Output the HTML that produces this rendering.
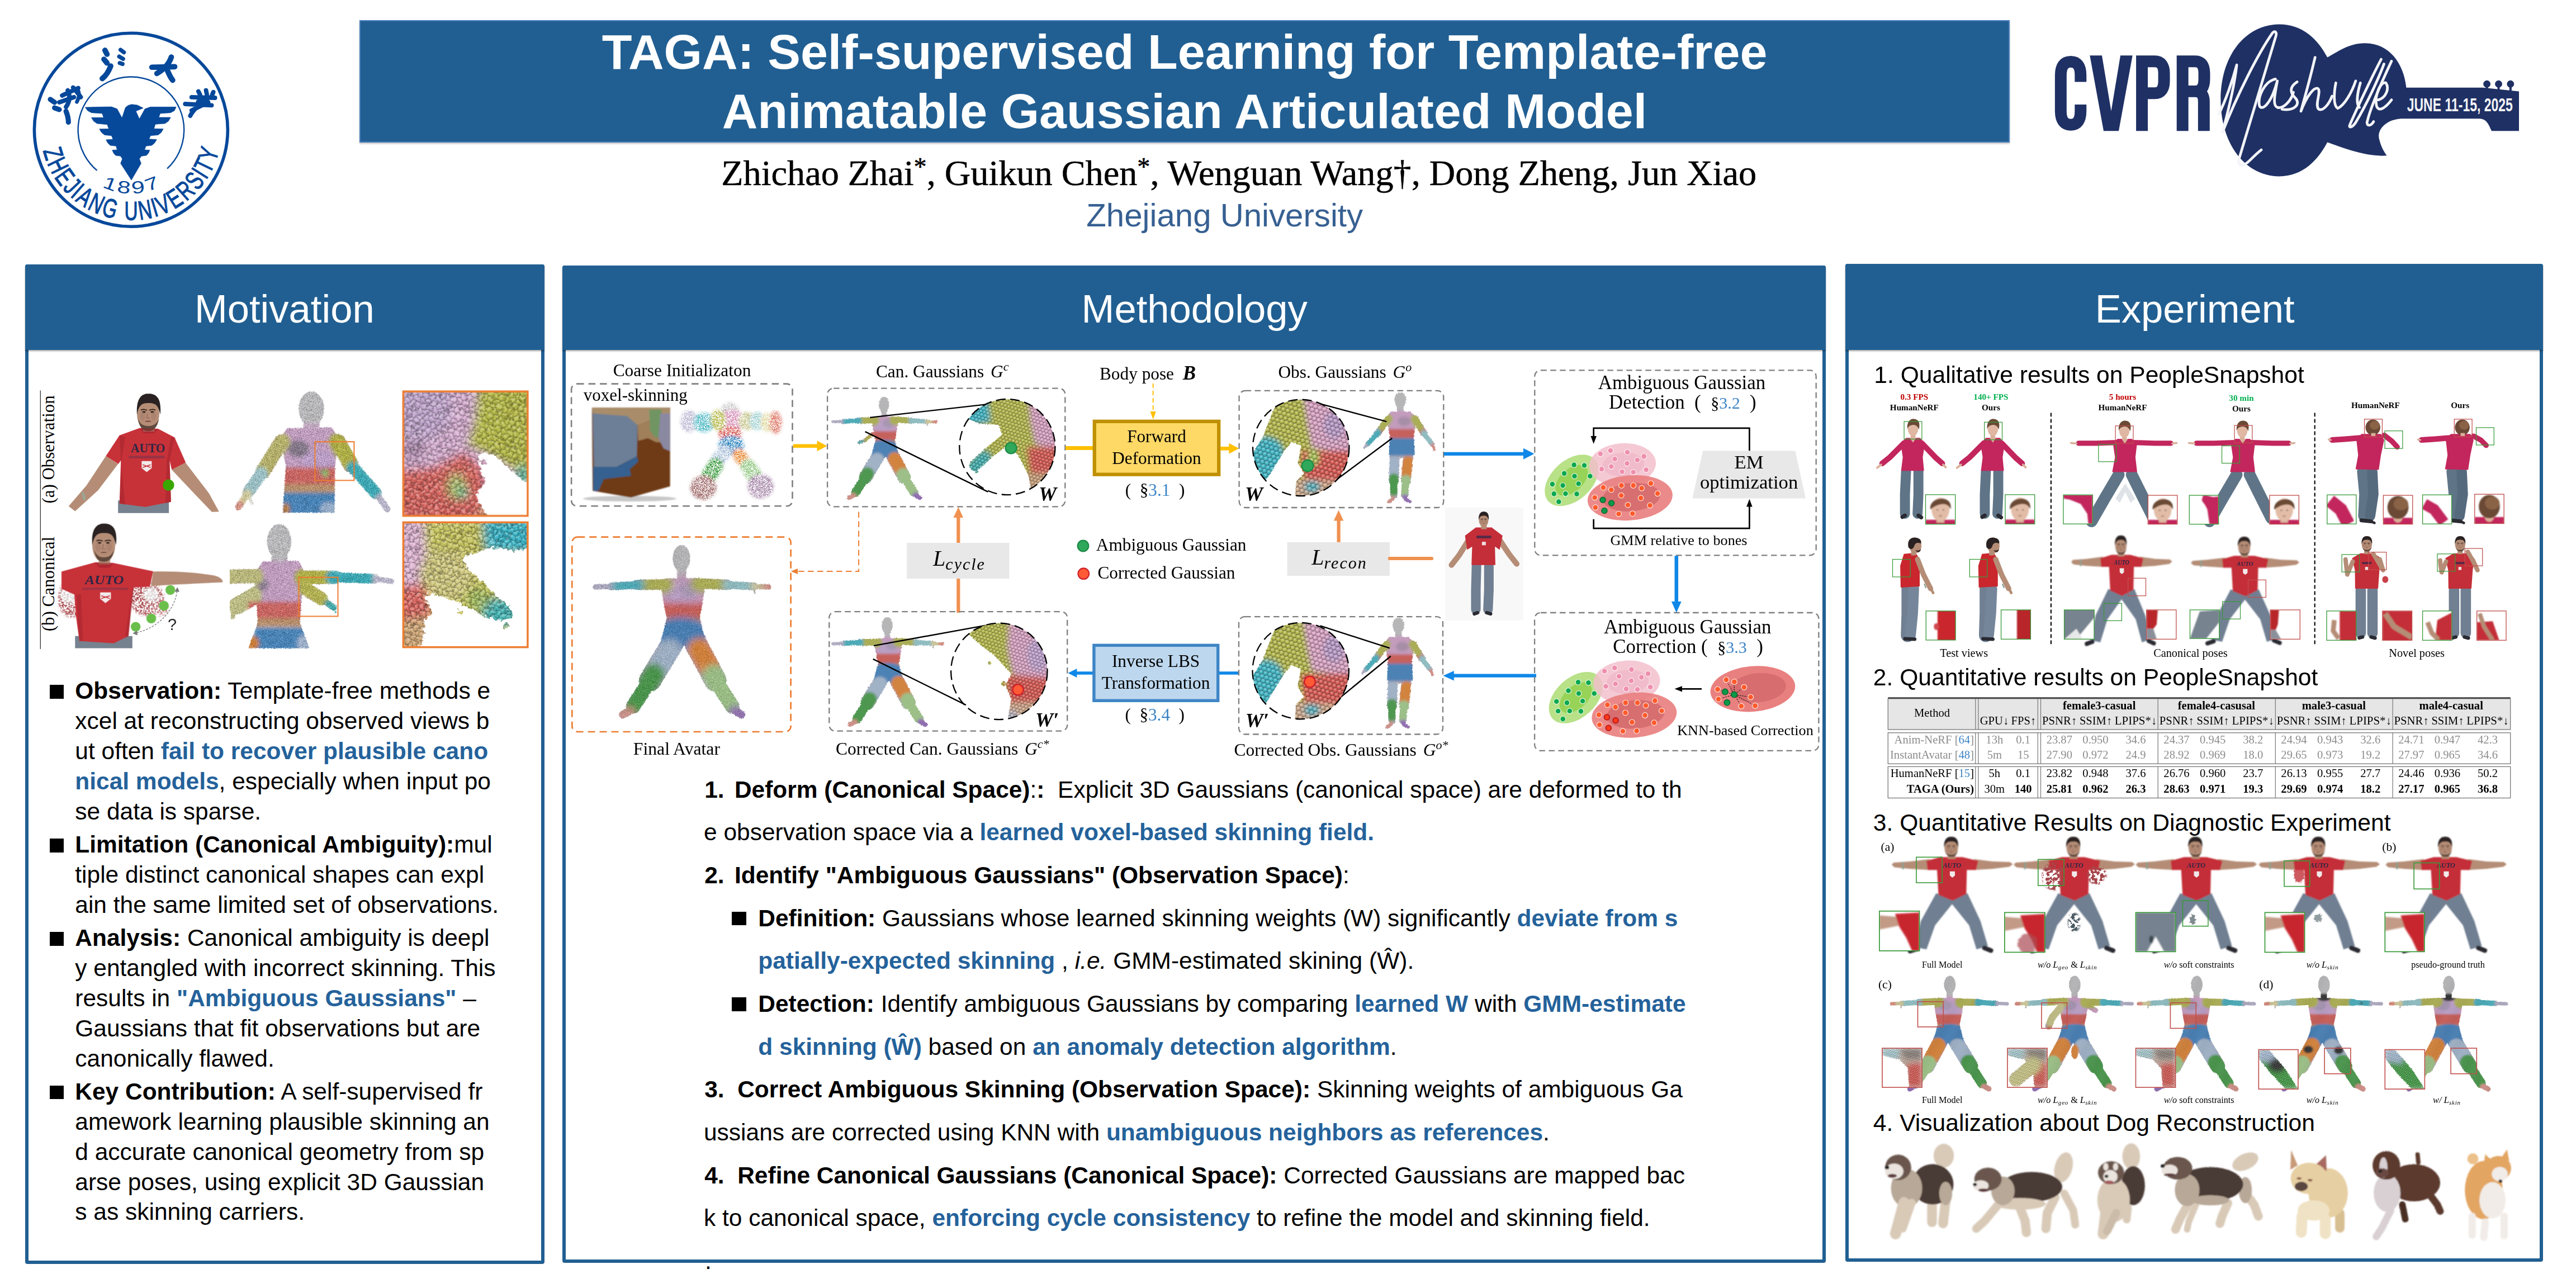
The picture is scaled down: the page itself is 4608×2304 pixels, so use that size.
<!DOCTYPE html>
<html lang="en"><head><meta charset="utf-8"><title>TAGA poster</title>
<style>
html,body{margin:0;padding:0;background:#fff;}
body{width:4608px;height:2304px;position:relative;overflow:hidden;font-family:"Liberation Sans",sans-serif;color:#000;}
.a{position:absolute;box-sizing:border-box;}
.t{position:absolute;white-space:pre;line-height:1;}
.s{font-family:"Liberation Sans",sans-serif;}
.r{font-family:"Liberation Serif",serif;}
svg{position:absolute;left:0;top:0;overflow:visible;}
b{font-weight:bold;}
.h{color:#24629b;font-weight:bold;}
svg text{white-space:pre;}
.sr{font-family:"Liberation Serif",serif;}
.ss{font-family:"Liberation Sans",sans-serif;}
</style></head>
<body>
<svg width="0" height="0" style="position:absolute"><defs>
<filter id="b1" x="-30%" y="-30%" width="160%" height="160%"><feGaussianBlur stdDeviation="1"/></filter>
<filter id="b2" x="-30%" y="-30%" width="160%" height="160%"><feGaussianBlur stdDeviation="2"/></filter>
<filter id="b3" x="-30%" y="-30%" width="160%" height="160%"><feGaussianBlur stdDeviation="3"/></filter>
<filter id="b5" x="-30%" y="-30%" width="160%" height="160%"><feGaussianBlur stdDeviation="5"/></filter>
<filter id="b8" x="-30%" y="-30%" width="160%" height="160%"><feGaussianBlur stdDeviation="8"/></filter>
<filter id="b12" x="-30%" y="-30%" width="160%" height="160%"><feGaussianBlur stdDeviation="12"/></filter>
<filter id="b20" x="-30%" y="-30%" width="160%" height="160%"><feGaussianBlur stdDeviation="20"/></filter>
<filter id="rg1" x="-20%" y="-20%" width="140%" height="140%"><feTurbulence type="fractalNoise" baseFrequency="0.9" numOctaves="2" seed="7" result="n"/><feDisplacementMap in="SourceGraphic" in2="n" scale="2.2" xChannelSelector="R" yChannelSelector="G"/></filter>
<filter id="rg2" x="-20%" y="-20%" width="140%" height="140%"><feTurbulence type="fractalNoise" baseFrequency="0.5" numOctaves="2" seed="7" result="n"/><feDisplacementMap in="SourceGraphic" in2="n" scale="4" xChannelSelector="R" yChannelSelector="G"/></filter>
<filter id="rg3" x="-20%" y="-20%" width="140%" height="140%"><feTurbulence type="fractalNoise" baseFrequency="0.25" numOctaves="2" seed="7" result="n"/><feDisplacementMap in="SourceGraphic" in2="n" scale="8" xChannelSelector="R" yChannelSelector="G"/></filter>
<filter id="rg4" x="-20%" y="-20%" width="140%" height="140%"><feTurbulence type="fractalNoise" baseFrequency="0.12" numOctaves="2" seed="7" result="n"/><feDisplacementMap in="SourceGraphic" in2="n" scale="16" xChannelSelector="R" yChannelSelector="G"/></filter>
<filter id="rg5" x="-20%" y="-20%" width="140%" height="140%"><feTurbulence type="fractalNoise" baseFrequency="0.07" numOctaves="2" seed="7" result="n"/><feDisplacementMap in="SourceGraphic" in2="n" scale="30" xChannelSelector="R" yChannelSelector="G"/></filter>
<filter id="pj1" x="-20%" y="-20%" width="140%" height="140%"><feTurbulence type="fractalNoise" baseFrequency="0.5" numOctaves="2" seed="7" result="n"/><feDisplacementMap in="SourceGraphic" in2="n" scale="3" xChannelSelector="R" yChannelSelector="G"/></filter>
<filter id="pj2" x="-20%" y="-20%" width="140%" height="140%"><feTurbulence type="fractalNoise" baseFrequency="0.2" numOctaves="2" seed="7" result="n"/><feDisplacementMap in="SourceGraphic" in2="n" scale="9" xChannelSelector="R" yChannelSelector="G"/></filter>
<filter id="pj3" x="-20%" y="-20%" width="140%" height="140%"><feTurbulence type="fractalNoise" baseFrequency="0.08" numOctaves="2" seed="7" result="n"/><feDisplacementMap in="SourceGraphic" in2="n" scale="22" xChannelSelector="R" yChannelSelector="G"/></filter>
<filter id="pj4" x="-20%" y="-20%" width="140%" height="140%"><feTurbulence type="fractalNoise" baseFrequency="0.05" numOctaves="2" seed="7" result="n"/><feDisplacementMap in="SourceGraphic" in2="n" scale="34" xChannelSelector="R" yChannelSelector="G"/></filter>
<filter id="frag" x="-10%" y="-10%" width="120%" height="120%"><feTurbulence type="fractalNoise" baseFrequency="0.09" numOctaves="2" seed="11" result="n"/><feColorMatrix in="n" type="matrix" values="0 0 0 0 0  0 0 0 0 0  0 0 0 0 0  0 0 0 16 -7.6" result="m"/><feComposite in="SourceGraphic" in2="m" operator="in"/></filter>
<radialGradient id="ballg" cx="38%" cy="34%" r="62%"><stop offset="0" stop-color="#fff" stop-opacity=".42"/><stop offset=".45" stop-color="#fff" stop-opacity=".08"/><stop offset=".8" stop-color="#000" stop-opacity=".14"/><stop offset="1" stop-color="#000" stop-opacity=".42"/></radialGradient>
</defs></svg>
<!-- header -->
<div class="a" style="left:643.4px;top:36px;width:2951.6px;height:218.6px;background:#215f92;border:2px solid #4a7ebb;box-shadow:0 2px 3px rgba(0,0,0,.25);"></div>
<div class="t s" style="top:49.01px;font-size:88px;left:2119.00px;transform:translateX(-50%);color:#fff;font-weight:bold;">TAGA: Self-supervised Learning for Template-free</div>
<div class="t s" style="top:154.91px;font-size:88px;left:2119.00px;transform:translateX(-50%);color:#fff;font-weight:bold;">Animatable Gaussian Articulated Model</div>
<style>.sp{font-size:.72em;position:relative;top:-.36em;}</style>
<div id="authors" class="t r" style="top:277.99px;font-size:64.25px;left:1290.30px;-webkit-text-stroke:0.5px #000;">Zhichao Zhai<span class="sp">*</span>, Guikun Chen<span class="sp">*</span>, Wenguan Wang†, Dong Zheng, Jun Xiao</div>
<div id="affil" class="t s" style="top:356.33px;font-size:58.2px;left:1943.30px;color:#376092;">Zhejiang University</div>
<svg width="4608" height="480" viewBox="0 0 4608 480">
<circle cx="234.4" cy="232.3" r="173" fill="#fff" stroke="#06489a" stroke-width="5.6"/>
<path d="M173.5,304.9 A94.8,94.8 0 1 1 299.1,301.6" fill="none" stroke="#06489a" stroke-width="2.4"/>
<path transform="translate(140,170) scale(0.124183)" d="M100,178 L300,172 L480,170 L560,200 L630,330 L680,180 L720,148 L770,135 L850,145 L935,188 L830,232 L880,345 L960,200 L1040,172 L1410,172 L1385,225 L1330,255 L1180,265 L1160,322 L1330,322 L1300,375 L1250,410 L1110,420 L1090,485 L1225,488 L1195,540 L1150,575 L1040,585 L1020,635 L1130,640 L1100,690 L1060,725 L975,735 L955,790 L1030,793 L1010,840 L980,870 L910,880 L880,920 L905,985 L765,1225 L610,985 L635,920 L610,880 L540,870 L510,840 L490,793 L560,790 L545,735 L460,725 L425,690 L400,645 L500,638 L480,585 L380,575 L335,540 L305,490 L440,487 L418,425 L270,410 L220,375 L190,325 L365,325 L345,265 L190,255 L135,225Z" fill="#06489a" stroke="#06489a" stroke-width="6" stroke-linejoin="round"/>
<text class="ss" font-size="47.5" fill="#06489a" text-anchor="middle" stroke="#06489a" stroke-width="1.2" transform="translate(79.8,279.2) rotate(73.1) scale(0.7,1)">Z</text><text class="ss" font-size="47.5" fill="#06489a" text-anchor="middle" stroke="#06489a" stroke-width="1.2" transform="translate(89.2,302.9) rotate(64.1) scale(0.7,1)">H</text><text class="ss" font-size="47.5" fill="#06489a" text-anchor="middle" stroke="#06489a" stroke-width="1.2" transform="translate(102.7,325.8) rotate(54.6) scale(0.7,1)">E</text><text class="ss" font-size="47.5" fill="#06489a" text-anchor="middle" stroke="#06489a" stroke-width="1.2" transform="translate(117.0,343.2) rotate(46.6) scale(0.7,1)">J</text><text class="ss" font-size="47.5" fill="#06489a" text-anchor="middle" stroke="#06489a" stroke-width="1.2" transform="translate(128.2,353.9) rotate(41.1) scale(0.7,1)">I</text><text class="ss" font-size="47.5" fill="#06489a" text-anchor="middle" stroke="#06489a" stroke-width="1.2" transform="translate(142.8,365.3) rotate(34.6) scale(0.7,1)">A</text><text class="ss" font-size="47.5" fill="#06489a" text-anchor="middle" stroke="#06489a" stroke-width="1.2" transform="translate(165.8,378.5) rotate(25.1) scale(0.7,1)">N</text><text class="ss" font-size="47.5" fill="#06489a" text-anchor="middle" stroke="#06489a" stroke-width="1.2" transform="translate(192.7,388.3) rotate(15.0) scale(0.7,1)">G</text><text class="ss" font-size="47.5" fill="#06489a" text-anchor="middle" stroke="#06489a" stroke-width="1.2" transform="translate(234.5,393.8) rotate(-0.0) scale(0.7,1)">U</text><text class="ss" font-size="47.5" fill="#06489a" text-anchor="middle" stroke="#06489a" stroke-width="1.2" transform="translate(262.0,391.4) rotate(-9.8) scale(0.7,1)">N</text><text class="ss" font-size="47.5" fill="#06489a" text-anchor="middle" stroke="#06489a" stroke-width="1.2" transform="translate(281.0,386.9) rotate(-16.8) scale(0.7,1)">I</text><text class="ss" font-size="47.5" fill="#06489a" text-anchor="middle" stroke="#06489a" stroke-width="1.2" transform="translate(298.3,380.6) rotate(-23.3) scale(0.7,1)">V</text><text class="ss" font-size="47.5" fill="#06489a" text-anchor="middle" stroke="#06489a" stroke-width="1.2" transform="translate(320.9,368.7) rotate(-32.4) scale(0.7,1)">E</text><text class="ss" font-size="47.5" fill="#06489a" text-anchor="middle" stroke="#06489a" stroke-width="1.2" transform="translate(342.1,352.6) rotate(-41.8) scale(0.7,1)">R</text><text class="ss" font-size="47.5" fill="#06489a" text-anchor="middle" stroke="#06489a" stroke-width="1.2" transform="translate(360.4,333.3) rotate(-51.3) scale(0.7,1)">S</text><text class="ss" font-size="47.5" fill="#06489a" text-anchor="middle" stroke="#06489a" stroke-width="1.2" transform="translate(371.1,318.3) rotate(-57.8) scale(0.7,1)">I</text><text class="ss" font-size="47.5" fill="#06489a" text-anchor="middle" stroke="#06489a" stroke-width="1.2" transform="translate(379.6,303.0) rotate(-64.1) scale(0.7,1)">T</text><text class="ss" font-size="47.5" fill="#06489a" text-anchor="middle" stroke="#06489a" stroke-width="1.2" transform="translate(388.7,280.1) rotate(-72.8) scale(0.7,1)">Y</text>
<text class="ss" font-size="36" fill="#06489a" text-anchor="middle" transform="translate(193.5,338.7) rotate(21.0) scale(1.2,0.86)">1</text><text class="ss" font-size="36" fill="#06489a" text-anchor="middle" transform="translate(220.5,345.5) rotate(7.0) scale(1.2,0.86)">8</text><text class="ss" font-size="36" fill="#06489a" text-anchor="middle" transform="translate(248.3,345.5) rotate(-7.0) scale(1.2,0.86)">9</text><text class="ss" font-size="36" fill="#06489a" text-anchor="middle" transform="translate(275.3,338.7) rotate(-21.0) scale(1.2,0.86)">7</text>
<g transform="translate(40,40) scale(0.3028)" fill="none" stroke="#06489a" stroke-linecap="round" stroke-linejoin="round"><path stroke-width="30" d="M165,455 L190,472 M190,505 L218,515 M258,525 Q272,560 272,590"/><path stroke-width="26" d="M235,432 L330,388 M268,402 Q292,452 258,500 M300,385 Q330,420 345,442 M218,472 L305,442"/><path stroke-width="22" d="M330,402 Q342,432 322,470"/><path stroke-width="32" d="M488,165 L500,188 M482,218 L500,240 M522,258 Q502,310 472,332"/><path stroke-width="24" d="M580,162 L600,177 M572,202 L595,216 M575,240 L592,246"/><path stroke-width="32" d="M765,265 L900,262 M880,205 Q862,262 795,302 M852,272 Q872,322 888,342"/><path stroke-width="26" d="M1000,442 L1138,446 M1040,408 L1050,428 M1085,402 L1090,426 M1128,412 L1120,432 M962,482 L1118,490 M1000,520 L1098,472 M1030,502 Q1002,530 992,552"/><path stroke-width="30" d="M1040,470 L1090,468"/></g>
</svg>
<svg width="4608" height="480" viewBox="0 0 4608 480">
<g transform="translate(3660,30) scale(0.33773)">
<path d="M925,440 C925,200 1060,40 1235,40 C1360,40 1440,120 1490,215 C1540,190 1600,140 1690,140 C1820,140 1895,250 1908,375 L2315,375 L2505,395 L2505,605 L2360,605 C2340,560 2330,540 2290,540 L1880,540 C1800,545 1750,600 1765,650 C1775,690 1790,715 1805,735 C1700,745 1560,690 1490,665 C1440,760 1360,845 1235,845 C1060,845 925,680 925,440 Z" fill="#1f3064"/>
<circle cx="2335" cy="356" r="19" fill="#1f3064"/><rect x="2329" y="356" width="12" height="40" fill="#1f3064"/><circle cx="2397" cy="356" r="19" fill="#1f3064"/><rect x="2391" y="356" width="12" height="40" fill="#1f3064"/><circle cx="2460" cy="356" r="19" fill="#1f3064"/><rect x="2454" y="356" width="12" height="40" fill="#1f3064"/>
<g fill="none" stroke="#1f3064" stroke-width="62" stroke-linejoin="miter"><path d="M183,465 L183,500 Q183,572 131,572 Q78,572 78,500 L78,310 Q78,238 131,238 Q183,238 183,310 L183,345"/><path d="M232,205 L296,205 L345,500 L394,205 L458,205 L385,605 L305,605Z" fill="#1f3064" stroke="none"/><path d="M508,605 L508,236 L575,236 Q625,236 625,300 L625,340 Q625,405 575,405 L508,405"/><path d="M723,605 L723,236 L790,236 Q838,236 838,300 L838,330 Q838,395 790,395 L723,395 M790,395 Q836,395 836,450 L836,605"/></g>
<g fill="none" stroke="#f4f5f8" stroke-linecap="round" stroke-linejoin="round" stroke-width="14"><path d="M915,515 C950,450 990,330 1010,255 C1000,350 965,500 935,610"/><path d="M935,610 C1010,420 1120,200 1200,85 C1215,70 1225,85 1215,110 C1170,260 1080,560 1020,760 C1015,790 1040,800 1080,760 C1100,740 1120,720 1140,705"/><path d="M1215,330 C1160,340 1120,420 1130,470 C1140,500 1190,470 1225,340 C1210,420 1200,470 1225,480 C1260,490 1300,440 1310,400"/><path d="M1330,345 C1290,370 1290,400 1320,430 C1350,460 1320,500 1250,490"/><path d="M1425,215 C1400,320 1370,430 1350,500 C1380,420 1420,370 1440,380 C1460,395 1420,470 1445,490 C1470,500 1500,460 1515,420"/><path d="M1535,350 C1525,400 1520,470 1545,485 C1580,470 1620,400 1640,340"/><path d="M1665,350 C1650,400 1640,460 1660,480"/><path d="M1775,225 C1720,330 1640,500 1610,570 C1600,590 1620,590 1640,560 C1700,460 1760,330 1790,250"/><path d="M1830,235 C1790,320 1720,470 1700,560 C1700,580 1720,580 1735,555"/><path d="M1760,440 C1800,430 1820,380 1800,350 C1770,340 1740,420 1750,470 C1760,510 1800,480 1830,440"/></g>
<text class="ss" x="1912" y="500" font-size="100" font-weight="bold" fill="#f4f5f8" textLength="560" lengthAdjust="spacingAndGlyphs">JUNE 11-15, 2025</text>
</g></svg>

<!-- panels -->
<div class="a" style="left:44.5px;top:472.5px;width:929.5px;height:1788.0px;border:6px solid #215f92;border-radius:4px;background:#fff;"></div>
<div class="a" style="left:44.5px;top:472.5px;width:929.5px;height:153.10000000000002px;background:#215f92;border-radius:4px 4px 0 0;box-shadow:0 2px 3px rgba(0,0,0,.35);"></div>
<div class="t s" style="top:517.54px;font-size:70.6px;left:508.80px;transform:translateX(-50%);color:#fff;">Motivation</div>
<div class="a" style="left:1006px;top:475px;width:2259.6px;height:1784.3000000000002px;border:6px solid #215f92;border-radius:4px;background:#fff;"></div>
<div class="a" style="left:1006px;top:475px;width:2259.6px;height:150.60000000000002px;background:#215f92;border-radius:4px 4px 0 0;box-shadow:0 2px 3px rgba(0,0,0,.35);"></div>
<div class="t s" style="top:517.54px;font-size:70.6px;left:2136.70px;transform:translateX(-50%);color:#fff;">Methodology</div>
<div class="a" style="left:3301px;top:471.5px;width:1248.3000000000002px;height:1785.0px;border:6px solid #215f92;border-radius:4px;background:#fff;"></div>
<div class="a" style="left:3301px;top:471.5px;width:1248.3000000000002px;height:154.10000000000002px;background:#215f92;border-radius:4px 4px 0 0;box-shadow:0 2px 3px rgba(0,0,0,.35);"></div>
<div class="t s" style="top:517.54px;font-size:70.6px;left:3926.20px;transform:translateX(-50%);color:#fff;">Experiment</div>

<!-- motivation -->
<div class="a" style="left:88.5px;top:1225.2px;width:25px;height:24.5px;background:#000;"></div>
<div class="t s" style="top:1215.25px;font-size:42.47px;left:134.30px;"><b>Observation:</b> Template-free methods e</div>
<div class="t s" style="top:1269.13px;font-size:42.47px;left:134.30px;">xcel at reconstructing observed views b</div>
<div class="t s" style="top:1323.01px;font-size:42.47px;left:134.30px;">ut often <span class="h">fail to recover plausible cano</span></div>
<div class="t s" style="top:1376.89px;font-size:42.47px;left:134.30px;"><span class="h">nical models</span>, especially when input po</div>
<div class="t s" style="top:1430.77px;font-size:42.47px;left:134.30px;">se data is sparse.</div>
<div class="a" style="left:88.5px;top:1500.0000000000007px;width:25px;height:24.5px;background:#000;"></div>
<div class="t s" style="top:1490.05px;font-size:42.47px;left:134.30px;"><b>Limitation (Canonical Ambiguity):</b>mul</div>
<div class="t s" style="top:1543.93px;font-size:42.47px;left:134.30px;">tiple distinct canonical shapes can expl</div>
<div class="t s" style="top:1597.81px;font-size:42.47px;left:134.30px;">ain the same limited set of observations.</div>
<div class="a" style="left:88.5px;top:1667.040000000001px;width:25px;height:24.5px;background:#000;"></div>
<div class="t s" style="top:1657.09px;font-size:42.47px;left:134.30px;"><b>Analysis:</b> Canonical ambiguity is deepl</div>
<div class="t s" style="top:1710.97px;font-size:42.47px;left:134.30px;">y entangled with incorrect skinning. This</div>
<div class="t s" style="top:1764.85px;font-size:42.47px;left:134.30px;">results in <span class="h">"Ambiguous Gaussians"</span> –</div>
<div class="t s" style="top:1818.73px;font-size:42.47px;left:134.30px;">Gaussians that fit observations but are</div>
<div class="t s" style="top:1872.61px;font-size:42.47px;left:134.30px;">canonically flawed.</div>
<div class="a" style="left:88.5px;top:1941.8400000000017px;width:25px;height:24.5px;background:#000;"></div>
<div class="t s" style="top:1931.89px;font-size:42.47px;left:134.30px;"><b>Key Contribution:</b> A self-supervised fr</div>
<div class="t s" style="top:1985.77px;font-size:42.47px;left:134.30px;">amework learning plausible skinning an</div>
<div class="t s" style="top:2039.65px;font-size:42.47px;left:134.30px;">d accurate canonical geometry from sp</div>
<div class="t s" style="top:2093.53px;font-size:42.47px;left:134.30px;">arse poses, using explicit 3D Gaussian</div>
<div class="t s" style="top:2147.41px;font-size:42.47px;left:134.30px;">s as skinning carriers.</div>
<svg width="1000" height="1200" viewBox="0 0 1000 1200">
<defs><pattern id="mb1" width="17.48" height="30.40" patternUnits="userSpaceOnUse" patternTransform="rotate(17)"><circle cx="0.00" cy="0.00" r="10.64" fill="url(#ballg)"/><circle cx="17.48" cy="0.00" r="10.64" fill="url(#ballg)"/><circle cx="8.74" cy="15.20" r="10.64" fill="url(#ballg)"/><circle cx="0.00" cy="30.40" r="10.64" fill="url(#ballg)"/><circle cx="17.48" cy="30.40" r="10.64" fill="url(#ballg)"/></pattern>
<pattern id="mb2" width="27.60" height="48.00" patternUnits="userSpaceOnUse" patternTransform="rotate(17)"><circle cx="0.00" cy="0.00" r="16.80" fill="url(#ballg)"/><circle cx="27.60" cy="0.00" r="16.80" fill="url(#ballg)"/><circle cx="13.80" cy="24.00" r="16.80" fill="url(#ballg)"/><circle cx="0.00" cy="48.00" r="16.80" fill="url(#ballg)"/><circle cx="27.60" cy="48.00" r="16.80" fill="url(#ballg)"/></pattern>
</defs>
<line x1="72.3" y1="698.5" x2="72.3" y2="1161" stroke="#222" stroke-width="1.2"/>
<text class="sr" font-size="30.95" transform="translate(97,900.6) rotate(-90)">(a) Observation</text>
<text class="sr" font-size="30.95" transform="translate(97,1129.2) rotate(-90)">(b) Canonical</text>
<g transform="translate(60,680) scale(0.25621)">
<g filter="url(#b3)" stroke-linecap="round"><polygon points="1060,575 965,625 1130,800 1245,920 1295,918 1225,790" fill="#b58d76" /><polygon points="505,530 590,585 450,770 290,915 245,880 370,735" fill="#b58d76" /><line x1="345" y1="790" x2="355" y2="830" stroke-width="18" stroke="#9aa596"/><rect x="590" y="840" width="355" height="88" fill="#76828f" /><polygon points="740,335 870,340 985,400 1062,575 965,625 950,560 960,850 780,885 600,862 610,560 592,585 505,530 600,385" fill="#c73038" /><rect x="765" y="270" width="80" height="90" fill="#b58d76" /><ellipse cx="800" cy="235" rx="78" ry="118" fill="#b58d76" /><path d="M722,240 C715,120 760,92 805,95 C860,95 895,130 885,240 C870,170 850,160 800,160 C760,160 735,170 722,240Z" fill="#2a2421"/><path d="M730,270 C740,340 770,355 800,355 C835,355 865,335 875,270 C860,310 830,320 800,320 C770,320 745,310 730,270Z" fill="#4a382f" opacity=".8"/><ellipse cx="770.6" cy="222.4" rx="11.9" ry="5.775" fill="#2a1d18" /><ellipse cx="829.4" cy="222.4" rx="11.9" ry="5.775" fill="#2a1d18" /><path d="M751.0,208.75 Q770.6,199.3 790.2,209.8 M809.8,209.8 Q829.4,199.3 849.0,208.75" stroke="#2a1d18" stroke-width="6.3" fill="none"/><path d="M796.5,232.9 L790.2,264.4 L809.8,264.4" stroke="#8a6350" stroke-width="5.2" fill="none" opacity=".8"/><ellipse cx="800" cy="287.5" rx="21.0" ry="4.2" fill="#7a4a42" /><ellipse cx="761.5" cy="250.75" rx="17.5" ry="31.5" fill="#9a7460" opacity=".35"/><ellipse cx="838.5" cy="250.75" rx="17.5" ry="31.5" fill="#9a7460" opacity=".35"/><polygon points="600,385 640,400 615,560 600,860 640,870 610,560" fill="#8e1f28" opacity=".35"/><polygon points="960,400 985,400 950,560 960,850 920,860 930,560" fill="#8e1f28" opacity=".35"/><polygon points="740,335 870,340 840,372 770,372" fill="#9a2028" opacity=".5"/></g><text class="sr" x="800" y="503" font-size="92" font-weight="bold" text-anchor="middle" fill="#2d2545" textLength="240" lengthAdjust="spacingAndGlyphs" filter="url(#b1)">AUTO</text><rect x="665" y="528" width="250" height="18" fill="#7a3050" opacity=".6" filter="url(#b2)"/><path d="M755,565 L825,565 L825,615 L790,642 L755,615Z" fill="#f2e9ea" filter="url(#b1)"/><path d="M762,590 L818,610 M818,590 L762,610" stroke="#c73038" stroke-width="6"/><ellipse cx="942" cy="733" rx="40" ry="40" fill="#3aa600" />
<mask id="mka" maskUnits="userSpaceOnUse" x="1310" y="0" width="1330" height="1000"><g filter="url(#rg4)" fill="#fff" stroke="#fff" stroke-linecap="round" stroke-linejoin="round"><ellipse cx="1940" cy="200" rx="88" ry="122" /><rect x="1885" y="280" width="110" height="80" /><polygon points="1775,335 2080,330 2130,400 2105,600 2100,925 1740,925 1762,600 1722,400" /><polyline points="1730,430 1600,640" stroke-width="105" fill="none"/><polyline points="1600,640 1500,780" stroke-width="85" fill="none"/><polyline points="1500,780 1432,885" stroke-width="50" fill="none"/><line x1="1510" y1="830" x2="1525" y2="860" stroke-width="22"/><polyline points="2125,430 2215,590" stroke-width="110" fill="none"/><polyline points="2215,590 2390,790" stroke-width="85" fill="none"/><polyline points="2390,790 2470,900" stroke-width="45" fill="none"/></g></mask>
<g mask="url(#mka)"><g filter="url(#b12)" stroke-linecap="round"><rect x="1650" y="280" width="560" height="360" fill="#d2a6d0" /><ellipse cx="1940" cy="190" rx="130" ry="150" fill="#c9c9cc" /><rect x="1840" y="300" width="200" height="40" fill="#d9b8d6" /><ellipse cx="1850" cy="480" rx="75" ry="60" fill="#6f6a7a" opacity=".75"/><ellipse cx="1990" cy="560" rx="120" ry="70" fill="#c9a9dc" opacity=".8"/><rect x="1650" y="610" width="560" height="120" fill="#dc615b" /><rect x="1650" y="725" width="560" height="60" fill="#c9976a" /><rect x="1650" y="785" width="560" height="160" fill="#3d86c6" /><ellipse cx="2060" cy="900" rx="60" ry="50" fill="#9db9dc" /><ellipse cx="1760" cy="900" rx="30" ry="40" fill="#d0873a" /><polyline points="1730,430 1600,640" stroke-width="125" fill="none" stroke="#c6c16a"/><polyline points="1585,660 1505,775" stroke-width="105" fill="none" stroke="#a5d4da"/><polyline points="1490,800 1465,840" stroke-width="70" fill="none" stroke="#e8dfa6"/><polyline points="1440,870 1425,895" stroke-width="60" fill="none" stroke="#ee9a88"/><polyline points="2125,430 2205,570" stroke-width="130" fill="none" stroke="#bcbc3a"/><polyline points="2235,620 2380,780" stroke-width="105" fill="none" stroke="#2fb5c4"/><polyline points="2420,830 2475,905" stroke-width="70" fill="none" stroke="#c8c4de"/><ellipse cx="2040" cy="650" rx="18" ry="30" fill="#8bd06a" /><ellipse cx="2010" cy="640" rx="10" ry="16" fill="#55c9a0" /></g><rect x="1350" y="40" width="1250" height="920" fill="url(#mb1)" filter="url(#pj3)"/></g>
<rect x="1965" y="430" width="273" height="270" fill="none" stroke="#ed7d31" stroke-width="8"/></g>
<g transform="translate(60,920) scale(0.25621)">
<g filter="url(#b3)" stroke-linecap="round"><rect x="290" y="850" width="400" height="85" fill="#76828f" /><g filter="url(#frag)"><g filter="url(#b8)"><ellipse cx="265" cy="590" rx="95" ry="130" fill="#a8484e" /><ellipse cx="790" cy="590" rx="120" ry="120" fill="#a8484e" /><ellipse cx="880" cy="660" rx="60" ry="50" fill="#c07a7e" /><ellipse cx="250" cy="560" rx="60" ry="60" fill="#d9d0d0" /><ellipse cx="820" cy="560" rx="50" ry="50" fill="#d9d0d0" /></g></g><path d="M835,400 C1000,395 1150,410 1250,425 C1300,435 1325,455 1320,475 C1200,480 1000,490 820,500Z" fill="#b58d76"/><polygon points="195,400 430,335 560,340 835,398 812,505 700,510 690,560 662,850 560,900 320,885 295,700 285,560 195,520" fill="#c73038" /><rect x="455" y="250" width="80" height="100" fill="#b58d76" /><ellipse cx="490" cy="215" rx="80" ry="122" fill="#b58d76" /><path d="M410,215 C400,90 450,62 495,65 C550,65 590,100 575,215 C560,140 540,130 490,130 C450,130 425,140 410,215Z" fill="#2a2421"/><path d="M425,250 C435,315 460,330 490,330 C525,330 550,312 560,250 C545,290 520,300 490,300 C460,300 440,290 425,250Z" fill="#4a382f" opacity=".8"/><ellipse cx="460.6" cy="199.04" rx="11.9" ry="5.94" fill="#2a1d18" /><ellipse cx="519.4" cy="199.04" rx="11.9" ry="5.94" fill="#2a1d18" /><path d="M441.0,185.0 Q460.6,175.28 480.20000000000005,186.07999999999998 M499.79999999999995,186.07999999999998 Q519.4,175.28 539.0,185.0" stroke="#2a1d18" stroke-width="6.5" fill="none"/><path d="M486.5,209.84 L480.2,242.24 L499.8,242.24" stroke="#8a6350" stroke-width="5.4" fill="none" opacity=".8"/><ellipse cx="490" cy="266.0" rx="21.0" ry="4.32" fill="#7a4a42" /><ellipse cx="451.5" cy="228.2" rx="17.5" ry="32.4" fill="#9a7460" opacity=".35"/><ellipse cx="528.5" cy="228.2" rx="17.5" ry="32.4" fill="#9a7460" opacity=".35"/><polygon points="300,560 330,560 345,880 320,885" fill="#8e1f28" opacity=".35"/><polygon points="690,520 700,510 665,850 640,860" fill="#8e1f28" opacity=".35"/><polygon points="430,335 560,340 530,372 460,372" fill="#9a2028" opacity=".5"/></g><text class="sr" x="495" y="488" font-size="92" font-weight="bold" font-style="italic" text-anchor="middle" fill="#2d2545" textLength="270" lengthAdjust="spacingAndGlyphs" filter="url(#b1)">AUTO</text><rect x="340" y="512" width="320" height="16" fill="#7a3050" opacity=".5" filter="url(#b2)"/><path d="M465,545 L540,545 L540,590 L502,620 L465,590Z" fill="#f2e9ea" filter="url(#b1)"/><path d="M472,568 L533,588 M533,568 L472,588" stroke="#c73038" stroke-width="6"/><ellipse cx="955" cy="528" rx="34" ry="34" fill="#6abf4b" filter="url(#b2)"/><ellipse cx="910" cy="638" rx="34" ry="34" fill="#6abf4b" filter="url(#b2)"/><ellipse cx="822" cy="727" rx="34" ry="34" fill="#6abf4b" filter="url(#b2)"/><ellipse cx="713" cy="785" rx="34" ry="34" fill="#6abf4b" filter="url(#b2)"/><path d="M1003,515 C1000,650 880,800 700,830" fill="none" stroke="#777" stroke-width="5" stroke-dasharray="14 9"/><path d="M985,540 L1005,508 L1018,542Z M722,812 L692,831 L726,845Z" fill="#777"/><text class="ss" x="968" y="806" font-size="112" text-anchor="middle" fill="#222">?</text>
<clipPath id="mkbclip"><rect x="1370" y="0" width="1300" height="940"/></clipPath><g clip-path="url(#mkbclip)"><mask id="mkb" maskUnits="userSpaceOnUse" x="1210" y="0" width="1430" height="990"><g filter="url(#rg4)" fill="#fff" stroke="#fff" stroke-linecap="round" stroke-linejoin="round"><ellipse cx="1715" cy="190" rx="84" ry="122" /><rect x="1662" y="270" width="110" height="80" /><polygon points="1600,330 1850,325 1900,420 1870,600 1860,760 1925,935 1500,935 1565,760 1560,640 1540,420" /><polyline points="1370,435 1600,430" stroke-width="100" fill="none"/><polyline points="1420,640 1560,560" stroke-width="120" fill="none"/><line x1="1395" y1="690" x2="1390" y2="720" stroke-width="30"/><polyline points="1850,440 2100,440" stroke-width="95" fill="none"/><polyline points="2100,440 2380,450" stroke-width="70" fill="none"/><polyline points="2380,450 2500,468" stroke-width="38" fill="none"/><polyline points="1900,520 2010,590" stroke-width="95" fill="none"/><polyline points="2010,590 2095,650" stroke-width="45" fill="none"/><ellipse cx="2108" cy="685" rx="7" ry="7" /></g></mask>
<g mask="url(#mkb)"><g filter="url(#b12)" stroke-linecap="round"><rect x="1300" y="280" width="700" height="340" fill="#d3a7d2" /><ellipse cx="1715" cy="180" rx="130" ry="150" fill="#c9c9cc" /><ellipse cx="1570" cy="490" rx="70" ry="55" fill="#6f6a7a" opacity=".7"/><polyline points="1340,435 1540,430" stroke-width="130" fill="none" stroke="#c9c77c"/><polyline points="1380,660 1520,570" stroke-width="150" fill="none" stroke="#cfcf8a"/><rect x="1500" y="610" width="420" height="120" fill="#dc615b" /><rect x="1500" y="725" width="420" height="60" fill="#c9976a" /><rect x="1540" y="790" width="420" height="170" fill="#3d86c6" /><ellipse cx="1890" cy="900" rx="50" ry="60" fill="#a7c0e0" /><ellipse cx="1530" cy="900" rx="45" ry="50" fill="#e0802a" /><polyline points="1880,440 2030,440" stroke-width="120" fill="none" stroke="#bcbc3a"/><polyline points="2090,440 2330,450" stroke-width="100" fill="none" stroke="#2fb5c4"/><polyline points="2400,455 2510,470" stroke-width="70" fill="none" stroke="#c8c4de"/><polyline points="1900,520 2010,590" stroke-width="110" fill="none" stroke="#c2c04a"/><polyline points="2060,625 2110,670" stroke-width="60" fill="none" stroke="#2fb0b0"/></g><rect x="1250" y="40" width="1350" height="910" fill="url(#mb1)" filter="url(#pj3)"/></g>
</g><rect x="1852" y="440" width="273" height="272" fill="none" stroke="#ed7d31" stroke-width="8"/></g>
<g transform="translate(700,680) scale(0.38835)">
<clipPath id="zba"><rect x="55" y="52" width="573" height="573"/></clipPath><clipPath id="zbb"><rect x="55" y="655" width="573" height="575"/></clipPath>
<g clip-path="url(#zba)"><mask id="mkza" maskUnits="userSpaceOnUse" x="-20" y="-20" width="740" height="740"><g filter="url(#rg5)" fill="#fff" stroke="#fff" stroke-linecap="round" stroke-linejoin="round"><polygon points="40,40 640,40 640,470 600,460 540,400 480,350 430,330 400,345 405,400 435,470 385,530 420,590 460,640 40,640" /><ellipse cx="425" cy="378" rx="13" ry="13" /></g></mask>
<g mask="url(#mkza)"><g filter="url(#b20)" stroke-linecap="round"><rect x="20" y="20" width="640" height="640" fill="#d6acd0" /><ellipse cx="120" cy="130" rx="160" ry="150" fill="#bfa3cc" /><ellipse cx="110" cy="320" rx="50" ry="40" fill="#7d5f80" opacity=".6"/><polygon points="400,20 660,20 660,480 540,400 420,330 350,300 380,200" fill="#b7ba42" /><ellipse cx="610" cy="440" rx="40" ry="50" fill="#55b59a" /><polygon points="20,420 200,400 330,330 420,400 470,660 20,660" fill="#d9605a" /><ellipse cx="300" cy="490" rx="45" ry="60" fill="#9bcf6a" opacity=".8"/><ellipse cx="330" cy="520" rx="25" ry="25" fill="#55cfa0" /><ellipse cx="440" cy="610" rx="40" ry="30" fill="#d9a27a" /></g><rect x="20" y="20" width="660" height="660" fill="url(#mb2)" filter="url(#pj4)"/></g>
</g><rect x="55" y="52" width="573" height="573" fill="none" stroke="#ed7d31" stroke-width="9"/><g clip-path="url(#zbb)"><mask id="mkzb" maskUnits="userSpaceOnUse" x="-20" y="580" width="740" height="740"><g filter="url(#rg5)" fill="#fff" stroke="#fff" stroke-linecap="round" stroke-linejoin="round"><polygon points="40,640 640,640 640,775 560,785 460,770 330,815 350,870 420,930 470,980 540,1040 560,1075 520,1110 430,1090 380,1060 300,1020 250,1000 180,980 150,1000 190,1070 150,1110 150,1180 130,1240 40,1240" /><ellipse cx="528" cy="1130" rx="12" ry="12" /><ellipse cx="318" cy="1072" rx="12" ry="12" /><ellipse cx="545" cy="1085" rx="12" ry="12" /></g></mask>
<g mask="url(#mkzb)"><g filter="url(#b20)" stroke-linecap="round"><rect x="20" y="640" width="640" height="620" fill="#c5c258" /><polygon points="20,640 150,640 160,800 140,960 20,960" fill="#dcb0d0" /><ellipse cx="250" cy="900" rx="120" ry="120" fill="#d0c87a" /><polygon points="420,640 660,640 660,800 430,790" fill="#35b5c8" /><ellipse cx="500" cy="1070" rx="90" ry="70" fill="#3fb5b5" /><ellipse cx="400" cy="1010" rx="50" ry="50" fill="#9dbb5a" /><polygon points="20,950 150,940 200,1080 20,1120" fill="#d9605a" /><polygon points="20,1110 200,1080 200,1260 20,1260" fill="#d2a774" /></g><rect x="20" y="620" width="660" height="660" fill="url(#mb2)" filter="url(#pj4)"/></g>
</g><rect x="55" y="655" width="573" height="575" fill="none" stroke="#ed7d31" stroke-width="9"/></g>
</svg>

<!-- method -->
<div class="t s" style="top:1391.65px;font-size:42.47px;left:1260.20px;"><b>1.</b></div>
<div class="t s" style="top:1391.65px;font-size:42.47px;left:1313.90px;"><b>Deform (Canonical Space)</b>:<b>:</b>  Explicit 3D Gaussians (canonical space) are deformed to th</div>
<div class="t s" style="top:1468.30px;font-size:42.47px;left:1259.00px;">e observation space via a <span class="h">learned voxel-based skinning field.</span></div>
<div class="t s" style="top:1544.95px;font-size:42.47px;left:1260.20px;"><b>2.</b></div>
<div class="t s" style="top:1544.95px;font-size:42.47px;left:1313.90px;"><b>Identify "Ambiguous Gaussians" (Observation Space)</b>:</div>
<div class="a" style="left:1309.4px;top:1630.95px;width:26px;height:24.5px;background:#000;"></div>
<div class="t s" style="top:1621.60px;font-size:42.47px;left:1356.30px;"><b>Definition:</b> Gaussians whose learned skinning weights (W) significantly <span class="h">deviate from s</span></div>
<div class="t s" style="top:1698.25px;font-size:42.47px;left:1356.30px;"><span class="h">patially-expected skinning</span> , <i>i.e.</i> GMM-estimated skining (Ŵ).</div>
<div class="a" style="left:1309.4px;top:1784.25px;width:26px;height:24.5px;background:#000;"></div>
<div class="t s" style="top:1774.90px;font-size:42.47px;left:1356.30px;"><b>Detection:</b> Identify ambiguous Gaussians by comparing <span class="h">learned W</span> with <span class="h">GMM-estimate</span></div>
<div class="t s" style="top:1851.55px;font-size:42.47px;left:1356.30px;"><span class="h">d skinning (Ŵ)</span> based on <span class="h">an anomaly detection algorithm</span>.</div>
<div class="t s" style="top:1928.20px;font-size:42.47px;left:1260.20px;"><b>3.  Correct Ambiguous Skinning (Observation Space):</b> Skinning weights of ambiguous Ga</div>
<div class="t s" style="top:2004.85px;font-size:42.47px;left:1259.00px;">ussians are corrected using KNN with <span class="h">unambiguous neighbors as references</span>.</div>
<div class="t s" style="top:2081.50px;font-size:42.47px;left:1260.20px;"><b>4.  Refine Canonical Gaussians (Canonical Space):</b> Corrected Gaussians are mapped bac</div>
<div class="t s" style="top:2158.15px;font-size:42.47px;left:1259.00px;">k to canonical space, <span class="h">enforcing cycle consistency</span> to refine the model and skinning field.</div>
<div class="t s" style="top:2234.80px;font-size:42.47px;left:1261.00px;">.</div>
<svg width="4608" height="1400" viewBox="0 0 4608 1400">
<defs><pattern id="db1" width="6.44" height="11.20" patternUnits="userSpaceOnUse" patternTransform="rotate(17)"><circle cx="0.00" cy="0.00" r="3.92" fill="url(#ballg)"/><circle cx="6.44" cy="0.00" r="3.92" fill="url(#ballg)"/><circle cx="3.22" cy="5.60" r="3.92" fill="url(#ballg)"/><circle cx="0.00" cy="11.20" r="3.92" fill="url(#ballg)"/><circle cx="6.44" cy="11.20" r="3.92" fill="url(#ballg)"/></pattern>
<pattern id="db2" width="8.28" height="14.40" patternUnits="userSpaceOnUse" patternTransform="rotate(17)"><circle cx="0.00" cy="0.00" r="5.04" fill="url(#ballg)"/><circle cx="8.28" cy="0.00" r="5.04" fill="url(#ballg)"/><circle cx="4.14" cy="7.20" r="5.04" fill="url(#ballg)"/><circle cx="0.00" cy="14.40" r="5.04" fill="url(#ballg)"/><circle cx="8.28" cy="14.40" r="5.04" fill="url(#ballg)"/></pattern>
<pattern id="db3" width="5.98" height="10.40" patternUnits="userSpaceOnUse" patternTransform="rotate(17)"><circle cx="0.00" cy="0.00" r="3.64" fill="url(#ballg)"/><circle cx="5.98" cy="0.00" r="3.64" fill="url(#ballg)"/><circle cx="2.99" cy="5.20" r="3.64" fill="url(#ballg)"/><circle cx="0.00" cy="10.40" r="3.64" fill="url(#ballg)"/><circle cx="5.98" cy="10.40" r="3.64" fill="url(#ballg)"/></pattern>
<filter id="dots" x="-10%" y="-10%" width="120%" height="120%"><feTurbulence type="fractalNoise" baseFrequency="0.9" numOctaves="1" seed="3" result="n"/><feColorMatrix in="n" type="matrix" values="0 0 0 0 0  0 0 0 0 0  0 0 0 0 0  0 0 0 12 -5.3" result="m"/><feComposite in="SourceGraphic" in2="m" operator="in"/></filter></defs>
<text class="sr" x="1220" y="673.1" font-size="31.4" text-anchor="middle" >Coarse Initializaton</text>
<rect x="1022.1" y="686.6" width="395.4" height="218.7" rx="10" fill="none" stroke="#7f7f7f" stroke-width="2.6" stroke-dasharray="12.5 8"/>
<text class="sr" x="1043.8" y="717.3" font-size="31" text-anchor="start" >voxel-skinning</text>
<g transform="translate(1010,630) scale(0.23288)"><g filter="url(#b5)"><ellipse cx="500" cy="1125" rx="360" ry="22" fill="#999" opacity=".55"/><polygon points="210,425 810,425 810,1030 510,1115 215,1065" fill="#6e3a14" /><polygon points="210,425 810,425 810,470 560,560 215,470" fill="#a98d6b" /><polygon points="215,470 480,490 560,560 555,800 400,880 225,880" fill="#6d7f97" /><polygon points="560,560 810,470 810,700 700,690 640,660 565,680" fill="#a0805a" /><polygon points="650,440 745,440 740,640 700,660 655,600" fill="#6f9562" /><polygon points="735,470 810,470 810,760 760,740 720,660" fill="#8b88a2" /><polygon points="220,880 400,880 555,800 565,840 500,900 510,950 300,975 260,1065 220,1065" fill="#34618f" /></g></g>
<g transform="translate(1010,630) scale(0.23288)"><g filter="url(#dots)"><g filter="url(#b12)" stroke-linecap="round"><ellipse cx="1270" cy="455" rx="70" ry="70" fill="#c4c4c6" /><ellipse cx="1285" cy="525" rx="95" ry="85" fill="#d68fb8" /><ellipse cx="1270" cy="625" rx="90" ry="60" fill="#d9564f" /><ellipse cx="1280" cy="715" rx="100" ry="75" fill="#2f86c0" /><ellipse cx="955" cy="530" rx="65" ry="85" fill="#bab6d2" /><ellipse cx="1070" cy="540" rx="85" ry="75" fill="#4cb8c4" /><ellipse cx="1180" cy="520" rx="60" ry="80" fill="#b6b948" /><ellipse cx="1400" cy="530" rx="65" ry="70" fill="#c5c58a" /><ellipse cx="1480" cy="530" rx="60" ry="70" fill="#9fd0d0" /><ellipse cx="1555" cy="540" rx="50" ry="75" fill="#e2d9a0" /><ellipse cx="1620" cy="540" rx="48" ry="90" fill="#e07a6a" /><polyline points="1225,770 1180,825" stroke-width="110" fill="none" stroke="#a9bfd9"/><polyline points="1160,870 1105,955" stroke-width="120" fill="none" stroke="#3d9c3f"/><ellipse cx="1065" cy="1040" rx="100" ry="95" fill="#a06a6a" /><polyline points="1340,790 1375,835" stroke-width="100" fill="none" stroke="#e8832b"/><polyline points="1410,880 1455,945" stroke-width="120" fill="none" stroke="#8fc77f"/><ellipse cx="1505" cy="1030" rx="100" ry="95" fill="#a585a8" /></g></g></g>
<line x1="1418.7" y1="797.7" x2="1465.1" y2="797.7" stroke="#ffc000" stroke-width="6.6"/><polygon points="1479.5,797.7 1461.5,788.2 1461.5,807.2" fill="#ffc000"/>
<text class="sr" x="1566.9" y="675.4" font-size="31.35" text-anchor="start" >Can. Gaussians <tspan font-style="italic" dx="4">G</tspan><tspan font-style="italic" font-size="22" dy="-12">c</tspan></text>
<rect x="1480.1" y="694.6" width="425.2" height="211.8" rx="11" fill="none" stroke="#7f7f7f" stroke-width="2.3" stroke-dasharray="10.5 6.5"/>
<g transform="translate(1451.3,665.5) scale(0.2767)"><mask id="cg1" maskUnits="userSpaceOnUse" x="40" y="80" width="880" height="820"><g filter="url(#rg4)" fill="#fff" stroke="#fff" stroke-linecap="round" stroke-linejoin="round"><ellipse cx="470" cy="212" rx="33" ry="51" /><rect x="454" y="250" width="34" height="50" /><polygon points="405,290 540,288 560,325 548,400 540,440 552,490 565,525 540,560 478,548 420,560 392,525 402,490 414,440 405,400 392,325" /><polyline points="405,312 300,314" stroke-width="40" fill="none"/><polyline points="300,314 200,320" stroke-width="30" fill="none"/><polyline points="200,320 140,322" stroke-width="20" fill="none"/><polyline points="540,308 650,314" stroke-width="40" fill="none"/><polyline points="650,314 750,320" stroke-width="30" fill="none"/><polyline points="750,320 805,322" stroke-width="20" fill="none"/><line x1="748" y1="330" x2="752" y2="345" stroke-width="7"/><polyline points="435,540 350,680" stroke-width="86" fill="none"/><polyline points="350,680 285,780" stroke-width="56" fill="none"/><polyline points="285,790 245,812" stroke-width="30" fill="none"/><polyline points="525,540 600,680" stroke-width="86" fill="none"/><polyline points="600,680 665,780" stroke-width="56" fill="none"/><polyline points="665,790 700,812" stroke-width="30" fill="none"/><polyline points="395,400 350,440 310,455" stroke-width="22" fill="none"/></g></mask>
<g mask="url(#cg1)"><g filter="url(#b8)" stroke-linecap="round"><rect x="80" y="120" width="800" height="740" fill="#b9b4c4" /><rect x="330" y="260" width="300" height="130" fill="#d6a3cd" /><ellipse cx="470" cy="350" rx="60" ry="40" fill="#c9a7d8" /><ellipse cx="470" cy="200" rx="70" ry="80" fill="#c4c4c6" /><ellipse cx="500" cy="330" rx="40" ry="30" fill="#9a8fa5" opacity=".5"/><rect x="330" y="382" width="300" height="62" fill="#d9564f" /><rect x="330" y="440" width="300" height="40" fill="#c98a5a" /><ellipse cx="470" cy="500" rx="110" ry="62" fill="#3a80c2" /><polyline points="405,312 345,313" stroke-width="70" fill="none" stroke="#b6b948"/><polyline points="300,315 225,319" stroke-width="55" fill="none" stroke="#3db6c6"/><polyline points="185,321 130,322" stroke-width="45" fill="none" stroke="#bab6d2"/><polyline points="540,308 605,312" stroke-width="70" fill="none" stroke="#b6b948"/><polyline points="655,315 720,318" stroke-width="55" fill="none" stroke="#93cdd2"/><polyline points="755,320 772,321" stroke-width="40" fill="none" stroke="#e2d9a0"/><polyline points="798,322 815,323" stroke-width="36" fill="none" stroke="#e98c7a"/><polyline points="425,570 390,620" stroke-width="95" fill="none" stroke="#a9bfd9"/><polyline points="362,660 292,775" stroke-width="90" fill="none" stroke="#3d9c3f"/><polyline points="270,805 235,815" stroke-width="45" fill="none" stroke="#e2958a"/><polyline points="540,565 575,620" stroke-width="95" fill="none" stroke="#e8832b"/><polyline points="595,665 658,768" stroke-width="90" fill="none" stroke="#a3d088"/><polyline points="675,800 710,815" stroke-width="45" fill="none" stroke="#9568bd"/><polyline points="380,415 350,440" stroke-width="30" fill="none" stroke="#b6b948"/><polyline points="330,450 305,458" stroke-width="28" fill="none" stroke="#3fb0b0"/></g><rect x="80" y="120" width="800" height="740" fill="url(#db1)"/></g>
</g>
<path d="M1556.2,746.9 L1764.5,723.4 M1547.6,772.2 L1767.4,879.9" stroke="#000" stroke-width="2.4" fill="none"/>
<clipPath id="cgcc"><circle cx="1801.9" cy="799.5" r="85.6"/></clipPath><g clip-path="url(#cgcc)"><mask id="cgc" maskUnits="userSpaceOnUse" x="1666.3000000000002" y="663.9" width="271.2" height="271.2"><g filter="url(#rg2)" fill="#fff" stroke="#fff" stroke-linecap="round" stroke-linejoin="round"><path d="M1711.3000000000002,739.5 L1761.9,708.9 L1892.5,708.9 L1892.5,890.1 L1846.9,890.1 L1839.9,849.5 L1821.9,814.5 L1796.9,791.5 L1786.9,759.5 L1751.9,757.5Z"/><polyline points="1803.9,781.5 1766.9,811.5 1743.9,832.5" stroke-width="20" fill="none"/><ellipse cx="1746.9" cy="843.5" rx="2.6" ry="2.6" /></g></mask>
<g mask="url(#cgc)"><g filter="url(#b5)" stroke-linecap="round"><rect x="1711.3000000000002" y="708.9" width="181.2" height="181.2" fill="#b6b948" /><polygon points="1711.3000000000002,724.5 1766.9,713.9 1771.9,754.5 1716.3000000000002,764.5" fill="#3db6c6" /><polygon points="1839.9,713.9 1892.5,713.9 1892.5,804.5 1851.9,794.5 1843.9,754.5" fill="#dba3c4" /><polygon points="1836.9,799.5 1892.5,799.5 1892.5,854.5 1841.9,844.5" fill="#d9564f" /><polygon points="1831.9,847.5 1887.5,844.5 1861.9,885.1 1831.9,885.1" fill="#c9a07a" /><polyline points="1759.9,819.5 1741.9,837.5" stroke-width="28" fill="none" stroke="#3fb0b0"/></g><rect x="1706.3000000000002" y="703.9" width="191.2" height="191.2" fill="url(#db1)"/></g>
</g><circle cx="1801.9" cy="799.5" r="85.6" fill="none" stroke="#000" stroke-width="2.3" stroke-dasharray="17 8.5"/>
<circle cx="1808.5" cy="801.5" r="10" fill="#2fa85b" stroke="#1c8a45" stroke-width="2.2"/>
<text class="sr" x="1858" y="895.7" font-size="36" text-anchor="start" font-weight="bold" font-style="italic">W</text>
<text class="sr" x="1967" y="679.4" font-size="31.3" text-anchor="start" >Body pose  <tspan font-weight="bold" font-style="italic" font-size="35">B</tspan></text>
<line x1="2062.7" y1="686" x2="2062.7" y2="737" stroke="#ffc000" stroke-width="2" stroke-dasharray="8 5"/><polygon points="2062.7,750 2057.5,736 2067.9,736" fill="#ffc000"/>
<line x1="1906" y1="801.5" x2="1956" y2="801.5" stroke="#ffc000" stroke-width="7"/>
<rect x="1957.8" y="753.8" width="222.4" height="94.9" fill="#ffd966" stroke="#bf9000" stroke-width="6.3"/>
<text class="sr" x="2069" y="790.9" font-size="31.2" text-anchor="middle" >Forward</text>
<text class="sr" x="2069" y="829.7" font-size="31.2" text-anchor="middle" >Deformation</text>
<text class="sr" x="2066" y="886.5" font-size="31.2" text-anchor="middle" >(  §<tspan fill="#3d85c6">3.1</tspan>  )</text>
<line x1="2183" y1="802.3" x2="2202.0" y2="802.3" stroke="#ffc000" stroke-width="6.6"/><polygon points="2216.4,802.3 2198.4,792.8 2198.4,811.8" fill="#ffc000"/>
<text class="sr" x="2286.4" y="676" font-size="31.35" text-anchor="start" >Obs. Gaussians <tspan font-style="italic" dx="4">G</tspan><tspan font-style="italic" font-size="22" dy="-12">o</tspan></text>
<rect x="2216.6" y="698.9" width="365.7" height="209.1" rx="11" fill="none" stroke="#7f7f7f" stroke-width="2.3" stroke-dasharray="10.5 6.5"/>
<g transform="translate(2150,630) scale(0.28723)"><mask id="og1" maskUnits="userSpaceOnUse" x="910" y="180" width="640" height="840"><g filter="url(#rg4)" fill="#fff" stroke="#fff" stroke-linecap="round" stroke-linejoin="round"><ellipse cx="1235" cy="298" rx="36" ry="48" /><rect x="1215" y="335" width="40" height="40" /><polygon points="1175,372 1300,370 1335,410 1320,520 1325,640 1240,660 1165,640 1170,520 1150,410" /><polyline points="1160,415 1090,510" stroke-width="42" fill="none"/><polyline points="1090,510 1030,575" stroke-width="30" fill="none"/><polyline points="1030,575 1010,595" stroke-width="14" fill="none"/><polyline points="1328,415 1385,510" stroke-width="42" fill="none"/><polyline points="1385,510 1435,575" stroke-width="30" fill="none"/><polyline points="1435,575 1448,605" stroke-width="16" fill="none"/><polyline points="1200,650 1195,800" stroke-width="62" fill="none"/><polyline points="1195,800 1195,890" stroke-width="46" fill="none"/><polyline points="1190,915 1165,930" stroke-width="22" fill="none"/><polyline points="1285,650 1270,800" stroke-width="62" fill="none"/><polyline points="1270,800 1262,890" stroke-width="46" fill="none"/><polyline points="1265,915 1295,930" stroke-width="22" fill="none"/></g></mask>
<g mask="url(#og1)"><g filter="url(#b8)" stroke-linecap="round"><rect x="950" y="220" width="560" height="760" fill="#b9b4c4" /><rect x="1100" y="350" width="300" height="130" fill="#d6a3cd" /><ellipse cx="1235" cy="290" rx="65" ry="75" fill="#c4c4c6" /><ellipse cx="1260" cy="430" rx="40" ry="30" fill="#8a7f95" opacity=".5"/><rect x="1100" y="478" width="300" height="60" fill="#d9564f" /><rect x="1100" y="535" width="300" height="110" fill="#3a80c2" /><polyline points="1158,415 1125,460" stroke-width="60" fill="none" stroke="#b6b948"/><polyline points="1095,505 1045,560" stroke-width="50" fill="none" stroke="#3db6c6"/><polyline points="1020,585 1005,600" stroke-width="30" fill="none" stroke="#bab6d2"/><polyline points="1330,415 1355,460" stroke-width="60" fill="none" stroke="#b6b948"/><polyline points="1385,510 1415,550" stroke-width="50" fill="none" stroke="#93cdd2"/><polyline points="1440,585 1450,605" stroke-width="30" fill="none" stroke="#e98c7a"/><polyline points="1195,690 1195,750" stroke-width="80" fill="none" stroke="#a9bfd9"/><polyline points="1195,790 1195,860" stroke-width="70" fill="none" stroke="#3d9c3f"/><polyline points="1185,915 1165,930" stroke-width="40" fill="none" stroke="#e2958a"/><polyline points="1285,685 1275,750" stroke-width="80" fill="none" stroke="#e8832b"/><polyline points="1270,800 1262,860" stroke-width="70" fill="none" stroke="#a3d088"/><polyline points="1265,905 1290,928" stroke-width="40" fill="none" stroke="#9568bd"/></g><rect x="950" y="220" width="560" height="760" fill="url(#db1)"/></g>
</g>
<path d="M2359.7,721.9 L2480.3,754.1 M2388.4,859.8 L2490.4,783.7" stroke="#000" stroke-width="2.4" fill="none"/>
<clipPath id="ogcc"><circle cx="2327.2" cy="800.9" r="86.2"/></clipPath><g clip-path="url(#ogcc)"><mask id="ogc" maskUnits="userSpaceOnUse" x="2191.0" y="664.6999999999999" width="272.4" height="272.4"><g filter="url(#rg2)" fill="#fff" stroke="#fff" stroke-linecap="round" stroke-linejoin="round"><polygon points="2313.2,712.9 2339.2,712.9 2337.2,770.9 2328.2,796.9 2297.2,784.9" /><polyline points="2313.2,712.9 2285.2,782.9" stroke-width="50" fill="none"/><polyline points="2285.2,782.9 2249.2,840.9" stroke-width="46" fill="none"/><path d="M2315.2,709.6999999999999 L2418.3999999999996,709.6999999999999 L2418.3999999999996,892.1 L2317.2,892.1 L2319.2,860.9 L2333.2,846.9 L2322.2,828.9 L2328.2,796.9 L2337.2,770.9Z"/></g></mask>
<g mask="url(#ogc)"><g filter="url(#b5)" stroke-linecap="round"><rect x="2236.0" y="709.6999999999999" width="182.4" height="182.4" fill="#b6b948" /><polyline points="2265.2,812.9 2239.2,852.9" stroke-width="64" fill="none" stroke="#3db6c6"/><polygon points="2332.2,709.6999999999999 2418.3999999999996,709.6999999999999 2418.3999999999996,810.9 2347.2,800.9 2339.2,760.9" fill="#dba3c4" /><ellipse cx="2387.2" cy="760.9" rx="20" ry="25" fill="#b99ac8" /><polygon points="2327.2,805.9 2418.3999999999996,805.9 2418.3999999999996,865.9 2332.2,855.9" fill="#d9564f" /><polygon points="2312.2,855.9 2413.3999999999996,860.9 2367.2,892.1 2312.2,892.1" fill="#cfa88a" /><ellipse cx="2347.2" cy="870.9" rx="14" ry="10" fill="#4ab0c0" /><ellipse cx="2349.2" cy="818.9" rx="10" ry="14" fill="#a8cc5a" /></g><rect x="2231.0" y="704.6999999999999" width="192.4" height="192.4" fill="url(#db2)"/></g>
</g><circle cx="2327.2" cy="800.9" r="86.2" fill="none" stroke="#000" stroke-width="2.3" stroke-dasharray="17 8.5"/>
<circle cx="2339" cy="833.1" r="10.4" fill="#2fa85b" stroke="#1c8a45" stroke-width="2.2"/>
<text class="sr" x="2227" y="895.7" font-size="36" text-anchor="start" font-weight="bold" font-style="italic">W</text>
<line x1="2582.9" y1="811.8" x2="2728.9" y2="811.8" stroke="#0f88e8" stroke-width="6.3"/><polygon points="2744.5,811.8 2725.0,801.8 2725.0,821.8" fill="#0f88e8"/>
<line x1="1714.3" y1="1096" x2="1714.3" y2="922.2" stroke="#f09150" stroke-width="6.2"/><polygon points="1714.3,907 1705.55,926 1723.05,926" fill="#f09150"/>
<rect x="1622.3" y="971" width="183.2" height="64.1" fill="#e8e8e8"/>
<text class="sr" x="1716" y="1012" font-size="40" text-anchor="middle" font-style="italic">L<tspan font-size="30" dy="7" letter-spacing="2">cycle</tspan></text>
<path d="M1536.1,915.5 L1536.1,1022 L1427,1022" fill="none" stroke="#ed7d31" stroke-width="2" stroke-dasharray="10.5 6.5"/><polygon points="1414.8,1022 1427,1017 1427,1027" fill="#ed7d31"/>
<circle cx="1937.5" cy="976.5" r="9.8" fill="#2fa85b" stroke="#1c8a45" stroke-width="2.2"/><text class="sr" x="1960.8" y="984.6" font-size="31.3" text-anchor="start" >Ambiguous Gaussian</text>
<circle cx="1938.3" cy="1026.2" r="9.8" fill="#ff5a36" stroke="#d0202a" stroke-width="2.2"/><text class="sr" x="1963.5" y="1034.7" font-size="31.3" text-anchor="start" >Corrected Gaussian</text>
<line x1="2394.6" y1="969.9" x2="2394.6" y2="927.6" stroke="#f09150" stroke-width="6.2"/><polygon points="2394.6,912.4 2385.85,931.4 2403.35,931.4" fill="#f09150"/>
<rect x="2302.6" y="969.9" width="183.3" height="60.2" fill="#e8e8e8"/>
<text class="sr" x="2396" y="1009.5" font-size="40" text-anchor="middle" font-style="italic">L<tspan font-size="30" dy="7" letter-spacing="2">recon</tspan></text>
<line x1="2485.9" y1="999" x2="2561" y2="999" stroke="#f09150" stroke-width="6.2" stroke-linecap="round"/>
<rect x="2585" y="908" width="139.7" height="201.7" fill="#f8f8f8"/><g transform="translate(2150,900) scale(0.38829)"><g filter="url(#b2)" stroke-linecap="round" stroke-linejoin="round"><polyline points="1235,160 1185,240 1150,285" stroke-width="26" fill="none" stroke="#b58d76"/><polyline points="1365,160 1415,235 1450,280" stroke-width="26" fill="none" stroke="#b58d76"/><polyline points="1265,290 1262,400 1262,490" stroke-width="44" fill="none" stroke="#6f7f92"/><polyline points="1322,290 1322,400 1318,490" stroke-width="44" fill="none" stroke="#6f7f92"/><polyline points="1255,510 1270,505" stroke-width="16" fill="none" stroke="#2b2b30"/><polyline points="1312,505 1330,510" stroke-width="16" fill="none" stroke="#2b2b30"/><polygon points="1262,112 1335,112 1385,150 1372,215 1350,200 1352,285 1242,285 1245,200 1222,215 1212,150" fill="#c42f37" /><rect x="1286" y="95" width="26" height="25" fill="#b58d76" /><ellipse cx="1298" cy="78" rx="22" ry="32" fill="#b58d76" /><path d="M1275,78 C1273,45 1290,38 1300,39 C1315,39 1324,50 1321,78 C1315,60 1310,58 1298,58 C1288,58 1280,60 1275,78Z" fill="#2a2421"/><rect x="1265" y="150" width="68" height="12" fill="#3a2a4a" opacity=".8"/><rect x="1290" y="178" width="18" height="16" fill="#f0e0e0" /><ellipse cx="1290.02" cy="76.64" rx="3.2300000000000004" ry="1.54" fill="#2a1d18" /><ellipse cx="1305.98" cy="76.64" rx="3.2300000000000004" ry="1.54" fill="#2a1d18" /><path d="M1284.7,73.0 Q1290.02,70.48 1295.34,73.28 M1300.66,73.28 Q1305.98,70.48 1311.3,73.0" stroke="#2a1d18" stroke-width="1.7" fill="none"/><path d="M1297.05,79.44 L1295.34,87.84 L1300.66,87.84" stroke="#8a6350" stroke-width="1.4" fill="none" opacity=".8"/><ellipse cx="1298" cy="94.0" rx="5.7" ry="1.12" fill="#7a4a42" /><ellipse cx="1287.55" cy="84.2" rx="4.75" ry="8.4" fill="#9a7460" opacity=".35"/><ellipse cx="1308.45" cy="84.2" rx="4.75" ry="8.4" fill="#9a7460" opacity=".35"/></g></g>
<rect x="1023.3" y="960.6" width="391.3" height="348.4" rx="10" fill="none" stroke="#ed7d31" stroke-width="2.7" stroke-dasharray="13 8"/>
<g transform="translate(1000,900) scale(0.46583)"><mask id="fa1" maskUnits="userSpaceOnUse" x="40" y="80" width="880" height="820"><g filter="url(#rg3)" fill="#fff" stroke="#fff" stroke-linecap="round" stroke-linejoin="round"><ellipse cx="470" cy="212" rx="33" ry="51" /><rect x="454" y="250" width="34" height="50" /><polygon points="405,290 540,288 560,325 548,400 540,440 552,490 565,525 540,560 478,548 420,560 392,525 402,490 414,440 405,400 392,325" /><polyline points="405,312 300,314" stroke-width="40" fill="none"/><polyline points="300,314 200,320" stroke-width="30" fill="none"/><polyline points="200,320 140,322" stroke-width="20" fill="none"/><polyline points="540,308 650,314" stroke-width="40" fill="none"/><polyline points="650,314 750,320" stroke-width="30" fill="none"/><polyline points="750,320 805,322" stroke-width="20" fill="none"/><line x1="748" y1="330" x2="752" y2="345" stroke-width="7"/><polyline points="435,540 350,680" stroke-width="86" fill="none"/><polyline points="350,680 285,780" stroke-width="56" fill="none"/><polyline points="285,790 245,812" stroke-width="30" fill="none"/><polyline points="525,540 600,680" stroke-width="86" fill="none"/><polyline points="600,680 665,780" stroke-width="56" fill="none"/><polyline points="665,790 700,812" stroke-width="30" fill="none"/></g></mask>
<g mask="url(#fa1)"><g filter="url(#b12)" stroke-linecap="round"><rect x="80" y="120" width="800" height="740" fill="#b9b4c4" /><rect x="330" y="260" width="300" height="130" fill="#d6a3cd" /><ellipse cx="470" cy="350" rx="60" ry="40" fill="#c9a7d8" /><ellipse cx="470" cy="200" rx="70" ry="80" fill="#c4c4c6" /><ellipse cx="500" cy="330" rx="40" ry="30" fill="#9a8fa5" opacity=".5"/><rect x="330" y="382" width="300" height="62" fill="#d9564f" /><rect x="330" y="440" width="300" height="40" fill="#c98a5a" /><ellipse cx="470" cy="500" rx="110" ry="62" fill="#3a80c2" /><polyline points="405,312 345,313" stroke-width="70" fill="none" stroke="#b6b948"/><polyline points="300,315 225,319" stroke-width="55" fill="none" stroke="#3db6c6"/><polyline points="185,321 130,322" stroke-width="45" fill="none" stroke="#bab6d2"/><polyline points="540,308 605,312" stroke-width="70" fill="none" stroke="#b6b948"/><polyline points="655,315 720,318" stroke-width="55" fill="none" stroke="#93cdd2"/><polyline points="755,320 772,321" stroke-width="40" fill="none" stroke="#e2d9a0"/><polyline points="798,322 815,323" stroke-width="36" fill="none" stroke="#e98c7a"/><polyline points="425,570 390,620" stroke-width="95" fill="none" stroke="#a9bfd9"/><polyline points="362,660 292,775" stroke-width="90" fill="none" stroke="#3d9c3f"/><polyline points="270,805 235,815" stroke-width="45" fill="none" stroke="#e2958a"/><polyline points="540,565 575,620" stroke-width="95" fill="none" stroke="#e8832b"/><polyline points="595,665 658,768" stroke-width="90" fill="none" stroke="#a3d088"/><polyline points="675,800 710,815" stroke-width="45" fill="none" stroke="#9568bd"/></g><rect x="80" y="120" width="800" height="740" fill="url(#db3)" filter="url(#pj2)"/></g>
</g>
<text class="sr" x="1132.8" y="1349.5" font-size="31.7" text-anchor="start" >Final Avatar</text>
<rect x="1483.3" y="1094.1" width="425.9" height="213.6" rx="11" fill="none" stroke="#7f7f7f" stroke-width="2.3" stroke-dasharray="10.5 6.5"/>
<g transform="translate(1448.9,1056.9) scale(0.2941)"><mask id="cc1" maskUnits="userSpaceOnUse" x="40" y="80" width="880" height="820"><g filter="url(#rg4)" fill="#fff" stroke="#fff" stroke-linecap="round" stroke-linejoin="round"><ellipse cx="470" cy="212" rx="33" ry="51" /><rect x="454" y="250" width="34" height="50" /><polygon points="405,290 540,288 560,325 548,400 540,440 552,490 565,525 540,560 478,548 420,560 392,525 402,490 414,440 405,400 392,325" /><polyline points="405,312 300,314" stroke-width="40" fill="none"/><polyline points="300,314 200,320" stroke-width="30" fill="none"/><polyline points="200,320 140,322" stroke-width="20" fill="none"/><polyline points="540,308 650,314" stroke-width="40" fill="none"/><polyline points="650,314 750,320" stroke-width="30" fill="none"/><polyline points="750,320 805,322" stroke-width="20" fill="none"/><line x1="748" y1="330" x2="752" y2="345" stroke-width="7"/><polyline points="435,540 350,680" stroke-width="86" fill="none"/><polyline points="350,680 285,780" stroke-width="56" fill="none"/><polyline points="285,790 245,812" stroke-width="30" fill="none"/><polyline points="525,540 600,680" stroke-width="86" fill="none"/><polyline points="600,680 665,780" stroke-width="56" fill="none"/><polyline points="665,790 700,812" stroke-width="30" fill="none"/></g></mask>
<g mask="url(#cc1)"><g filter="url(#b8)" stroke-linecap="round"><rect x="80" y="120" width="800" height="740" fill="#b9b4c4" /><rect x="330" y="260" width="300" height="130" fill="#d6a3cd" /><ellipse cx="470" cy="350" rx="60" ry="40" fill="#c9a7d8" /><ellipse cx="470" cy="200" rx="70" ry="80" fill="#c4c4c6" /><ellipse cx="500" cy="330" rx="40" ry="30" fill="#9a8fa5" opacity=".5"/><rect x="330" y="382" width="300" height="62" fill="#d9564f" /><rect x="330" y="440" width="300" height="40" fill="#c98a5a" /><ellipse cx="470" cy="500" rx="110" ry="62" fill="#3a80c2" /><polyline points="405,312 345,313" stroke-width="70" fill="none" stroke="#b6b948"/><polyline points="300,315 225,319" stroke-width="55" fill="none" stroke="#3db6c6"/><polyline points="185,321 130,322" stroke-width="45" fill="none" stroke="#bab6d2"/><polyline points="540,308 605,312" stroke-width="70" fill="none" stroke="#b6b948"/><polyline points="655,315 720,318" stroke-width="55" fill="none" stroke="#93cdd2"/><polyline points="755,320 772,321" stroke-width="40" fill="none" stroke="#e2d9a0"/><polyline points="798,322 815,323" stroke-width="36" fill="none" stroke="#e98c7a"/><polyline points="425,570 390,620" stroke-width="95" fill="none" stroke="#a9bfd9"/><polyline points="362,660 292,775" stroke-width="90" fill="none" stroke="#3d9c3f"/><polyline points="270,805 235,815" stroke-width="45" fill="none" stroke="#e2958a"/><polyline points="540,565 575,620" stroke-width="95" fill="none" stroke="#e8832b"/><polyline points="595,665 658,768" stroke-width="90" fill="none" stroke="#a3d088"/><polyline points="675,800 710,815" stroke-width="45" fill="none" stroke="#9568bd"/></g><rect x="80" y="120" width="800" height="740" fill="url(#db1)"/></g>
</g>
<path d="M1562.9,1155.1 L1770.6,1117.4 M1561.7,1178.8 L1727.9,1261.1" stroke="#000" stroke-width="2.4" fill="none"/>
<clipPath id="cccc"><circle cx="1787.3" cy="1200.9" r="86.2"/></clipPath><g clip-path="url(#cccc)"><mask id="ccc" maskUnits="userSpaceOnUse" x="1651.1" y="1064.7" width="272.4" height="272.4"><g filter="url(#rg2)" fill="#fff" stroke="#fff" stroke-linecap="round" stroke-linejoin="round"><path d="M1729.3,1130.9 L1767.3,1109.7 L1878.5,1109.7 L1878.5,1292.1000000000001 L1802.3,1292.1000000000001 L1809.3,1250.9 L1799.3,1225.9 L1809.3,1205.9 L1792.3,1185.9 L1777.3,1170.9 L1757.3,1155.9Z"/><ellipse cx="1770.3" cy="1185.9" rx="2.5" ry="2.5" /><ellipse cx="1795.3" cy="1222.9" rx="4" ry="4" /></g></mask>
<g mask="url(#ccc)"><g filter="url(#b5)" stroke-linecap="round"><rect x="1696.1" y="1109.7" width="182.4" height="182.4" fill="#b6b948" /><polygon points="1805.3,1109.7 1878.5,1109.7 1878.5,1215.9 1812.3,1205.9 1802.3,1160.9" fill="#dba3c4" /><ellipse cx="1857.3" cy="1170.9" rx="20" ry="30" fill="#c0a2d0" /><polygon points="1797.3,1205.9 1878.5,1212.9 1878.5,1260.9 1802.3,1255.9" fill="#d9564f" /><polygon points="1797.3,1255.9 1873.5,1255.9 1837.3,1292.1000000000001 1797.3,1292.1000000000001" fill="#cfa88a" /><ellipse cx="1809.3" cy="1280.9" rx="12" ry="10" fill="#b8b8c8" /></g><rect x="1691.1" y="1104.7" width="192.4" height="192.4" fill="url(#db1)"/></g>
</g><circle cx="1787.3" cy="1200.9" r="86.2" fill="none" stroke="#000" stroke-width="2.3" stroke-dasharray="17 8.5"/>
<circle cx="1821" cy="1233.9" r="9.6" fill="#ff5a36" stroke="#d0202a" stroke-width="2.4"/>
<text class="sr" x="1852" y="1299.9" font-size="36" text-anchor="start" font-weight="bold" font-style="italic">W′</text>
<text class="sr" x="1494.9" y="1350.4" font-size="31.5" text-anchor="start" >Corrected Can. Gaussians <tspan font-style="italic" dx="4">G</tspan><tspan font-style="italic" font-size="22" dy="-12">c*</tspan></text>
<line x1="1957" y1="1204" x2="1923.2" y2="1204" stroke="#0f88e8" stroke-width="5.6"/><polygon points="1910.4,1204 1926.4,1196.0 1926.4,1212.0" fill="#0f88e8"/>
<rect x="1956.9" y="1154.3" width="221.8" height="99" fill="#bdd7ee" stroke="#3d85c6" stroke-width="5.4"/>
<text class="sr" x="2067.6" y="1193.1" font-size="31.3" text-anchor="middle" >Inverse LBS</text>
<text class="sr" x="2067.6" y="1232" font-size="31.3" text-anchor="middle" >Transformation</text>
<text class="sr" x="2065.7" y="1289.4" font-size="31.2" text-anchor="middle" >(  §<tspan fill="#3d85c6">3.4</tspan>  )</text>
<line x1="2181" y1="1204" x2="2216" y2="1204" stroke="#0f88e8" stroke-width="5.6"/>
<rect x="2216" y="1103.1" width="365.0" height="210.4" rx="11" fill="none" stroke="#7f7f7f" stroke-width="2.3" stroke-dasharray="10.5 6.5"/>
<g transform="translate(2146.7,1033.2) scale(0.28723)"><mask id="co1" maskUnits="userSpaceOnUse" x="910" y="180" width="640" height="840"><g filter="url(#rg4)" fill="#fff" stroke="#fff" stroke-linecap="round" stroke-linejoin="round"><ellipse cx="1235" cy="298" rx="36" ry="48" /><rect x="1215" y="335" width="40" height="40" /><polygon points="1175,372 1300,370 1335,410 1320,520 1325,640 1240,660 1165,640 1170,520 1150,410" /><polyline points="1160,415 1090,510" stroke-width="42" fill="none"/><polyline points="1090,510 1030,575" stroke-width="30" fill="none"/><polyline points="1030,575 1010,595" stroke-width="14" fill="none"/><polyline points="1328,415 1385,510" stroke-width="42" fill="none"/><polyline points="1385,510 1435,575" stroke-width="30" fill="none"/><polyline points="1435,575 1448,605" stroke-width="16" fill="none"/><polyline points="1200,650 1195,800" stroke-width="62" fill="none"/><polyline points="1195,800 1195,890" stroke-width="46" fill="none"/><polyline points="1190,915 1165,930" stroke-width="22" fill="none"/><polyline points="1285,650 1270,800" stroke-width="62" fill="none"/><polyline points="1270,800 1262,890" stroke-width="46" fill="none"/><polyline points="1265,915 1295,930" stroke-width="22" fill="none"/></g></mask>
<g mask="url(#co1)"><g filter="url(#b8)" stroke-linecap="round"><rect x="950" y="220" width="560" height="760" fill="#b9b4c4" /><rect x="1100" y="350" width="300" height="130" fill="#d6a3cd" /><ellipse cx="1235" cy="290" rx="65" ry="75" fill="#c4c4c6" /><ellipse cx="1260" cy="430" rx="40" ry="30" fill="#8a7f95" opacity=".5"/><rect x="1100" y="478" width="300" height="60" fill="#d9564f" /><rect x="1100" y="535" width="300" height="110" fill="#3a80c2" /><polyline points="1158,415 1125,460" stroke-width="60" fill="none" stroke="#b6b948"/><polyline points="1095,505 1045,560" stroke-width="50" fill="none" stroke="#3db6c6"/><polyline points="1020,585 1005,600" stroke-width="30" fill="none" stroke="#bab6d2"/><polyline points="1330,415 1355,460" stroke-width="60" fill="none" stroke="#b6b948"/><polyline points="1385,510 1415,550" stroke-width="50" fill="none" stroke="#93cdd2"/><polyline points="1440,585 1450,605" stroke-width="30" fill="none" stroke="#e98c7a"/><polyline points="1195,690 1195,750" stroke-width="80" fill="none" stroke="#a9bfd9"/><polyline points="1195,790 1195,860" stroke-width="70" fill="none" stroke="#3d9c3f"/><polyline points="1185,915 1165,930" stroke-width="40" fill="none" stroke="#e2958a"/><polyline points="1285,685 1275,750" stroke-width="80" fill="none" stroke="#e8832b"/><polyline points="1270,800 1262,860" stroke-width="70" fill="none" stroke="#a3d088"/><polyline points="1265,905 1290,928" stroke-width="40" fill="none" stroke="#9568bd"/></g><rect x="950" y="220" width="560" height="760" fill="url(#db1)"/></g>
</g>
<path d="M2361.6,1119.4 L2485.9,1159.4 M2390.7,1253.3 L2487.8,1173.7" stroke="#000" stroke-width="2.4" fill="none"/>
<clipPath id="cocc"><circle cx="2326.7" cy="1200.1" r="86.2"/></clipPath><g clip-path="url(#cocc)"><mask id="coc" maskUnits="userSpaceOnUse" x="2190.5" y="1063.8999999999999" width="272.4" height="272.4"><g filter="url(#rg2)" fill="#fff" stroke="#fff" stroke-linecap="round" stroke-linejoin="round"><polygon points="2312.7,1112.1 2338.7,1112.1 2336.7,1170.1 2327.7,1196.1 2296.7,1184.1" /><polyline points="2312.7,1112.1 2284.7,1182.1" stroke-width="50" fill="none"/><polyline points="2284.7,1182.1 2248.7,1240.1" stroke-width="46" fill="none"/><path d="M2314.7,1108.8999999999999 L2417.8999999999996,1108.8999999999999 L2417.8999999999996,1291.3 L2316.7,1291.3 L2318.7,1260.1 L2332.7,1246.1 L2321.7,1228.1 L2327.7,1196.1 L2336.7,1170.1Z"/></g></mask>
<g mask="url(#coc)"><g filter="url(#b5)" stroke-linecap="round"><rect x="2235.5" y="1108.8999999999999" width="182.4" height="182.4" fill="#b6b948" /><polyline points="2264.7,1212.1 2238.7,1252.1" stroke-width="64" fill="none" stroke="#3db6c6"/><polygon points="2331.7,1108.8999999999999 2417.8999999999996,1108.8999999999999 2417.8999999999996,1210.1 2346.7,1200.1 2338.7,1160.1" fill="#dba3c4" /><ellipse cx="2386.7" cy="1160.1" rx="20" ry="25" fill="#b99ac8" /><polygon points="2326.7,1205.1 2417.8999999999996,1205.1 2417.8999999999996,1265.1 2331.7,1255.1" fill="#d9564f" /><polygon points="2311.7,1255.1 2412.8999999999996,1260.1 2366.7,1291.3 2311.7,1291.3" fill="#cfa88a" /><ellipse cx="2346.7" cy="1270.1" rx="14" ry="10" fill="#4ab0c0" /></g><rect x="2230.5" y="1103.8999999999999" width="192.4" height="192.4" fill="url(#db2)"/></g>
</g><circle cx="2326.7" cy="1200.1" r="86.2" fill="none" stroke="#000" stroke-width="2.3" stroke-dasharray="17 8.5"/>
<circle cx="2343" cy="1219.6" r="9.8" fill="#ff5a36" stroke="#d0202a" stroke-width="2.4"/>
<text class="sr" x="2227.7" y="1301.1" font-size="36" text-anchor="start" font-weight="bold" font-style="italic">W′</text>
<text class="sr" x="2207.5" y="1351.6" font-size="31.5" text-anchor="start" >Corrected Obs. Gaussians <tspan font-style="italic" dx="4">G</tspan><tspan font-style="italic" font-size="22" dy="-12">o*</tspan></text>
<line x1="2748" y1="1208.7" x2="2597.02" y2="1208.7" stroke="#0f88e8" stroke-width="6.2"/><polygon points="2581.5,1208.7 2600.9,1199.95 2600.9,1217.45" fill="#0f88e8"/>
<rect x="2745.3" y="662.4" width="503.4" height="331.0" rx="11" fill="none" stroke="#7f7f7f" stroke-width="2.3" stroke-dasharray="10.5 6.5"/>
<text class="sr" x="3008.5" y="696" font-size="34.9" text-anchor="middle" >Ambiguous Gaussian</text>
<text class="sr" x="2878" y="730.5" font-size="34.9" text-anchor="start" >Detection  (  <tspan font-size="30">§<tspan fill="#3d85c6">3.2</tspan></tspan>  )</text>
<path d="M3129.4,806.6 L3129.4,765.8 L2850.7,765.8 L2850.7,782" fill="none" stroke="#000" stroke-width="2.7"/><polygon points="2850.7,794 2845.5,780 2855.9,780" fill="#000"/>
<path d="M2850.7,928.8 L2850.7,945.1 L3129.4,945.1 L3129.4,905" fill="none" stroke="#000" stroke-width="2.7"/><polygon points="3129.4,892.5 3124.2,906.5 3134.6,906.5" fill="#000"/>
<polygon points="3046.1,806.6 3211.3,806.6 3230,891.4 3027.4,891.4" fill="#e8e8e8"/>
<text class="sr" x="3128.6" y="838.3" font-size="34.7" text-anchor="middle" >EM</text>
<text class="sr" x="3128.6" y="874.2" font-size="34.7" text-anchor="middle" >optimization</text>
<text class="sr" x="3003" y="974.7" font-size="26.2" text-anchor="middle" >GMM relative to bones</text>
<g transform="translate(2720,640) scale(0.28732)"><g transform="rotate(-42 318 763)"><ellipse cx="318" cy="763" rx="195" ry="125" fill="#a6d96a" opacity=".8"/><ellipse cx="318" cy="763" rx="120" ry="70" fill="#8fd04a" opacity=".8"/></g><g transform="rotate(-4 635 665)"><ellipse cx="635" cy="665" rx="208" ry="133" fill="#f2bfcd" opacity=".85"/><ellipse cx="640" cy="665" rx="130" ry="75" fill="#eeb2c3" opacity=".6"/></g><g transform="rotate(-5 682 872)"><ellipse cx="682" cy="872" rx="265" ry="140" fill="#e98080" opacity=".92"/><ellipse cx="690" cy="868" rx="180" ry="88" fill="#d46a6c" opacity=".85"/></g><circle cx="333" cy="667" r="17" fill="#0aa84f" stroke="#eaf7e0" stroke-width="4"/><circle cx="397" cy="670" r="17" fill="#0aa84f" stroke="#eaf7e0" stroke-width="4"/><circle cx="272" cy="720" r="17" fill="#0aa84f" stroke="#eaf7e0" stroke-width="4"/><circle cx="336" cy="737" r="17" fill="#0aa84f" stroke="#eaf7e0" stroke-width="4"/><circle cx="433" cy="737" r="17" fill="#0aa84f" stroke="#eaf7e0" stroke-width="4"/><circle cx="198" cy="787" r="17" fill="#0aa84f" stroke="#eaf7e0" stroke-width="4"/><circle cx="263" cy="795" r="17" fill="#0aa84f" stroke="#eaf7e0" stroke-width="4"/><circle cx="361" cy="784" r="17" fill="#0aa84f" stroke="#eaf7e0" stroke-width="4"/><circle cx="208" cy="847" r="17" fill="#0aa84f" stroke="#eaf7e0" stroke-width="4"/><circle cx="280" cy="846" r="17" fill="#0aa84f" stroke="#eaf7e0" stroke-width="4"/><circle cx="350" cy="848" r="17" fill="#0aa84f" stroke="#eaf7e0" stroke-width="4"/><circle cx="238" cy="896" r="17" fill="#0aa84f" stroke="#eaf7e0" stroke-width="4"/><circle cx="497" cy="598" r="17" fill="#ee8fae" stroke="#fdf0f4" stroke-width="4"/><circle cx="560" cy="578" r="17" fill="#ee8fae" stroke="#fdf0f4" stroke-width="4"/><circle cx="665" cy="588" r="17" fill="#ee8fae" stroke="#fdf0f4" stroke-width="4"/><circle cx="768" cy="614" r="17" fill="#ee8fae" stroke="#fdf0f4" stroke-width="4"/><circle cx="587" cy="630" r="17" fill="#ee8fae" stroke="#fdf0f4" stroke-width="4"/><circle cx="727" cy="636" r="17" fill="#ee8fae" stroke="#fdf0f4" stroke-width="4"/><circle cx="663" cy="658" r="17" fill="#ee8fae" stroke="#fdf0f4" stroke-width="4"/><circle cx="505" cy="693" r="17" fill="#ee8fae" stroke="#fdf0f4" stroke-width="4"/><circle cx="565" cy="677" r="17" fill="#ee8fae" stroke="#fdf0f4" stroke-width="4"/><circle cx="632" cy="709" r="17" fill="#ee8fae" stroke="#fdf0f4" stroke-width="4"/><circle cx="702" cy="712" r="17" fill="#ee8fae" stroke="#fdf0f4" stroke-width="4"/><circle cx="782" cy="697" r="17" fill="#ee8fae" stroke="#fdf0f4" stroke-width="4"/><circle cx="515" cy="808" r="17" fill="#ff5a2a" stroke="#fde6e0" stroke-width="4"/><circle cx="565" cy="822" r="17" fill="#ff5a2a" stroke="#fde6e0" stroke-width="4"/><circle cx="628" cy="795" r="17" fill="#ff5a2a" stroke="#fde6e0" stroke-width="4"/><circle cx="702" cy="795" r="17" fill="#ff5a2a" stroke="#fde6e0" stroke-width="4"/><circle cx="754" cy="812" r="17" fill="#ff5a2a" stroke="#fde6e0" stroke-width="4"/><circle cx="811" cy="782" r="17" fill="#ff5a2a" stroke="#fde6e0" stroke-width="4"/><circle cx="462" cy="870" r="17" fill="#ff5a2a" stroke="#fde6e0" stroke-width="4"/><circle cx="627" cy="857" r="17" fill="#ff5a2a" stroke="#fde6e0" stroke-width="4"/><circle cx="749" cy="873" r="17" fill="#ff5a2a" stroke="#fde6e0" stroke-width="4"/><circle cx="853" cy="845" r="17" fill="#ff5a2a" stroke="#fde6e0" stroke-width="4"/><circle cx="466" cy="932" r="17" fill="#ff5a2a" stroke="#fde6e0" stroke-width="4"/><circle cx="668" cy="916" r="17" fill="#ff5a2a" stroke="#fde6e0" stroke-width="4"/><circle cx="806" cy="919" r="17" fill="#ff5a2a" stroke="#fde6e0" stroke-width="4"/><circle cx="611" cy="972" r="17" fill="#ff5a2a" stroke="#fde6e0" stroke-width="4"/><circle cx="697" cy="970" r="17" fill="#ff5a2a" stroke="#fde6e0" stroke-width="4"/><circle cx="512" cy="885" r="17" fill="#0a9a48" stroke="#0b6b35" stroke-width="6"/><circle cx="566" cy="905" r="17" fill="#0a9a48" stroke="#0b6b35" stroke-width="6"/><circle cx="522" cy="952" r="17" fill="#0a9a48" stroke="#0b6b35" stroke-width="6"/></g>
<line x1="2998.8" y1="994.2" x2="2998.8" y2="1080.0" stroke="#0f88e8" stroke-width="6.5"/><polygon points="2998.8,1096 2989.9500000000003,1076 3007.65,1076" fill="#0f88e8"/>
<rect x="2745.1" y="1096" width="508.3" height="246.9" rx="11" fill="none" stroke="#7f7f7f" stroke-width="2.3" stroke-dasharray="10.5 6.5"/>
<text class="sr" x="3018.7" y="1133.4" font-size="34.9" text-anchor="middle" >Ambiguous Gaussian</text>
<text class="sr" x="2885.2" y="1168.2" font-size="34.9" text-anchor="start" >Correction (  <tspan font-size="30">§<tspan fill="#3d85c6">3.3</tspan></tspan>  )</text>
<g transform="translate(2727.4,1028.7) scale(0.28732)"><g transform="rotate(-42 318 763)"><ellipse cx="318" cy="763" rx="195" ry="125" fill="#a6d96a" opacity=".8"/><ellipse cx="318" cy="763" rx="120" ry="70" fill="#8fd04a" opacity=".8"/></g><g transform="rotate(-4 635 665)"><ellipse cx="635" cy="665" rx="208" ry="133" fill="#f2bfcd" opacity=".85"/><ellipse cx="640" cy="665" rx="130" ry="75" fill="#eeb2c3" opacity=".6"/></g><g transform="rotate(-5 682 872)"><ellipse cx="682" cy="872" rx="265" ry="140" fill="#e98080" opacity=".92"/><ellipse cx="690" cy="868" rx="180" ry="88" fill="#d46a6c" opacity=".85"/></g><circle cx="333" cy="667" r="17" fill="#0aa84f" stroke="#eaf7e0" stroke-width="4"/><circle cx="397" cy="670" r="17" fill="#0aa84f" stroke="#eaf7e0" stroke-width="4"/><circle cx="272" cy="720" r="17" fill="#0aa84f" stroke="#eaf7e0" stroke-width="4"/><circle cx="336" cy="737" r="17" fill="#0aa84f" stroke="#eaf7e0" stroke-width="4"/><circle cx="433" cy="737" r="17" fill="#0aa84f" stroke="#eaf7e0" stroke-width="4"/><circle cx="198" cy="787" r="17" fill="#0aa84f" stroke="#eaf7e0" stroke-width="4"/><circle cx="263" cy="795" r="17" fill="#0aa84f" stroke="#eaf7e0" stroke-width="4"/><circle cx="361" cy="784" r="17" fill="#0aa84f" stroke="#eaf7e0" stroke-width="4"/><circle cx="208" cy="847" r="17" fill="#0aa84f" stroke="#eaf7e0" stroke-width="4"/><circle cx="280" cy="846" r="17" fill="#0aa84f" stroke="#eaf7e0" stroke-width="4"/><circle cx="350" cy="848" r="17" fill="#0aa84f" stroke="#eaf7e0" stroke-width="4"/><circle cx="238" cy="896" r="17" fill="#0aa84f" stroke="#eaf7e0" stroke-width="4"/><circle cx="497" cy="598" r="17" fill="#ee8fae" stroke="#fdf0f4" stroke-width="4"/><circle cx="560" cy="578" r="17" fill="#ee8fae" stroke="#fdf0f4" stroke-width="4"/><circle cx="665" cy="588" r="17" fill="#ee8fae" stroke="#fdf0f4" stroke-width="4"/><circle cx="768" cy="614" r="17" fill="#ee8fae" stroke="#fdf0f4" stroke-width="4"/><circle cx="587" cy="630" r="17" fill="#ee8fae" stroke="#fdf0f4" stroke-width="4"/><circle cx="727" cy="636" r="17" fill="#ee8fae" stroke="#fdf0f4" stroke-width="4"/><circle cx="663" cy="658" r="17" fill="#ee8fae" stroke="#fdf0f4" stroke-width="4"/><circle cx="505" cy="693" r="17" fill="#ee8fae" stroke="#fdf0f4" stroke-width="4"/><circle cx="565" cy="677" r="17" fill="#ee8fae" stroke="#fdf0f4" stroke-width="4"/><circle cx="632" cy="709" r="17" fill="#ee8fae" stroke="#fdf0f4" stroke-width="4"/><circle cx="702" cy="712" r="17" fill="#ee8fae" stroke="#fdf0f4" stroke-width="4"/><circle cx="782" cy="697" r="17" fill="#ee8fae" stroke="#fdf0f4" stroke-width="4"/><circle cx="515" cy="808" r="17" fill="#ff5a2a" stroke="#fde6e0" stroke-width="4"/><circle cx="565" cy="822" r="17" fill="#ff5a2a" stroke="#fde6e0" stroke-width="4"/><circle cx="628" cy="795" r="17" fill="#ff5a2a" stroke="#fde6e0" stroke-width="4"/><circle cx="702" cy="795" r="17" fill="#ff5a2a" stroke="#fde6e0" stroke-width="4"/><circle cx="754" cy="812" r="17" fill="#ff5a2a" stroke="#fde6e0" stroke-width="4"/><circle cx="811" cy="782" r="17" fill="#ff5a2a" stroke="#fde6e0" stroke-width="4"/><circle cx="462" cy="870" r="17" fill="#ff5a2a" stroke="#fde6e0" stroke-width="4"/><circle cx="627" cy="857" r="17" fill="#ff5a2a" stroke="#fde6e0" stroke-width="4"/><circle cx="749" cy="873" r="17" fill="#ff5a2a" stroke="#fde6e0" stroke-width="4"/><circle cx="853" cy="845" r="17" fill="#ff5a2a" stroke="#fde6e0" stroke-width="4"/><circle cx="466" cy="932" r="17" fill="#ff5a2a" stroke="#fde6e0" stroke-width="4"/><circle cx="668" cy="916" r="17" fill="#ff5a2a" stroke="#fde6e0" stroke-width="4"/><circle cx="806" cy="919" r="17" fill="#ff5a2a" stroke="#fde6e0" stroke-width="4"/><circle cx="611" cy="972" r="17" fill="#ff5a2a" stroke="#fde6e0" stroke-width="4"/><circle cx="697" cy="970" r="17" fill="#ff5a2a" stroke="#fde6e0" stroke-width="4"/><circle cx="512" cy="885" r="17" fill="#ff3a1a" stroke="#b3121a" stroke-width="6"/><circle cx="566" cy="905" r="17" fill="#ff3a1a" stroke="#b3121a" stroke-width="6"/><circle cx="522" cy="952" r="17" fill="#ff3a1a" stroke="#b3121a" stroke-width="6"/></g>
<line x1="3044" y1="1232.3" x2="3006" y2="1232.3" stroke="#000" stroke-width="2.7"/><polygon points="2995.5,1232.3 3009,1227.2 3009,1237.4" fill="#000"/>
<g transform="rotate(-5 3135.4 1232.3)"><ellipse cx="3135.4" cy="1232.3" rx="76" ry="40.7" fill="#e98080"/><ellipse cx="3145" cy="1231" rx="50" ry="26" fill="#d46a6c" opacity=".85"/></g>
<line x1="3087.9" y1="1216.0" x2="3102.1" y2="1242.6" stroke="#000" stroke-width="1" stroke-dasharray="2.5 1.8"/><line x1="3102.4" y1="1219.6" x2="3102.1" y2="1242.6" stroke="#000" stroke-width="1" stroke-dasharray="2.5 1.8"/><line x1="3119.8" y1="1229.3" x2="3102.1" y2="1242.6" stroke="#000" stroke-width="1" stroke-dasharray="2.5 1.8"/><line x1="3072.6" y1="1233.1" x2="3102.1" y2="1242.6" stroke="#000" stroke-width="1" stroke-dasharray="2.5 1.8"/><line x1="3131.6" y1="1247.0" x2="3102.1" y2="1242.6" stroke="#000" stroke-width="1" stroke-dasharray="2.5 1.8"/><line x1="3074.1" y1="1250.6" x2="3102.1" y2="1242.6" stroke="#000" stroke-width="1" stroke-dasharray="2.5 1.8"/><line x1="3114.8" y1="1263.2" x2="3102.1" y2="1242.6" stroke="#000" stroke-width="1" stroke-dasharray="2.5 1.8"/><line x1="3139.6" y1="1262.4" x2="3102.1" y2="1242.6" stroke="#000" stroke-width="1" stroke-dasharray="2.5 1.8"/><circle cx="3087.9" cy="1216.0" r="5" fill="#ff5a2a" stroke="#fde6e0" stroke-width="1.2"/><circle cx="3102.4" cy="1219.6" r="5" fill="#ff5a2a" stroke="#fde6e0" stroke-width="1.2"/><circle cx="3119.8" cy="1229.3" r="5" fill="#ff5a2a" stroke="#fde6e0" stroke-width="1.2"/><circle cx="3072.6" cy="1233.1" r="5" fill="#ff5a2a" stroke="#fde6e0" stroke-width="1.2"/><circle cx="3131.6" cy="1247.0" r="5" fill="#ff5a2a" stroke="#fde6e0" stroke-width="1.2"/><circle cx="3074.1" cy="1250.6" r="5" fill="#ff5a2a" stroke="#fde6e0" stroke-width="1.2"/><circle cx="3114.8" cy="1263.2" r="5" fill="#ff5a2a" stroke="#fde6e0" stroke-width="1.2"/><circle cx="3139.6" cy="1262.4" r="5" fill="#ff5a2a" stroke="#fde6e0" stroke-width="1.2"/><circle cx="3085.9" cy="1237.6" r="5.2" fill="#0a9a48" stroke="#0b6b35" stroke-width="1.6"/><circle cx="3102.1" cy="1242.6" r="5.2" fill="#0a9a48" stroke="#0b6b35" stroke-width="1.6"/><circle cx="3089.4" cy="1256.8" r="5.2" fill="#0a9a48" stroke="#0b6b35" stroke-width="1.6"/>
<text class="sr" x="3122" y="1314.9" font-size="26.2" text-anchor="middle" >KNN-based Correction</text>
</svg>

<!-- experiment -->
<div class="t s" style="top:649.14px;font-size:42.6px;left:3352.30px;">1. Qualitative results on PeopleSnapshot</div>
<div class="t s" style="top:1189.64px;font-size:42.6px;left:3350.80px;">2. Quantitative results on PeopleSnapshot</div>
<div class="t s" style="top:1449.64px;font-size:42.6px;left:3350.80px;">3. Quantitative Results on Diagnostic Experiment</div>
<div class="t s" style="top:1987.44px;font-size:42.6px;left:3350.80px;">4. Visualization about Dog Reconstruction</div>
<svg width="4608" height="2304" viewBox="0 0 4608 2304">
<text class="sr" x="3424.3" y="715.2" font-size="15.2" text-anchor="middle" font-weight="bold" fill="#c00000">0.3 FPS</text>
<text class="sr" x="3424.3" y="733.7" font-size="15.2" text-anchor="middle" font-weight="bold" fill="#000">HumanNeRF</text>
<text class="sr" x="3561.4" y="715.2" font-size="15.2" text-anchor="middle" font-weight="bold" fill="#00b050">140+ FPS</text>
<text class="sr" x="3561.4" y="733.7" font-size="15.2" text-anchor="middle" font-weight="bold" fill="#000">Ours</text>
<text class="sr" x="3797" y="715.2" font-size="15.2" text-anchor="middle" font-weight="bold" fill="#c00000">5 hours</text>
<text class="sr" x="3797" y="733.7" font-size="15.2" text-anchor="middle" font-weight="bold" fill="#000">HumanNeRF</text>
<text class="sr" x="4009.5" y="717.4" font-size="15.2" text-anchor="middle" font-weight="bold" fill="#00b050">30 min</text>
<text class="sr" x="4009.5" y="735.6" font-size="15.2" text-anchor="middle" font-weight="bold" fill="#000">Ours</text>
<text class="sr" x="4249.4" y="729.8" font-size="15.2" text-anchor="middle" font-weight="bold" fill="#000">HumanNeRF</text>
<text class="sr" x="4400.7" y="729.8" font-size="15.2" text-anchor="middle" font-weight="bold" fill="#000">Ours</text>
<line x1="3668.9" y1="738.5" x2="3668.9" y2="1155.5" stroke="#000" stroke-width="2.1" stroke-dasharray="6.8 4.2"/>
<line x1="4140.7" y1="738.5" x2="4140.7" y2="1155.5" stroke="#000" stroke-width="2.1" stroke-dasharray="6.8 4.2"/>
<text class="sr" x="3513.2" y="1175.2" font-size="20.3" text-anchor="middle" >Test views</text>
<text class="sr" x="3918.4" y="1175.2" font-size="20.3" text-anchor="middle" >Canonical poses</text>
<text class="sr" x="4323.1" y="1175.2" font-size="20.3" text-anchor="middle" >Novel poses</text>
<g transform="translate(3330,690) scale(0.38817)">
<g transform="translate(0,0)"><g filter="url(#b2)" stroke-linecap="round" stroke-linejoin="round"><polyline points="205,395 200,500 200,590" stroke-width="46" fill="none" stroke="#5f7487"/><polyline points="262,395 262,500 258,590" stroke-width="46" fill="none" stroke="#5f7487"/><polyline points="188,605 200,598" stroke-width="18" fill="none" stroke="#2b2b30"/><polyline points="262,598 275,607" stroke-width="18" fill="none" stroke="#2b2b30"/><polyline points="195,265 130,330 95,358" stroke-width="26" fill="none" stroke="#c2275c"/><polyline points="278,265 340,330 372,358" stroke-width="26" fill="none" stroke="#c2275c"/><polyline points="90,364 72,378" stroke-width="10" fill="none" stroke="#d9b09a"/><polyline points="376,364 388,376" stroke-width="10" fill="none" stroke="#d9b09a"/><polygon points="205,240 270,240 292,265 282,330 288,392 182,392 190,330 180,265" fill="#c2275c" /><polygon points="222,240 252,240 237,262" fill="#d9b09a" /><rect x="226" y="218" width="22" height="26" fill="#d9b09a" /><ellipse cx="237" cy="200" rx="24" ry="31" fill="#dfb7a2" /><path d="M211,200 C208,160 230,152 240,153 C262,153 272,170 264,202 C258,180 240,178 228,182 C218,185 214,190 211,200Z" fill="#6b4a36"/></g></g><g transform="translate(368,0)"><g filter="url(#b2)" stroke-linecap="round" stroke-linejoin="round"><polyline points="205,395 200,500 200,590" stroke-width="46" fill="none" stroke="#5f7487"/><polyline points="262,395 262,500 258,590" stroke-width="46" fill="none" stroke="#5f7487"/><polyline points="188,605 200,598" stroke-width="18" fill="none" stroke="#2b2b30"/><polyline points="262,598 275,607" stroke-width="18" fill="none" stroke="#2b2b30"/><polyline points="195,265 130,330 95,358" stroke-width="26" fill="none" stroke="#c2275c"/><polyline points="278,265 340,330 372,358" stroke-width="26" fill="none" stroke="#c2275c"/><polyline points="90,364 72,378" stroke-width="10" fill="none" stroke="#d9b09a"/><polyline points="376,364 388,376" stroke-width="10" fill="none" stroke="#d9b09a"/><polygon points="205,240 270,240 292,265 282,330 288,392 182,392 190,330 180,265" fill="#c2275c" /><polygon points="222,240 252,240 237,262" fill="#d9b09a" /><rect x="226" y="218" width="22" height="26" fill="#d9b09a" /><ellipse cx="237" cy="200" rx="24" ry="31" fill="#dfb7a2" /><path d="M211,200 C208,160 230,152 240,153 C262,153 272,170 264,202 C258,180 240,178 228,182 C218,185 214,190 211,200Z" fill="#6b4a36"/></g></g><rect x="196" y="165" width="82" height="81" fill="none" stroke="#3a9a3a" stroke-width="3.2"/><rect x="566" y="168" width="82" height="81" fill="none" stroke="#3a9a3a" stroke-width="3.2"/><clipPath id="qi1"><rect x="295" y="502" width="137" height="136"/></clipPath><rect x="295" y="502" width="137" height="136" fill="#fff"/><g clip-path="url(#qi1)" filter="url(#b3)"><rect x="295" y="617.6" width="137" height="27.200000000000003" fill="#c2275c" /><rect x="345.69" y="597.2" width="35.620000000000005" height="34.0" fill="#d9b09a" /><ellipse cx="363.5" cy="570.0" rx="41.1" ry="54.400000000000006" fill="#e2bca6" /><path d="M316.92,570.0 C308.7,508.8 425.15,499.28 410.08,570.0 C397.75,531.92 349.8,542.8 316.92,570.0Z" fill="#6b4a36"/><ellipse cx="349.8" cy="572.72" rx="4.109999999999999" ry="2.72" fill="#555" /><ellipse cx="377.2" cy="572.72" rx="4.109999999999999" ry="2.72" fill="#555" /><ellipse cx="363.5" cy="599.92" rx="8.219999999999999" ry="2.72" fill="#b0706a" /></g><rect x="295" y="502" width="137" height="136" fill="none" stroke="#3a9a3a" stroke-width="3.4"/><clipPath id="qi2"><rect x="662" y="502" width="136" height="135"/></clipPath><rect x="662" y="502" width="136" height="135" fill="#fff"/><g clip-path="url(#qi2)" filter="url(#b3)"><rect x="662" y="616.75" width="136" height="27.0" fill="#c2275c" /><rect x="712.32" y="596.5" width="35.36" height="33.75" fill="#d9b09a" /><ellipse cx="730.0" cy="569.5" rx="40.8" ry="54.0" fill="#e2bca6" /><path d="M683.76,569.5 C675.6,508.75 791.2,499.3 776.24,569.5 C764.0,531.7 716.4,542.5 683.76,569.5Z" fill="#6b4a36"/><ellipse cx="716.4" cy="572.2" rx="4.08" ry="2.7" fill="#555" /><ellipse cx="743.6" cy="572.2" rx="4.08" ry="2.7" fill="#555" /><ellipse cx="730.0" cy="599.2" rx="8.16" ry="2.7" fill="#b0706a" /></g><rect x="662" y="502" width="136" height="135" fill="none" stroke="#3a9a3a" stroke-width="3.4"/><g transform="translate(0,0)"><g filter="url(#b2)" stroke-linecap="round" stroke-linejoin="round"><polyline points="215,935 215,1050 212,1150" stroke-width="62" fill="none" stroke="#6f7f92"/><polyline points="240,935 235,1050 225,1150" stroke-width="50" fill="none" stroke="#76869a"/><polyline points="200,1166 245,1168" stroke-width="16" fill="none" stroke="#2b2b30"/><polygon points="195,775 250,770 268,800 268,925 180,930 178,830" fill="#c9272f" /><polyline points="258,800 285,870 318,935" stroke-width="24" fill="none" stroke="#b58d76"/><line x1="322" y1="940" x2="330" y2="955" stroke-width="12" stroke="#b58d76"/><line x1="290" y1="915" x2="296" y2="930" stroke-width="6" stroke="#8aa090"/><rect x="228" y="760" width="24" height="22" fill="#b58d76" /><ellipse cx="248" cy="738" rx="28" ry="34" fill="#b58d76" /><path d="M216,745 C208,705 235,698 250,700 C268,702 278,712 274,728 C262,722 250,722 244,735 C240,750 230,760 216,745Z" fill="#2a2421"/><path d="M248,758 C258,772 270,770 274,752 C266,760 256,760 248,758Z" fill="#3a2c26"/></g></g><g transform="translate(360,0)"><g filter="url(#b2)" stroke-linecap="round" stroke-linejoin="round"><polyline points="215,935 215,1050 212,1150" stroke-width="62" fill="none" stroke="#6f7f92"/><polyline points="240,935 235,1050 225,1150" stroke-width="50" fill="none" stroke="#76869a"/><polyline points="200,1166 245,1168" stroke-width="16" fill="none" stroke="#2b2b30"/><polygon points="195,775 250,770 268,800 268,925 180,930 178,830" fill="#c9272f" /><polyline points="258,800 285,870 318,935" stroke-width="24" fill="none" stroke="#b58d76"/><line x1="322" y1="940" x2="330" y2="955" stroke-width="12" stroke="#b58d76"/><line x1="290" y1="915" x2="296" y2="930" stroke-width="6" stroke="#8aa090"/><rect x="228" y="760" width="24" height="22" fill="#b58d76" /><ellipse cx="248" cy="738" rx="28" ry="34" fill="#b58d76" /><path d="M216,745 C208,705 235,698 250,700 C268,702 278,712 274,728 C262,722 250,722 244,735 C240,750 230,760 216,745Z" fill="#2a2421"/><path d="M248,758 C258,772 270,770 274,752 C266,760 256,760 248,758Z" fill="#3a2c26"/></g></g><rect x="143" y="800" width="82" height="81" fill="none" stroke="#3a9a3a" stroke-width="3.2"/><rect x="498" y="800" width="81" height="81" fill="none" stroke="#3a9a3a" stroke-width="3.2"/><clipPath id="qi3"><rect x="297" y="1038" width="136" height="134"/></clipPath><rect x="297" y="1038" width="136" height="134" fill="#fff"/><g clip-path="url(#qi3)" filter="url(#b3)"><rect x="350" y="1030" width="90" height="150" fill="#c9272f" /><ellipse cx="345" cy="1110" rx="12" ry="16" fill="#d04a50" /></g><rect x="297" y="1038" width="136" height="134" fill="none" stroke="#3a9a3a" stroke-width="3.4"/><clipPath id="qi4"><rect x="643" y="1033" width="136" height="135"/></clipPath><rect x="643" y="1033" width="136" height="135" fill="#fff"/><g clip-path="url(#qi4)" filter="url(#b3)"><rect x="716" y="1025" width="70" height="150" fill="#b8262c" /></g><rect x="643" y="1033" width="136" height="135" fill="none" stroke="#3a9a3a" stroke-width="3.4"/><g transform="translate(0,0)"><g filter="url(#b2)" stroke-linecap="round" stroke-linejoin="round"><polyline points="1185,410 1120,520 1060,625" stroke-width="54" fill="none" stroke="#5f7487"/><polyline points="1245,410 1295,510 1345,610" stroke-width="54" fill="none" stroke="#5f7487"/><polygon points="1170,520 1215,450 1260,520 1240,540 1215,490 1190,540" fill="#dfe3e8" /><polyline points="1175,262 1080,265 1000,265" stroke-width="24" fill="none" stroke="#c2275c"/><polyline points="1255,262 1350,265 1425,265" stroke-width="24" fill="none" stroke="#c2275c"/><polyline points="990,266 965,264" stroke-width="9" fill="none" stroke="#d9b09a"/><polyline points="1432,266 1452,264" stroke-width="9" fill="none" stroke="#d9b09a"/><polygon points="1180,245 1245,245 1270,262 1262,330 1270,398 1155,398 1168,330 1158,262" fill="#c2275c" /><polygon points="1198,245 1228,245 1213,268" fill="#d9b09a" /><rect x="1200" y="226" width="22" height="24" fill="#d9b09a" /><ellipse cx="1211" cy="208" rx="24" ry="31" fill="#dfb7a2" /><path d="M1185,208 C1182,168 1204,160 1214,161 C1236,161 1246,178 1238,210 C1232,188 1214,186 1202,190 C1192,193 1188,198 1185,208Z" fill="#6b4a36"/></g></g><rect x="1170" y="185" width="82" height="80" fill="none" stroke="#c0504d" stroke-width="3.2"/><rect x="1092" y="270" width="82" height="80" fill="none" stroke="#3a9a3a" stroke-width="3.2"/><clipPath id="qi5"><rect x="930" y="503" width="135" height="134"/></clipPath><rect x="930" y="503" width="135" height="134" fill="#fff"/><g clip-path="url(#qi5)" filter="url(#b3)"><polygon points="930,503 1065,503 1065,637 1045,637 1040,590 1010,545 960,525 930,520" fill="#c2275c" /></g><rect x="930" y="503" width="135" height="134" fill="none" stroke="#3a9a3a" stroke-width="3.4"/><clipPath id="qi6"><rect x="1320" y="505" width="135" height="133"/></clipPath><rect x="1320" y="505" width="135" height="133" fill="#fff"/><g clip-path="url(#qi6)" filter="url(#b3)"><rect x="1320" y="618.05" width="135" height="26.6" fill="#c2275c" /><rect x="1369.95" y="598.1" width="35.1" height="33.25" fill="#d9b09a" /><ellipse cx="1387.5" cy="571.5" rx="40.5" ry="53.2" fill="#e2bca6" /><path d="M1341.6,571.5 C1333.5,511.65 1448.25,502.34 1433.4,571.5 C1421.25,534.26 1374.0,544.9 1341.6,571.5Z" fill="#6b4a36"/><ellipse cx="1374.0" cy="574.16" rx="4.05" ry="2.66" fill="#555" /><ellipse cx="1401.0" cy="574.16" rx="4.05" ry="2.66" fill="#555" /><ellipse cx="1387.5" cy="600.76" rx="8.1" ry="2.66" fill="#b0706a" /></g><rect x="1320" y="505" width="135" height="133" fill="none" stroke="#c0504d" stroke-width="3.4"/><g transform="translate(1195,742) scale(1.09,1.24) translate(-375,-75)"><g filter="url(#b2)" stroke-linecap="round" stroke-linejoin="round"><polygon points="300,112 300,150 230,146 175,141 165,132 172,124 230,120" fill="#b58d76" /><polygon points="455,112 455,150 520,146 580,139 592,130 582,122 520,120" fill="#b58d76" /><line x1="205" y1="125" x2="205" y2="145" stroke-width="6" stroke="#8aa090"/><polygon points="322,232 388,258 318,345 288,430 246,422 268,330" fill="#6f7f92" /><polygon points="368,258 432,232 478,330 504,418 464,430 438,345" fill="#6f7f92" /><polyline points="255,428 230,436" stroke-width="16" fill="none" stroke="#2b2b30"/><polyline points="492,425 515,434" stroke-width="16" fill="none" stroke="#2b2b30"/><polygon points="335,105 415,105 470,118 462,150 430,150 428,235 380,258 330,238 325,150 292,150 288,118" fill="#c42f37" /><rect x="362" y="85" width="28" height="26" fill="#b58d76" /><ellipse cx="375" cy="70" rx="24" ry="34" fill="#b58d76" /><path d="M350,70 C348,38 365,32 376,33 C392,33 402,44 399,70 C393,52 388,50 375,50 C364,50 356,52 350,70Z" fill="#2a2421"/><path d="M353,82 C358,100 368,104 376,104 C386,104 394,99 398,82 C392,94 384,96 376,96 C366,96 358,94 353,82Z" fill="#4a382f" opacity=".8"/><ellipse cx="366.18" cy="68.4" rx="3.5700000000000003" ry="1.65" fill="#2a1d18" /><ellipse cx="383.82" cy="68.4" rx="3.5700000000000003" ry="1.65" fill="#2a1d18" /><path d="M360.3,64.5 Q366.18,61.800000000000004 372.06,64.80000000000001 M377.94,64.80000000000001 Q383.82,61.800000000000004 389.7,64.5" stroke="#2a1d18" stroke-width="1.8" fill="none"/><path d="M373.95,71.4 L372.06,80.4 L377.94,80.4" stroke="#8a6350" stroke-width="1.5" fill="none" opacity=".8"/><ellipse cx="375" cy="87.0" rx="6.3" ry="1.2" fill="#7a4a42" /><ellipse cx="363.45" cy="76.5" rx="5.25" ry="9.0" fill="#9a7460" opacity=".35"/><ellipse cx="386.55" cy="76.5" rx="5.25" ry="9.0" fill="#9a7460" opacity=".35"/></g><text class="sr" x="378" y="142" font-size="24" font-weight="bold" font-style="italic" text-anchor="middle" fill="#2d2545">AUTO</text><path d="M370,155 L388,155 L388,170 L379,177 L370,170Z" fill="#f2e9ea"/></g><rect x="1228" y="887" width="82" height="81" fill="none" stroke="#c0504d" stroke-width="3.2"/><rect x="1117" y="1003" width="82" height="80" fill="none" stroke="#3a9a3a" stroke-width="3.2"/><clipPath id="qi7"><rect x="934" y="1033" width="138" height="135"/></clipPath><rect x="934" y="1033" width="138" height="135" fill="#fff"/><g clip-path="url(#qi7)" filter="url(#b3)"><rect x="930" y="1030" width="150" height="140" fill="#77838f" /><polygon points="990,1168 1072,1070 1072,1168" fill="#fff" /><polygon points="934,1168 990,1120 1020,1168" fill="#e8e8e8" /></g><rect x="934" y="1033" width="138" height="135" fill="none" stroke="#3a9a3a" stroke-width="3.4"/><clipPath id="qi8"><rect x="1313" y="1033" width="137" height="135"/></clipPath><rect x="1313" y="1033" width="137" height="135" fill="#fff"/><g clip-path="url(#qi8)" filter="url(#b3)"><polygon points="1313,1033 1365,1033 1360,1100 1345,1120 1313,1120" fill="#b8262c" /><polygon points="1313,1120 1345,1120 1360,1168 1313,1168" fill="#8a8f9a" /></g><rect x="1313" y="1033" width="137" height="135" fill="none" stroke="#c0504d" stroke-width="3.4"/></g>
<g transform="translate(3900,690) scale(0.38817)">
<g transform="translate(-925,0)"><g transform="translate(0,0)"><g filter="url(#b2)" stroke-linecap="round" stroke-linejoin="round"><polyline points="1185,410 1120,520 1060,625" stroke-width="54" fill="none" stroke="#5f7487"/><polyline points="1245,410 1295,510 1345,610" stroke-width="54" fill="none" stroke="#5f7487"/><polyline points="1175,262 1080,265 1000,265" stroke-width="24" fill="none" stroke="#c2275c"/><polyline points="1255,262 1350,265 1425,265" stroke-width="24" fill="none" stroke="#c2275c"/><polyline points="990,266 965,264" stroke-width="9" fill="none" stroke="#d9b09a"/><polyline points="1432,266 1452,264" stroke-width="9" fill="none" stroke="#d9b09a"/><polygon points="1180,245 1245,245 1270,262 1262,330 1270,398 1155,398 1168,330 1158,262" fill="#c2275c" /><polygon points="1198,245 1228,245 1213,268" fill="#d9b09a" /><rect x="1200" y="226" width="22" height="24" fill="#d9b09a" /><ellipse cx="1211" cy="208" rx="24" ry="31" fill="#dfb7a2" /><path d="M1185,208 C1182,168 1204,160 1214,161 C1236,161 1246,178 1238,210 C1232,188 1214,186 1202,190 C1192,193 1188,198 1185,208Z" fill="#6b4a36"/></g></g></g><rect x="250" y="183" width="82" height="80" fill="none" stroke="#c0504d" stroke-width="3.2"/><rect x="192" y="277" width="82" height="80" fill="none" stroke="#3a9a3a" stroke-width="3.2"/><clipPath id="qj1"><rect x="42" y="505" width="135" height="133"/></clipPath><rect x="42" y="505" width="135" height="133" fill="#fff"/><g clip-path="url(#qj1)" filter="url(#b3)"><polygon points="42,505 105,505 100,530 130,570 140,638 177,638 177,520 120,505" fill="#c2275c" /><polygon points="100,520 177,510 177,638 135,638 125,570" fill="#c2275c" /></g><rect x="42" y="505" width="135" height="133" fill="none" stroke="#3a9a3a" stroke-width="3.4"/><clipPath id="qj2"><rect x="412" y="505" width="135" height="133"/></clipPath><rect x="412" y="505" width="135" height="133" fill="#fff"/><g clip-path="url(#qj2)" filter="url(#b3)"><rect x="412" y="618.05" width="135" height="26.6" fill="#c2275c" /><rect x="461.95" y="598.1" width="35.1" height="33.25" fill="#d9b09a" /><ellipse cx="479.5" cy="571.5" rx="40.5" ry="53.2" fill="#e2bca6" /><path d="M433.6,571.5 C425.5,511.65 540.25,502.34 525.4,571.5 C513.25,534.26 466.0,544.9 433.6,571.5Z" fill="#6b4a36"/><ellipse cx="466.0" cy="574.16" rx="4.05" ry="2.66" fill="#555" /><ellipse cx="493.0" cy="574.16" rx="4.05" ry="2.66" fill="#555" /><ellipse cx="479.5" cy="600.76" rx="8.1" ry="2.66" fill="#b0706a" /></g><rect x="412" y="505" width="135" height="133" fill="none" stroke="#c0504d" stroke-width="3.4"/><g transform="translate(295,747) scale(1.17,1.22) translate(-375,-75)"><g filter="url(#b2)" stroke-linecap="round" stroke-linejoin="round"><polygon points="300,112 300,150 230,146 175,141 165,132 172,124 230,120" fill="#b58d76" /><polygon points="455,112 455,150 520,146 580,139 592,130 582,122 520,120" fill="#b58d76" /><line x1="205" y1="125" x2="205" y2="145" stroke-width="6" stroke="#8aa090"/><polygon points="322,232 388,258 318,345 288,430 246,422 268,330" fill="#6f7f92" /><polygon points="368,258 432,232 478,330 504,418 464,430 438,345" fill="#6f7f92" /><polyline points="255,428 230,436" stroke-width="16" fill="none" stroke="#2b2b30"/><polyline points="492,425 515,434" stroke-width="16" fill="none" stroke="#2b2b30"/><polygon points="335,105 415,105 470,118 462,150 430,150 428,235 380,258 330,238 325,150 292,150 288,118" fill="#c42f37" /><rect x="362" y="85" width="28" height="26" fill="#b58d76" /><ellipse cx="375" cy="70" rx="24" ry="34" fill="#b58d76" /><path d="M350,70 C348,38 365,32 376,33 C392,33 402,44 399,70 C393,52 388,50 375,50 C364,50 356,52 350,70Z" fill="#2a2421"/><path d="M353,82 C358,100 368,104 376,104 C386,104 394,99 398,82 C392,94 384,96 376,96 C366,96 358,94 353,82Z" fill="#4a382f" opacity=".8"/><ellipse cx="366.18" cy="68.4" rx="3.5700000000000003" ry="1.65" fill="#2a1d18" /><ellipse cx="383.82" cy="68.4" rx="3.5700000000000003" ry="1.65" fill="#2a1d18" /><path d="M360.3,64.5 Q366.18,61.800000000000004 372.06,64.80000000000001 M377.94,64.80000000000001 Q383.82,61.800000000000004 389.7,64.5" stroke="#2a1d18" stroke-width="1.8" fill="none"/><path d="M373.95,71.4 L372.06,80.4 L377.94,80.4" stroke="#8a6350" stroke-width="1.5" fill="none" opacity=".8"/><ellipse cx="375" cy="87.0" rx="6.3" ry="1.2" fill="#7a4a42" /><ellipse cx="363.45" cy="76.5" rx="5.25" ry="9.0" fill="#9a7460" opacity=".35"/><ellipse cx="386.55" cy="76.5" rx="5.25" ry="9.0" fill="#9a7460" opacity=".35"/></g><text class="sr" x="378" y="142" font-size="24" font-weight="bold" font-style="italic" text-anchor="middle" fill="#2d2545">AUTO</text><path d="M370,155 L388,155 L388,170 L379,177 L370,170Z" fill="#f2e9ea"/></g><rect x="313" y="895" width="82" height="80" fill="none" stroke="#c0504d" stroke-width="3.2"/><rect x="195" y="995" width="82" height="80" fill="none" stroke="#3a9a3a" stroke-width="3.2"/><clipPath id="qj3"><rect x="45" y="1033" width="135" height="132"/></clipPath><rect x="45" y="1033" width="135" height="132" fill="#fff"/><g clip-path="url(#qj3)" filter="url(#b3)"><polygon points="45,1165 90,1040 180,1033 180,1090 120,1165" fill="#77838f" /></g><rect x="45" y="1033" width="135" height="132" fill="none" stroke="#3a9a3a" stroke-width="3.4"/><clipPath id="qj4"><rect x="415" y="1033" width="137" height="135"/></clipPath><rect x="415" y="1033" width="137" height="135" fill="#fff"/><g clip-path="url(#qj4)" filter="url(#b3)"><polygon points="415,1033 455,1033 450,1100 440,1125 415,1125" fill="#b8262c" /><polygon points="415,1125 440,1125 465,1168 415,1168" fill="#8a8f9a" /></g><rect x="415" y="1033" width="137" height="135" fill="none" stroke="#c0504d" stroke-width="3.4"/><g transform="translate(0,0)"><g filter="url(#b2)" stroke-linecap="round" stroke-linejoin="round"><polyline points="840,395 850,500 845,600" stroke-width="50" fill="none" stroke="#5f7487"/><polyline points="885,395 890,500 875,600" stroke-width="48" fill="none" stroke="#566a7e"/><polyline points="835,620 880,625" stroke-width="18" fill="none" stroke="#2b2b30"/><polyline points="870,622 895,632" stroke-width="12" fill="none" stroke="#2b2b30"/><polyline points="830,240 760,246 700,250" stroke-width="26" fill="none" stroke="#c2275c"/><line x1="694" y1="250" x2="684" y2="248" stroke-width="9" stroke="#d9b09a"/><polyline points="940,228 975,255 1000,282" stroke-width="24" fill="none" stroke="#c2275c"/><polygon points="835,222 925,222 940,250 925,320 915,388 808,385 820,320 812,250" fill="#c2275c" /><ellipse cx="888" cy="192" rx="34" ry="36" fill="#6b4a36" /><ellipse cx="896" cy="182" rx="22" ry="20" fill="#8a6446" /><rect x="880" y="218" width="20" height="14" fill="#d9b09a" /></g></g><g transform="translate(412,0)"><g filter="url(#b2)" stroke-linecap="round" stroke-linejoin="round"><polyline points="840,395 850,500 845,600" stroke-width="50" fill="none" stroke="#5f7487"/><polyline points="885,395 890,500 875,600" stroke-width="48" fill="none" stroke="#566a7e"/><polyline points="835,620 880,625" stroke-width="18" fill="none" stroke="#2b2b30"/><polyline points="870,622 895,632" stroke-width="12" fill="none" stroke="#2b2b30"/><polyline points="830,240 760,246 700,250" stroke-width="26" fill="none" stroke="#c2275c"/><line x1="694" y1="250" x2="684" y2="248" stroke-width="9" stroke="#d9b09a"/><polyline points="940,232 973,250 998,275" stroke-width="24" fill="none" stroke="#c2275c"/><polygon points="835,222 925,222 940,250 925,320 915,388 808,385 820,320 812,250" fill="#c2275c" /><ellipse cx="888" cy="192" rx="34" ry="36" fill="#6b4a36" /><ellipse cx="896" cy="182" rx="22" ry="20" fill="#8a6446" /><rect x="880" y="218" width="20" height="14" fill="#d9b09a" /></g></g><rect x="849" y="154" width="82" height="82" fill="none" stroke="#c0504d" stroke-width="3.2"/><rect x="943" y="208" width="82" height="81" fill="none" stroke="#3a9a3a" stroke-width="3.2"/><rect x="1263" y="154" width="82" height="82" fill="none" stroke="#c0504d" stroke-width="3.2"/><rect x="1364" y="193" width="82" height="80" fill="none" stroke="#3a9a3a" stroke-width="3.2"/><clipPath id="qj5"><rect x="677" y="503" width="134" height="134"/></clipPath><rect x="677" y="503" width="134" height="134" fill="#fff"/><g clip-path="url(#qj5)" filter="url(#b3)"><polyline points="690,530 740,570 775,637" stroke-width="60" fill="none" stroke="#c2275c"/></g><rect x="677" y="503" width="134" height="134" fill="none" stroke="#3a9a3a" stroke-width="3.4"/><clipPath id="qj6"><rect x="936" y="505" width="135" height="133"/></clipPath><rect x="936" y="505" width="135" height="133" fill="#fff"/><g clip-path="url(#qj6)" filter="url(#b3)"><rect x="936" y="608.74" width="135" height="39.9" fill="#c2275c" /><ellipse cx="1003.5" cy="604.75" rx="21.6" ry="26.6" fill="#d9b09a" /><ellipse cx="1003.5" cy="560.86" rx="48.6" ry="53.2" fill="#6b4a36" /><ellipse cx="1017.0" cy="544.9" rx="33.75" ry="29.26" fill="#8a6446" /></g><rect x="936" y="505" width="135" height="133" fill="none" stroke="#c0504d" stroke-width="3.4"/><clipPath id="qj7"><rect x="1117" y="503" width="134" height="134"/></clipPath><rect x="1117" y="503" width="134" height="134" fill="#fff"/><g clip-path="url(#qj7)" filter="url(#b3)"><polyline points="1125,545 1170,570 1215,630" stroke-width="50" fill="none" stroke="#c2275c"/></g><rect x="1117" y="503" width="134" height="134" fill="none" stroke="#3a9a3a" stroke-width="3.4"/><clipPath id="qj8"><rect x="1357" y="500" width="135" height="135"/></clipPath><rect x="1357" y="500" width="135" height="135" fill="#fff"/><g clip-path="url(#qj8)" filter="url(#b3)"><rect x="1357" y="605.3" width="135" height="40.5" fill="#c2275c" /><ellipse cx="1424.5" cy="601.25" rx="21.6" ry="27.0" fill="#d9b09a" /><ellipse cx="1424.5" cy="556.7" rx="48.6" ry="54.0" fill="#6b4a36" /><ellipse cx="1438.0" cy="540.5" rx="33.75" ry="29.7" fill="#8a6446" /></g><rect x="1357" y="500" width="135" height="135" fill="none" stroke="#c0504d" stroke-width="3.4"/><g transform="translate(0,0)"><g filter="url(#b2)" stroke-linecap="round" stroke-linejoin="round"><polyline points="832,940 832,1050 832,1140" stroke-width="48" fill="none" stroke="#6f7f92"/><polyline points="886,940 886,1050 886,1140" stroke-width="48" fill="none" stroke="#6f7f92"/><polyline points="825,1162 840,1158" stroke-width="16" fill="none" stroke="#2b2b30"/><polyline points="880,1158 898,1163" stroke-width="16" fill="none" stroke="#2b2b30"/><polygon points="830,772 892,772 925,795 918,850 912,935 806,935 805,850 792,795" fill="#c42f37" /><polyline points="795,810 770,870 765,830 762,800" stroke-width="20" fill="none" stroke="#b58d76"/><polyline points="920,800 935,850 905,800 890,775" stroke-width="20" fill="none" stroke="#b58d76"/><ellipse cx="945" cy="893" rx="14" ry="16" fill="#c8424a" /><rect x="848" y="752" width="24" height="24" fill="#b58d76" /><ellipse cx="860" cy="730" rx="24" ry="33" fill="#b58d76" /><path d="M836,730 C834,698 850,692 861,693 C877,693 887,704 884,730 C878,712 873,710 860,710 C849,710 841,712 836,730Z" fill="#2a2421"/><path d="M839,742 C844,760 853,764 861,764 C871,764 879,759 883,742 C877,754 869,756 861,756 C851,756 843,754 839,742Z" fill="#4a382f" opacity=".8"/><rect x="838" y="812" width="44" height="10" fill="#3a2a4a" opacity=".8"/><rect x="852" y="835" width="14" height="14" fill="#f0e0e0" /><ellipse cx="851.18" cy="728.52" rx="3.5700000000000003" ry="1.595" fill="#2a1d18" /><ellipse cx="868.82" cy="728.52" rx="3.5700000000000003" ry="1.595" fill="#2a1d18" /><path d="M845.3,724.75 Q851.18,722.14 857.06,725.04 M862.94,725.04 Q868.82,722.14 874.7,724.75" stroke="#2a1d18" stroke-width="1.7" fill="none"/><path d="M858.95,731.42 L857.06,740.12 L862.94,740.12" stroke="#8a6350" stroke-width="1.5" fill="none" opacity=".8"/><ellipse cx="860" cy="746.5" rx="6.3" ry="1.16" fill="#7a4a42" /><ellipse cx="848.45" cy="736.35" rx="5.25" ry="8.7" fill="#9a7460" opacity=".35"/><ellipse cx="871.55" cy="736.35" rx="5.25" ry="8.7" fill="#9a7460" opacity=".35"/></g></g><g transform="translate(430,0)"><g filter="url(#b2)" stroke-linecap="round" stroke-linejoin="round"><polyline points="832,940 832,1050 832,1140" stroke-width="48" fill="none" stroke="#6f7f92"/><polyline points="886,940 886,1050 886,1140" stroke-width="48" fill="none" stroke="#6f7f92"/><polyline points="825,1162 840,1158" stroke-width="16" fill="none" stroke="#2b2b30"/><polyline points="880,1158 898,1163" stroke-width="16" fill="none" stroke="#2b2b30"/><polygon points="830,772 892,772 925,795 918,850 912,935 806,935 805,850 792,795" fill="#c42f37" /><polyline points="795,810 775,860 770,830 768,805" stroke-width="20" fill="none" stroke="#b58d76"/><polyline points="920,805 940,850 915,800 895,765" stroke-width="20" fill="none" stroke="#b58d76"/><rect x="848" y="752" width="24" height="24" fill="#b58d76" /><ellipse cx="860" cy="730" rx="24" ry="33" fill="#b58d76" /><path d="M836,730 C834,698 850,692 861,693 C877,693 887,704 884,730 C878,712 873,710 860,710 C849,710 841,712 836,730Z" fill="#2a2421"/><path d="M839,742 C844,760 853,764 861,764 C871,764 879,759 883,742 C877,754 869,756 861,756 C851,756 843,754 839,742Z" fill="#4a382f" opacity=".8"/><rect x="838" y="812" width="44" height="10" fill="#3a2a4a" opacity=".8"/><rect x="852" y="835" width="14" height="14" fill="#f0e0e0" /><ellipse cx="851.18" cy="728.52" rx="3.5700000000000003" ry="1.595" fill="#2a1d18" /><ellipse cx="868.82" cy="728.52" rx="3.5700000000000003" ry="1.595" fill="#2a1d18" /><path d="M845.3,724.75 Q851.18,722.14 857.06,725.04 M862.94,725.04 Q868.82,722.14 874.7,724.75" stroke="#2a1d18" stroke-width="1.7" fill="none"/><path d="M858.95,731.42 L857.06,740.12 L862.94,740.12" stroke="#8a6350" stroke-width="1.5" fill="none" opacity=".8"/><ellipse cx="860" cy="746.5" rx="6.3" ry="1.16" fill="#7a4a42" /><ellipse cx="848.45" cy="736.35" rx="5.25" ry="8.7" fill="#9a7460" opacity=".35"/><ellipse cx="871.55" cy="736.35" rx="5.25" ry="8.7" fill="#9a7460" opacity=".35"/></g></g><rect x="745" y="778" width="81" height="80" fill="none" stroke="#3a9a3a" stroke-width="3.2"/><rect x="868" y="767" width="82" height="81" fill="none" stroke="#c0504d" stroke-width="3.2"/><rect x="1185" y="775" width="82" height="80" fill="none" stroke="#3a9a3a" stroke-width="3.2"/><rect x="1312" y="750" width="81" height="80" fill="none" stroke="#c0504d" stroke-width="3.2"/><clipPath id="qj9"><rect x="675" y="1038" width="136" height="135"/></clipPath><rect x="675" y="1038" width="136" height="135" fill="#fff"/><g clip-path="url(#qj9)" filter="url(#b3)"><rect x="735" y="1038" width="80" height="140" fill="#c42f37" /><polyline points="710,1080 705,1130 730,1165" stroke-width="22" fill="none" stroke="#b58d76"/></g><rect x="675" y="1038" width="136" height="135" fill="none" stroke="#3a9a3a" stroke-width="3.4"/><clipPath id="qj10"><rect x="932" y="1038" width="136" height="135"/></clipPath><rect x="932" y="1038" width="136" height="135" fill="#fff"/><g clip-path="url(#qj10)" filter="url(#b3)"><rect x="932" y="1038" width="140" height="140" fill="#c42f37" /><polyline points="945,1050 985,1110 1068,1160" stroke-width="26" fill="none" stroke="#b58d76"/></g><rect x="932" y="1038" width="136" height="135" fill="none" stroke="#c0504d" stroke-width="3.4"/><clipPath id="qj11"><rect x="1117" y="1038" width="135" height="135"/></clipPath><rect x="1117" y="1038" width="135" height="135" fill="#fff"/><g clip-path="url(#qj11)" filter="url(#b3)"><polygon points="1175,1173 1185,1080 1252,1045 1252,1173" fill="#c42f37" /><polyline points="1140,1090 1160,1140 1190,1170" stroke-width="22" fill="none" stroke="#b58d76"/></g><rect x="1117" y="1038" width="135" height="135" fill="none" stroke="#3a9a3a" stroke-width="3.4"/><clipPath id="qj12"><rect x="1367" y="1038" width="135" height="135"/></clipPath><rect x="1367" y="1038" width="135" height="135" fill="#fff"/><g clip-path="url(#qj12)" filter="url(#b3)"><polygon points="1367,1090 1440,1085 1470,1173 1367,1173" fill="#c42f37" /><polyline points="1380,1050 1400,1110 1440,1173" stroke-width="20" fill="none" stroke="#b58d76"/></g><rect x="1367" y="1038" width="135" height="135" fill="none" stroke="#c0504d" stroke-width="3.4"/></g>
<rect x="3377.3" y="1247.6" width="1113.3999999999996" height="2.2" fill="#000"/><rect x="3377.3" y="1249.8" width="1113.3999999999996" height="55.200000000000045" fill="#e6e6e6" stroke="#777" stroke-width="1.3"/><line x1="3533.8" y1="1249.8" x2="3533.8" y2="1305" stroke="#777" stroke-width="1.2"/><line x1="3538.9" y1="1249.8" x2="3538.9" y2="1305" stroke="#777" stroke-width="1.2"/><line x1="3645.3" y1="1249.8" x2="3645.3" y2="1305" stroke="#777" stroke-width="1.2"/><line x1="3650.5" y1="1249.8" x2="3650.5" y2="1305" stroke="#777" stroke-width="1.2"/><line x1="3860.2" y1="1249.8" x2="3860.2" y2="1305" stroke="#777" stroke-width="1.2"/><line x1="4070.3" y1="1249.8" x2="4070.3" y2="1305" stroke="#777" stroke-width="1.2"/><line x1="4280.1" y1="1249.8" x2="4280.1" y2="1305" stroke="#777" stroke-width="1.2"/><rect x="3377.3" y="1310.8" width="1113.3999999999996" height="55.5" fill="#fff" stroke="#777" stroke-width="1.3"/><line x1="3533.8" y1="1310.8" x2="3533.8" y2="1366.3" stroke="#777" stroke-width="1.2"/><line x1="3538.9" y1="1310.8" x2="3538.9" y2="1366.3" stroke="#777" stroke-width="1.2"/><line x1="3645.3" y1="1310.8" x2="3645.3" y2="1366.3" stroke="#777" stroke-width="1.2"/><line x1="3650.5" y1="1310.8" x2="3650.5" y2="1366.3" stroke="#777" stroke-width="1.2"/><line x1="3860.2" y1="1310.8" x2="3860.2" y2="1366.3" stroke="#777" stroke-width="1.2"/><line x1="4070.3" y1="1310.8" x2="4070.3" y2="1366.3" stroke="#777" stroke-width="1.2"/><line x1="4280.1" y1="1310.8" x2="4280.1" y2="1366.3" stroke="#777" stroke-width="1.2"/><rect x="3377.3" y="1371.4" width="1113.3999999999996" height="56.09999999999991" fill="#fff" stroke="#777" stroke-width="1.3"/><line x1="3533.8" y1="1371.4" x2="3533.8" y2="1427.5" stroke="#777" stroke-width="1.2"/><line x1="3538.9" y1="1371.4" x2="3538.9" y2="1427.5" stroke="#777" stroke-width="1.2"/><line x1="3645.3" y1="1371.4" x2="3645.3" y2="1427.5" stroke="#777" stroke-width="1.2"/><line x1="3650.5" y1="1371.4" x2="3650.5" y2="1427.5" stroke="#777" stroke-width="1.2"/><line x1="3860.2" y1="1371.4" x2="3860.2" y2="1427.5" stroke="#777" stroke-width="1.2"/><line x1="4070.3" y1="1371.4" x2="4070.3" y2="1427.5" stroke="#777" stroke-width="1.2"/><line x1="4280.1" y1="1371.4" x2="4280.1" y2="1427.5" stroke="#777" stroke-width="1.2"/>
<text class="sr" x="3456" y="1282.4" font-size="20.6" text-anchor="middle" >Method</text>
<text class="sr" x="3541.7" y="1296.4" font-size="20.6" text-anchor="start" textLength="51.5" lengthAdjust="spacingAndGlyphs">GPU↓</text>
<text class="sr" x="3597.6" y="1296.4" font-size="20.6" text-anchor="start" textLength="44.5" lengthAdjust="spacingAndGlyphs">FPS↑</text>
<text class="sr" x="3755.2" y="1269.1" font-size="20.6" text-anchor="middle" font-weight="bold">female3-casual</text>
<text class="sr" x="3653.0" y="1296.4" font-size="20.6" text-anchor="start" textLength="62" lengthAdjust="spacingAndGlyphs">PSNR↑</text>
<text class="sr" x="3719.9" y="1296.4" font-size="20.6" text-anchor="start" textLength="58" lengthAdjust="spacingAndGlyphs">SSIM↑</text>
<text class="sr" x="3782.7999999999997" y="1296.4" font-size="20.6" text-anchor="start" textLength="75.5" lengthAdjust="spacingAndGlyphs">LPIPS*↓</text>
<text class="sr" x="3964.9" y="1269.1" font-size="20.6" text-anchor="middle" font-weight="bold">female4-casusal</text>
<text class="sr" x="3862.7000000000003" y="1296.4" font-size="20.6" text-anchor="start" textLength="62" lengthAdjust="spacingAndGlyphs">PSNR↑</text>
<text class="sr" x="3929.6000000000004" y="1296.4" font-size="20.6" text-anchor="start" textLength="58" lengthAdjust="spacingAndGlyphs">SSIM↑</text>
<text class="sr" x="3992.5" y="1296.4" font-size="20.6" text-anchor="start" textLength="75.5" lengthAdjust="spacingAndGlyphs">LPIPS*↓</text>
<text class="sr" x="4174.900000000001" y="1269.1" font-size="20.6" text-anchor="middle" font-weight="bold">male3-casual</text>
<text class="sr" x="4072.7000000000003" y="1296.4" font-size="20.6" text-anchor="start" textLength="62" lengthAdjust="spacingAndGlyphs">PSNR↑</text>
<text class="sr" x="4139.6" y="1296.4" font-size="20.6" text-anchor="start" textLength="58" lengthAdjust="spacingAndGlyphs">SSIM↑</text>
<text class="sr" x="4202.5" y="1296.4" font-size="20.6" text-anchor="start" textLength="75.5" lengthAdjust="spacingAndGlyphs">LPIPS*↓</text>
<text class="sr" x="4384.700000000001" y="1269.1" font-size="20.6" text-anchor="middle" font-weight="bold">male4-casual</text>
<text class="sr" x="4282.5" y="1296.4" font-size="20.6" text-anchor="start" textLength="62" lengthAdjust="spacingAndGlyphs">PSNR↑</text>
<text class="sr" x="4349.400000000001" y="1296.4" font-size="20.6" text-anchor="start" textLength="58" lengthAdjust="spacingAndGlyphs">SSIM↑</text>
<text class="sr" x="4412.3" y="1296.4" font-size="20.6" text-anchor="start" textLength="75.5" lengthAdjust="spacingAndGlyphs">LPIPS*↓</text>
<text class="sr" x="3531" y="1329.7" font-size="20.6" text-anchor="end" fill="#8c8c8c" font-weight="normal">Anim-NeRF [<tspan fill="#3d85c6">64</tspan>]</text>
<text class="sr" x="3567.8" y="1329.7" font-size="20.6" text-anchor="middle" fill="#8c8c8c">13h</text>
<text class="sr" x="3619.2" y="1329.7" font-size="20.6" text-anchor="middle" fill="#8c8c8c" font-weight="normal">0.1</text>
<text class="sr" x="3683.7999999999997" y="1329.7" font-size="20.6" text-anchor="middle" fill="#8c8c8c" font-weight="normal">23.87</text>
<text class="sr" x="3748.5" y="1329.7" font-size="20.6" text-anchor="middle" fill="#8c8c8c" font-weight="normal">0.950</text>
<text class="sr" x="3820.5" y="1329.7" font-size="20.6" text-anchor="middle" fill="#8c8c8c" font-weight="normal">34.6</text>
<text class="sr" x="3893.5" y="1329.7" font-size="20.6" text-anchor="middle" fill="#8c8c8c" font-weight="normal">24.37</text>
<text class="sr" x="3958.2000000000003" y="1329.7" font-size="20.6" text-anchor="middle" fill="#8c8c8c" font-weight="normal">0.945</text>
<text class="sr" x="4030.2000000000003" y="1329.7" font-size="20.6" text-anchor="middle" fill="#8c8c8c" font-weight="normal">38.2</text>
<text class="sr" x="4103.5" y="1329.7" font-size="20.6" text-anchor="middle" fill="#8c8c8c" font-weight="normal">24.94</text>
<text class="sr" x="4168.2" y="1329.7" font-size="20.6" text-anchor="middle" fill="#8c8c8c" font-weight="normal">0.943</text>
<text class="sr" x="4240.2" y="1329.7" font-size="20.6" text-anchor="middle" fill="#8c8c8c" font-weight="normal">32.6</text>
<text class="sr" x="4313.3" y="1329.7" font-size="20.6" text-anchor="middle" fill="#8c8c8c" font-weight="normal">24.71</text>
<text class="sr" x="4378.0" y="1329.7" font-size="20.6" text-anchor="middle" fill="#8c8c8c" font-weight="normal">0.947</text>
<text class="sr" x="4450.0" y="1329.7" font-size="20.6" text-anchor="middle" fill="#8c8c8c" font-weight="normal">42.3</text>
<text class="sr" x="3531" y="1356.9" font-size="20.6" text-anchor="end" fill="#8c8c8c" font-weight="normal">InstantAvatar [<tspan fill="#3d85c6">48</tspan>]</text>
<text class="sr" x="3567.8" y="1356.9" font-size="20.6" text-anchor="middle" fill="#8c8c8c">5m</text>
<text class="sr" x="3619.2" y="1356.9" font-size="20.6" text-anchor="middle" fill="#8c8c8c" font-weight="normal">15</text>
<text class="sr" x="3683.7999999999997" y="1356.9" font-size="20.6" text-anchor="middle" fill="#8c8c8c" font-weight="normal">27.90</text>
<text class="sr" x="3748.5" y="1356.9" font-size="20.6" text-anchor="middle" fill="#8c8c8c" font-weight="normal">0.972</text>
<text class="sr" x="3820.5" y="1356.9" font-size="20.6" text-anchor="middle" fill="#8c8c8c" font-weight="normal">24.9</text>
<text class="sr" x="3893.5" y="1356.9" font-size="20.6" text-anchor="middle" fill="#8c8c8c" font-weight="normal">28.92</text>
<text class="sr" x="3958.2000000000003" y="1356.9" font-size="20.6" text-anchor="middle" fill="#8c8c8c" font-weight="normal">0.969</text>
<text class="sr" x="4030.2000000000003" y="1356.9" font-size="20.6" text-anchor="middle" fill="#8c8c8c" font-weight="normal">18.0</text>
<text class="sr" x="4103.5" y="1356.9" font-size="20.6" text-anchor="middle" fill="#8c8c8c" font-weight="normal">29.65</text>
<text class="sr" x="4168.2" y="1356.9" font-size="20.6" text-anchor="middle" fill="#8c8c8c" font-weight="normal">0.973</text>
<text class="sr" x="4240.2" y="1356.9" font-size="20.6" text-anchor="middle" fill="#8c8c8c" font-weight="normal">19.2</text>
<text class="sr" x="4313.3" y="1356.9" font-size="20.6" text-anchor="middle" fill="#8c8c8c" font-weight="normal">27.97</text>
<text class="sr" x="4378.0" y="1356.9" font-size="20.6" text-anchor="middle" fill="#8c8c8c" font-weight="normal">0.965</text>
<text class="sr" x="4450.0" y="1356.9" font-size="20.6" text-anchor="middle" fill="#8c8c8c" font-weight="normal">34.6</text>
<text class="sr" x="3531" y="1390.2" font-size="20.6" text-anchor="end" fill="#000" font-weight="normal">HumanNeRF [<tspan fill="#3d85c6">15</tspan>]</text>
<text class="sr" x="3567.8" y="1390.2" font-size="20.6" text-anchor="middle" fill="#000">5h</text>
<text class="sr" x="3619.2" y="1390.2" font-size="20.6" text-anchor="middle" fill="#000" font-weight="normal">0.1</text>
<text class="sr" x="3683.7999999999997" y="1390.2" font-size="20.6" text-anchor="middle" fill="#000" font-weight="normal">23.82</text>
<text class="sr" x="3748.5" y="1390.2" font-size="20.6" text-anchor="middle" fill="#000" font-weight="normal">0.948</text>
<text class="sr" x="3820.5" y="1390.2" font-size="20.6" text-anchor="middle" fill="#000" font-weight="normal">37.6</text>
<text class="sr" x="3893.5" y="1390.2" font-size="20.6" text-anchor="middle" fill="#000" font-weight="normal">26.76</text>
<text class="sr" x="3958.2000000000003" y="1390.2" font-size="20.6" text-anchor="middle" fill="#000" font-weight="normal">0.960</text>
<text class="sr" x="4030.2000000000003" y="1390.2" font-size="20.6" text-anchor="middle" fill="#000" font-weight="normal">23.7</text>
<text class="sr" x="4103.5" y="1390.2" font-size="20.6" text-anchor="middle" fill="#000" font-weight="normal">26.13</text>
<text class="sr" x="4168.2" y="1390.2" font-size="20.6" text-anchor="middle" fill="#000" font-weight="normal">0.955</text>
<text class="sr" x="4240.2" y="1390.2" font-size="20.6" text-anchor="middle" fill="#000" font-weight="normal">27.7</text>
<text class="sr" x="4313.3" y="1390.2" font-size="20.6" text-anchor="middle" fill="#000" font-weight="normal">24.46</text>
<text class="sr" x="4378.0" y="1390.2" font-size="20.6" text-anchor="middle" fill="#000" font-weight="normal">0.936</text>
<text class="sr" x="4450.0" y="1390.2" font-size="20.6" text-anchor="middle" fill="#000" font-weight="normal">50.2</text>
<text class="sr" x="3531" y="1417.5" font-size="20.6" text-anchor="end" fill="#000" font-weight="bold">TAGA (Ours)</text>
<text class="sr" x="3567.8" y="1417.5" font-size="20.6" text-anchor="middle" fill="#000">30m</text>
<text class="sr" x="3619.2" y="1417.5" font-size="20.6" text-anchor="middle" fill="#000" font-weight="bold">140</text>
<text class="sr" x="3683.7999999999997" y="1417.5" font-size="20.6" text-anchor="middle" fill="#000" font-weight="bold">25.81</text>
<text class="sr" x="3748.5" y="1417.5" font-size="20.6" text-anchor="middle" fill="#000" font-weight="bold">0.962</text>
<text class="sr" x="3820.5" y="1417.5" font-size="20.6" text-anchor="middle" fill="#000" font-weight="bold">26.3</text>
<text class="sr" x="3893.5" y="1417.5" font-size="20.6" text-anchor="middle" fill="#000" font-weight="bold">28.63</text>
<text class="sr" x="3958.2000000000003" y="1417.5" font-size="20.6" text-anchor="middle" fill="#000" font-weight="bold">0.971</text>
<text class="sr" x="4030.2000000000003" y="1417.5" font-size="20.6" text-anchor="middle" fill="#000" font-weight="bold">19.3</text>
<text class="sr" x="4103.5" y="1417.5" font-size="20.6" text-anchor="middle" fill="#000" font-weight="bold">29.69</text>
<text class="sr" x="4168.2" y="1417.5" font-size="20.6" text-anchor="middle" fill="#000" font-weight="bold">0.974</text>
<text class="sr" x="4240.2" y="1417.5" font-size="20.6" text-anchor="middle" fill="#000" font-weight="bold">18.2</text>
<text class="sr" x="4313.3" y="1417.5" font-size="20.6" text-anchor="middle" fill="#000" font-weight="bold">27.17</text>
<text class="sr" x="4378.0" y="1417.5" font-size="20.6" text-anchor="middle" fill="#000" font-weight="bold">0.965</text>
<text class="sr" x="4450.0" y="1417.5" font-size="20.6" text-anchor="middle" fill="#000" font-weight="bold">36.8</text>
<g transform="translate(3300,1480) scale(0.50777)">
<defs><pattern id="eb1" width="6.90" height="12.00" patternUnits="userSpaceOnUse" patternTransform="rotate(17)"><circle cx="0.00" cy="0.00" r="4.20" fill="url(#ballg)"/><circle cx="6.90" cy="0.00" r="4.20" fill="url(#ballg)"/><circle cx="3.45" cy="6.00" r="4.20" fill="url(#ballg)"/><circle cx="0.00" cy="12.00" r="4.20" fill="url(#ballg)"/><circle cx="6.90" cy="12.00" r="4.20" fill="url(#ballg)"/></pattern>
</defs>
<g transform="translate(0,0)"><g filter="url(#b2)" stroke-linecap="round" stroke-linejoin="round"><polygon points="300,112 300,150 230,146 175,141 165,132 172,124 230,120" fill="#b58d76" /><polygon points="455,112 455,150 520,146 580,139 592,130 582,122 520,120" fill="#b58d76" /><line x1="205" y1="125" x2="205" y2="145" stroke-width="6" stroke="#8aa090"/><polygon points="322,232 388,258 318,345 288,430 246,422 268,330" fill="#6f7f92" /><polygon points="368,258 432,232 478,330 504,418 464,430 438,345" fill="#6f7f92" /><polyline points="255,428 230,436" stroke-width="16" fill="none" stroke="#2b2b30"/><polyline points="492,425 515,434" stroke-width="16" fill="none" stroke="#2b2b30"/><polygon points="335,105 415,105 470,118 462,150 430,150 428,235 380,258 330,238 325,150 292,150 288,118" fill="#c42f37" /><rect x="362" y="85" width="28" height="26" fill="#b58d76" /><ellipse cx="375" cy="70" rx="24" ry="34" fill="#b58d76" /><path d="M350,70 C348,38 365,32 376,33 C392,33 402,44 399,70 C393,52 388,50 375,50 C364,50 356,52 350,70Z" fill="#2a2421"/><path d="M353,82 C358,100 368,104 376,104 C386,104 394,99 398,82 C392,94 384,96 376,96 C366,96 358,94 353,82Z" fill="#4a382f" opacity=".8"/><ellipse cx="366.18" cy="68.4" rx="3.5700000000000003" ry="1.65" fill="#2a1d18" /><ellipse cx="383.82" cy="68.4" rx="3.5700000000000003" ry="1.65" fill="#2a1d18" /><path d="M360.3,64.5 Q366.18,61.800000000000004 372.06,64.80000000000001 M377.94,64.80000000000001 Q383.82,61.800000000000004 389.7,64.5" stroke="#2a1d18" stroke-width="1.8" fill="none"/><path d="M373.95,71.4 L372.06,80.4 L377.94,80.4" stroke="#8a6350" stroke-width="1.5" fill="none" opacity=".8"/><ellipse cx="375" cy="87.0" rx="6.3" ry="1.2" fill="#7a4a42" /><ellipse cx="363.45" cy="76.5" rx="5.25" ry="9.0" fill="#9a7460" opacity=".35"/><ellipse cx="386.55" cy="76.5" rx="5.25" ry="9.0" fill="#9a7460" opacity=".35"/></g><text class="sr" x="378" y="142" font-size="24" font-weight="bold" font-style="italic" text-anchor="middle" fill="#2d2545">AUTO</text><path d="M370,155 L388,155 L388,170 L379,177 L370,170Z" fill="#f2e9ea"/></g><g transform="translate(430,0)"><g filter="url(#b2)" stroke-linecap="round" stroke-linejoin="round"><polygon points="300,112 300,150 230,146 175,141 165,132 172,124 230,120" fill="#b58d76" /><polygon points="455,112 455,150 520,146 580,139 592,130 582,122 520,120" fill="#b58d76" /><line x1="205" y1="125" x2="205" y2="145" stroke-width="6" stroke="#8aa090"/><polygon points="322,232 388,258 318,345 288,430 246,422 268,330" fill="#6f7f92" /><polygon points="368,258 432,232 478,330 504,418 464,430 438,345" fill="#6f7f92" /><polyline points="255,428 230,436" stroke-width="16" fill="none" stroke="#2b2b30"/><polyline points="492,425 515,434" stroke-width="16" fill="none" stroke="#2b2b30"/><polygon points="335,105 415,105 470,118 462,150 430,150 428,235 380,258 330,238 325,150 292,150 288,118" fill="#c42f37" /><rect x="362" y="85" width="28" height="26" fill="#b58d76" /><ellipse cx="375" cy="70" rx="24" ry="34" fill="#b58d76" /><path d="M350,70 C348,38 365,32 376,33 C392,33 402,44 399,70 C393,52 388,50 375,50 C364,50 356,52 350,70Z" fill="#2a2421"/><path d="M353,82 C358,100 368,104 376,104 C386,104 394,99 398,82 C392,94 384,96 376,96 C366,96 358,94 353,82Z" fill="#4a382f" opacity=".8"/><ellipse cx="366.18" cy="68.4" rx="3.5700000000000003" ry="1.65" fill="#2a1d18" /><ellipse cx="383.82" cy="68.4" rx="3.5700000000000003" ry="1.65" fill="#2a1d18" /><path d="M360.3,64.5 Q366.18,61.800000000000004 372.06,64.80000000000001 M377.94,64.80000000000001 Q383.82,61.800000000000004 389.7,64.5" stroke="#2a1d18" stroke-width="1.8" fill="none"/><path d="M373.95,71.4 L372.06,80.4 L377.94,80.4" stroke="#8a6350" stroke-width="1.5" fill="none" opacity=".8"/><ellipse cx="375" cy="87.0" rx="6.3" ry="1.2" fill="#7a4a42" /><ellipse cx="363.45" cy="76.5" rx="5.25" ry="9.0" fill="#9a7460" opacity=".35"/><ellipse cx="386.55" cy="76.5" rx="5.25" ry="9.0" fill="#9a7460" opacity=".35"/></g><text class="sr" x="378" y="142" font-size="24" font-weight="bold" font-style="italic" text-anchor="middle" fill="#2d2545">AUTO</text><path d="M370,155 L388,155 L388,170 L379,177 L370,170Z" fill="#f2e9ea"/></g><g transform="translate(860,0)"><g filter="url(#b2)" stroke-linecap="round" stroke-linejoin="round"><polygon points="300,112 300,150 230,146 175,141 165,132 172,124 230,120" fill="#b58d76" /><polygon points="455,112 455,150 520,146 580,139 592,130 582,122 520,120" fill="#b58d76" /><line x1="205" y1="125" x2="205" y2="145" stroke-width="6" stroke="#8aa090"/><polygon points="322,232 388,258 318,345 288,430 246,422 268,330" fill="#6f7f92" /><polygon points="368,258 432,232 478,330 504,418 464,430 438,345" fill="#6f7f92" /><polyline points="255,428 230,436" stroke-width="16" fill="none" stroke="#2b2b30"/><polyline points="492,425 515,434" stroke-width="16" fill="none" stroke="#2b2b30"/><polygon points="335,105 415,105 470,118 462,150 430,150 428,235 380,258 330,238 325,150 292,150 288,118" fill="#c42f37" /><rect x="362" y="85" width="28" height="26" fill="#b58d76" /><ellipse cx="375" cy="70" rx="24" ry="34" fill="#b58d76" /><path d="M350,70 C348,38 365,32 376,33 C392,33 402,44 399,70 C393,52 388,50 375,50 C364,50 356,52 350,70Z" fill="#2a2421"/><path d="M353,82 C358,100 368,104 376,104 C386,104 394,99 398,82 C392,94 384,96 376,96 C366,96 358,94 353,82Z" fill="#4a382f" opacity=".8"/><ellipse cx="366.18" cy="68.4" rx="3.5700000000000003" ry="1.65" fill="#2a1d18" /><ellipse cx="383.82" cy="68.4" rx="3.5700000000000003" ry="1.65" fill="#2a1d18" /><path d="M360.3,64.5 Q366.18,61.800000000000004 372.06,64.80000000000001 M377.94,64.80000000000001 Q383.82,61.800000000000004 389.7,64.5" stroke="#2a1d18" stroke-width="1.8" fill="none"/><path d="M373.95,71.4 L372.06,80.4 L377.94,80.4" stroke="#8a6350" stroke-width="1.5" fill="none" opacity=".8"/><ellipse cx="375" cy="87.0" rx="6.3" ry="1.2" fill="#7a4a42" /><ellipse cx="363.45" cy="76.5" rx="5.25" ry="9.0" fill="#9a7460" opacity=".35"/><ellipse cx="386.55" cy="76.5" rx="5.25" ry="9.0" fill="#9a7460" opacity=".35"/></g><text class="sr" x="378" y="142" font-size="24" font-weight="bold" font-style="italic" text-anchor="middle" fill="#2d2545">AUTO</text><path d="M370,155 L388,155 L388,170 L379,177 L370,170Z" fill="#f2e9ea"/></g><g transform="translate(1293,0)"><g filter="url(#b2)" stroke-linecap="round" stroke-linejoin="round"><polygon points="300,112 300,150 230,146 175,141 165,132 172,124 230,120" fill="#b58d76" /><polygon points="455,112 455,150 520,146 580,139 592,130 582,122 520,120" fill="#b58d76" /><line x1="205" y1="125" x2="205" y2="145" stroke-width="6" stroke="#8aa090"/><polygon points="322,232 388,258 318,345 288,430 246,422 268,330" fill="#6f7f92" /><polygon points="368,258 432,232 478,330 504,418 464,430 438,345" fill="#6f7f92" /><polyline points="255,428 230,436" stroke-width="16" fill="none" stroke="#2b2b30"/><polyline points="492,425 515,434" stroke-width="16" fill="none" stroke="#2b2b30"/><polygon points="335,105 415,105 470,118 462,150 430,150 428,235 380,258 330,238 325,150 292,150 288,118" fill="#c42f37" /><rect x="362" y="85" width="28" height="26" fill="#b58d76" /><ellipse cx="375" cy="70" rx="24" ry="34" fill="#b58d76" /><path d="M350,70 C348,38 365,32 376,33 C392,33 402,44 399,70 C393,52 388,50 375,50 C364,50 356,52 350,70Z" fill="#2a2421"/><path d="M353,82 C358,100 368,104 376,104 C386,104 394,99 398,82 C392,94 384,96 376,96 C366,96 358,94 353,82Z" fill="#4a382f" opacity=".8"/><ellipse cx="366.18" cy="68.4" rx="3.5700000000000003" ry="1.65" fill="#2a1d18" /><ellipse cx="383.82" cy="68.4" rx="3.5700000000000003" ry="1.65" fill="#2a1d18" /><path d="M360.3,64.5 Q366.18,61.800000000000004 372.06,64.80000000000001 M377.94,64.80000000000001 Q383.82,61.800000000000004 389.7,64.5" stroke="#2a1d18" stroke-width="1.8" fill="none"/><path d="M373.95,71.4 L372.06,80.4 L377.94,80.4" stroke="#8a6350" stroke-width="1.5" fill="none" opacity=".8"/><ellipse cx="375" cy="87.0" rx="6.3" ry="1.2" fill="#7a4a42" /><ellipse cx="363.45" cy="76.5" rx="5.25" ry="9.0" fill="#9a7460" opacity=".35"/><ellipse cx="386.55" cy="76.5" rx="5.25" ry="9.0" fill="#9a7460" opacity=".35"/></g><text class="sr" x="378" y="142" font-size="24" font-weight="bold" font-style="italic" text-anchor="middle" fill="#2d2545">AUTO</text><path d="M370,155 L388,155 L388,170 L379,177 L370,170Z" fill="#f2e9ea"/></g><g transform="translate(1740,0)"><g filter="url(#b2)" stroke-linecap="round" stroke-linejoin="round"><polygon points="300,112 300,150 230,146 175,141 165,132 172,124 230,120" fill="#b58d76" /><polygon points="455,112 455,150 520,146 580,139 592,130 582,122 520,120" fill="#b58d76" /><line x1="205" y1="125" x2="205" y2="145" stroke-width="6" stroke="#8aa090"/><polygon points="322,232 388,258 318,345 288,430 246,422 268,330" fill="#6f7f92" /><polygon points="368,258 432,232 478,330 504,418 464,430 438,345" fill="#6f7f92" /><polyline points="255,428 230,436" stroke-width="16" fill="none" stroke="#2b2b30"/><polyline points="492,425 515,434" stroke-width="16" fill="none" stroke="#2b2b30"/><polygon points="335,105 415,105 470,118 462,150 430,150 428,235 380,258 330,238 325,150 292,150 288,118" fill="#c42f37" /><rect x="362" y="85" width="28" height="26" fill="#b58d76" /><ellipse cx="375" cy="70" rx="24" ry="34" fill="#b58d76" /><path d="M350,70 C348,38 365,32 376,33 C392,33 402,44 399,70 C393,52 388,50 375,50 C364,50 356,52 350,70Z" fill="#2a2421"/><path d="M353,82 C358,100 368,104 376,104 C386,104 394,99 398,82 C392,94 384,96 376,96 C366,96 358,94 353,82Z" fill="#4a382f" opacity=".8"/><ellipse cx="366.18" cy="68.4" rx="3.5700000000000003" ry="1.65" fill="#2a1d18" /><ellipse cx="383.82" cy="68.4" rx="3.5700000000000003" ry="1.65" fill="#2a1d18" /><path d="M360.3,64.5 Q366.18,61.800000000000004 372.06,64.80000000000001 M377.94,64.80000000000001 Q383.82,61.800000000000004 389.7,64.5" stroke="#2a1d18" stroke-width="1.8" fill="none"/><path d="M373.95,71.4 L372.06,80.4 L377.94,80.4" stroke="#8a6350" stroke-width="1.5" fill="none" opacity=".8"/><ellipse cx="375" cy="87.0" rx="6.3" ry="1.2" fill="#7a4a42" /><ellipse cx="363.45" cy="76.5" rx="5.25" ry="9.0" fill="#9a7460" opacity=".35"/><ellipse cx="386.55" cy="76.5" rx="5.25" ry="9.0" fill="#9a7460" opacity=".35"/></g><text class="sr" x="378" y="142" font-size="24" font-weight="bold" font-style="italic" text-anchor="middle" fill="#2d2545">AUTO</text><path d="M370,155 L388,155 L388,170 L379,177 L370,170Z" fill="#f2e9ea"/></g><g filter="url(#frag)"><g filter="url(#b3)"><ellipse cx="735" cy="172" rx="40" ry="50" fill="#a5444c" /><ellipse cx="888" cy="168" rx="34" ry="34" fill="#a5444c" /><ellipse cx="808" cy="335" rx="22" ry="34" fill="#4a5a62" /></g></g><g filter="url(#rg4)"><ellipse cx="1225" cy="325" rx="10" ry="18" fill="#4a5a60" opacity=".7"/><ellipse cx="1668" cy="320" rx="14" ry="14" fill="#4a5a60" opacity=".6"/><ellipse cx="1600" cy="165" rx="18" ry="30" fill="#c23038" opacity=".8"/></g><clipPath id="da0"><rect x="122" y="295" width="141" height="140"/></clipPath><rect x="122" y="295" width="141" height="140" fill="#fff"/><g clip-path="url(#da0)" filter="url(#b3)"><polygon points="122,310 182,315 197,345 122,360" fill="#c39a86" /><polygon points="177,305 263,300 263,435 237,435 217,390 192,350" fill="#c8262e" /></g><rect x="122" y="295" width="141" height="140" fill="none" stroke="#3a9a3a" stroke-width="3.4"/><rect x="252" y="105" width="91" height="90" fill="none" stroke="#3a9a3a" stroke-width="3.2"/><clipPath id="da1"><rect x="563" y="300" width="142" height="140"/></clipPath><rect x="563" y="300" width="142" height="140" fill="#fff"/><g clip-path="url(#da1)" filter="url(#b3)"><polygon points="563,315 623,320 638,350 563,365" fill="#c39a86" /><polygon points="618,310 705,305 705,440 678,440 658,395 633,355" fill="#c8262e" /><g filter="url(#rg4)"><ellipse cx="643" cy="410" rx="35" ry="35" fill="#a94a52" opacity=".7"/></g></g><rect x="563" y="300" width="142" height="140" fill="none" stroke="#3a9a3a" stroke-width="3.4"/><rect x="681" y="113" width="91" height="92" fill="none" stroke="#3a9a3a" stroke-width="3.2"/><clipPath id="da2"><rect x="1025" y="300" width="140" height="138"/></clipPath><rect x="1025" y="300" width="140" height="138" fill="#fff"/><g clip-path="url(#da2)" filter="url(#b3)"><rect x="1025" y="300" width="140" height="138" fill="#76828f" /><polygon points="1065,438 1095,385 1125,438" fill="#fff" /><ellipse cx="1080" cy="395" rx="8" ry="14" fill="#3a4a50" /></g><rect x="1025" y="300" width="140" height="138" fill="none" stroke="#3a9a3a" stroke-width="3.4"/><rect x="1190" y="258" width="90" height="90" fill="none" stroke="#3a9a3a" stroke-width="3.2"/><clipPath id="da3"><rect x="1480" y="300" width="140" height="140"/></clipPath><rect x="1480" y="300" width="140" height="140" fill="#fff"/><g clip-path="url(#da3)" filter="url(#b3)"><polygon points="1480,315 1540,320 1555,350 1480,365" fill="#c39a86" /><polygon points="1535,310 1620,305 1620,440 1595,440 1575,395 1550,355" fill="#c8262e" /></g><rect x="1480" y="300" width="140" height="140" fill="none" stroke="#3a9a3a" stroke-width="3.4"/><rect x="1548" y="118" width="90" height="90" fill="none" stroke="#3a9a3a" stroke-width="3.2"/><clipPath id="da4"><rect x="1903" y="300" width="139" height="138"/></clipPath><rect x="1903" y="300" width="139" height="138" fill="#fff"/><g clip-path="url(#da4)" filter="url(#b3)"><polygon points="1903,315 1963,320 1978,350 1903,365" fill="#c39a86" /><polygon points="1958,310 2042,305 2042,438 2018,438 1998,395 1973,355" fill="#c8262e" /></g><rect x="1903" y="300" width="139" height="138" fill="none" stroke="#3a9a3a" stroke-width="3.4"/><rect x="2005" y="125" width="90" height="92" fill="none" stroke="#3a9a3a" stroke-width="3.2"/><text class="sr" x="127" y="83" font-size="42.5" text-anchor="start" >(a)</text>
<text class="sr" x="1893" y="83" font-size="42.5" text-anchor="start" >(b)</text>
<g transform="translate(82.4,424.5) scale(0.612)"><g transform="translate(940,0) scale(-1,1)"><mask id="dc0" maskUnits="userSpaceOnUse" x="40" y="80" width="880" height="820"><g filter="url(#rg3)" fill="#fff" stroke="#fff" stroke-linecap="round" stroke-linejoin="round"><ellipse cx="470" cy="212" rx="33" ry="51" /><rect x="454" y="250" width="34" height="50" /><polygon points="405,290 540,288 560,325 548,400 540,440 552,490 565,525 540,560 478,548 420,560 392,525 402,490 414,440 405,400 392,325" /><polyline points="405,312 300,314" stroke-width="40" fill="none"/><polyline points="300,314 200,320" stroke-width="30" fill="none"/><polyline points="200,320 140,322" stroke-width="20" fill="none"/><polyline points="540,308 650,314" stroke-width="40" fill="none"/><polyline points="650,314 750,320" stroke-width="30" fill="none"/><polyline points="750,320 805,322" stroke-width="20" fill="none"/><line x1="748" y1="330" x2="752" y2="345" stroke-width="7"/><polyline points="435,540 350,680" stroke-width="86" fill="none"/><polyline points="350,680 285,780" stroke-width="56" fill="none"/><polyline points="285,790 245,812" stroke-width="30" fill="none"/><polyline points="525,540 600,680" stroke-width="86" fill="none"/><polyline points="600,680 665,780" stroke-width="56" fill="none"/><polyline points="665,790 700,812" stroke-width="30" fill="none"/></g></mask>
<g mask="url(#dc0)"><g filter="url(#b5)" stroke-linecap="round"><rect x="80" y="120" width="800" height="740" fill="#b9b4c4" /><rect x="330" y="260" width="300" height="130" fill="#d6a3cd" /><ellipse cx="470" cy="350" rx="60" ry="40" fill="#c9a7d8" /><ellipse cx="470" cy="200" rx="70" ry="80" fill="#c4c4c6" /><ellipse cx="500" cy="330" rx="40" ry="30" fill="#9a8fa5" opacity=".5"/><rect x="330" y="382" width="300" height="62" fill="#d9564f" /><rect x="330" y="440" width="300" height="40" fill="#c98a5a" /><ellipse cx="470" cy="500" rx="110" ry="62" fill="#3a80c2" /><polyline points="405,312 345,313" stroke-width="70" fill="none" stroke="#b6b948"/><polyline points="300,315 225,319" stroke-width="55" fill="none" stroke="#3db6c6"/><polyline points="185,321 130,322" stroke-width="45" fill="none" stroke="#bab6d2"/><polyline points="540,308 605,312" stroke-width="70" fill="none" stroke="#b6b948"/><polyline points="655,315 720,318" stroke-width="55" fill="none" stroke="#93cdd2"/><polyline points="755,320 772,321" stroke-width="40" fill="none" stroke="#e2d9a0"/><polyline points="798,322 815,323" stroke-width="36" fill="none" stroke="#e98c7a"/><polyline points="425,570 390,620" stroke-width="95" fill="none" stroke="#a9bfd9"/><polyline points="362,660 292,775" stroke-width="90" fill="none" stroke="#3d9c3f"/><polyline points="270,805 235,815" stroke-width="45" fill="none" stroke="#e2958a"/><polyline points="540,565 575,620" stroke-width="95" fill="none" stroke="#e8832b"/><polyline points="595,665 658,768" stroke-width="90" fill="none" stroke="#a3d088"/><polyline points="675,800 710,815" stroke-width="45" fill="none" stroke="#9568bd"/></g><rect x="80" y="120" width="800" height="740" fill="url(#eb1)"/></g>
</g></g><g transform="translate(522.4,424.5) scale(0.612)"><g transform="translate(940,0) scale(-1,1)"><mask id="dc1" maskUnits="userSpaceOnUse" x="40" y="80" width="880" height="820"><g filter="url(#rg3)" fill="#fff" stroke="#fff" stroke-linecap="round" stroke-linejoin="round"><ellipse cx="470" cy="212" rx="33" ry="51" /><rect x="454" y="250" width="34" height="50" /><polygon points="405,290 540,288 560,325 548,400 540,440 552,490 565,525 540,560 478,548 420,560 392,525 402,490 414,440 405,400 392,325" /><polyline points="405,312 300,314" stroke-width="40" fill="none"/><polyline points="300,314 200,320" stroke-width="30" fill="none"/><polyline points="200,320 140,322" stroke-width="20" fill="none"/><polyline points="540,308 650,314" stroke-width="40" fill="none"/><polyline points="650,314 750,320" stroke-width="30" fill="none"/><polyline points="750,320 805,322" stroke-width="20" fill="none"/><line x1="748" y1="330" x2="752" y2="345" stroke-width="7"/><polyline points="435,540 350,680" stroke-width="86" fill="none"/><polyline points="350,680 285,780" stroke-width="56" fill="none"/><polyline points="285,790 245,812" stroke-width="30" fill="none"/><polyline points="525,540 600,680" stroke-width="86" fill="none"/><polyline points="600,680 665,780" stroke-width="56" fill="none"/><polyline points="665,790 700,812" stroke-width="30" fill="none"/><polyline points="540,330 600,400 620,450" stroke-width="40" fill="none"/><polyline points="400,330 350,360" stroke-width="30" fill="none"/><ellipse cx="470" cy="600" rx="20" ry="40" /></g></mask>
<g mask="url(#dc1)"><g filter="url(#b5)" stroke-linecap="round"><rect x="80" y="120" width="800" height="740" fill="#b9b4c4" /><rect x="330" y="260" width="300" height="130" fill="#d6a3cd" /><ellipse cx="470" cy="350" rx="60" ry="40" fill="#c9a7d8" /><ellipse cx="470" cy="200" rx="70" ry="80" fill="#c4c4c6" /><ellipse cx="500" cy="330" rx="40" ry="30" fill="#9a8fa5" opacity=".5"/><rect x="330" y="382" width="300" height="62" fill="#d9564f" /><rect x="330" y="440" width="300" height="40" fill="#c98a5a" /><ellipse cx="470" cy="500" rx="110" ry="62" fill="#3a80c2" /><polyline points="405,312 345,313" stroke-width="70" fill="none" stroke="#b6b948"/><polyline points="300,315 225,319" stroke-width="55" fill="none" stroke="#3db6c6"/><polyline points="185,321 130,322" stroke-width="45" fill="none" stroke="#bab6d2"/><polyline points="540,308 605,312" stroke-width="70" fill="none" stroke="#b6b948"/><polyline points="655,315 720,318" stroke-width="55" fill="none" stroke="#93cdd2"/><polyline points="755,320 772,321" stroke-width="40" fill="none" stroke="#e2d9a0"/><polyline points="798,322 815,323" stroke-width="36" fill="none" stroke="#e98c7a"/><polyline points="425,570 390,620" stroke-width="95" fill="none" stroke="#a9bfd9"/><polyline points="362,660 292,775" stroke-width="90" fill="none" stroke="#3d9c3f"/><polyline points="270,805 235,815" stroke-width="45" fill="none" stroke="#e2958a"/><polyline points="540,565 575,620" stroke-width="95" fill="none" stroke="#e8832b"/><polyline points="595,665 658,768" stroke-width="90" fill="none" stroke="#a3d088"/><polyline points="675,800 710,815" stroke-width="45" fill="none" stroke="#9568bd"/><polyline points="560,340 610,420" stroke-width="60" fill="none" stroke="#d0cc88"/><ellipse cx="470" cy="600" rx="25" ry="45" fill="#e8832b" /></g><rect x="80" y="120" width="800" height="740" fill="url(#eb1)"/></g>
</g></g><g transform="translate(952.4,424.5) scale(0.612)"><g transform="translate(940,0) scale(-1,1)"><mask id="dc2" maskUnits="userSpaceOnUse" x="40" y="80" width="880" height="820"><g filter="url(#rg3)" fill="#fff" stroke="#fff" stroke-linecap="round" stroke-linejoin="round"><ellipse cx="470" cy="212" rx="33" ry="51" /><rect x="454" y="250" width="34" height="50" /><polygon points="405,290 540,288 560,325 548,400 540,440 552,490 565,525 540,560 478,548 420,560 392,525 402,490 414,440 405,400 392,325" /><polyline points="405,312 300,314" stroke-width="40" fill="none"/><polyline points="300,314 200,320" stroke-width="30" fill="none"/><polyline points="200,320 140,322" stroke-width="20" fill="none"/><polyline points="540,308 650,314" stroke-width="40" fill="none"/><polyline points="650,314 750,320" stroke-width="30" fill="none"/><polyline points="750,320 805,322" stroke-width="20" fill="none"/><line x1="748" y1="330" x2="752" y2="345" stroke-width="7"/><polyline points="435,540 350,680" stroke-width="86" fill="none"/><polyline points="350,680 285,780" stroke-width="56" fill="none"/><polyline points="285,790 245,812" stroke-width="30" fill="none"/><polyline points="525,540 600,680" stroke-width="86" fill="none"/><polyline points="600,680 665,780" stroke-width="56" fill="none"/><polyline points="665,790 700,812" stroke-width="30" fill="none"/></g></mask>
<g mask="url(#dc2)"><g filter="url(#b5)" stroke-linecap="round"><rect x="80" y="120" width="800" height="740" fill="#b9b4c4" /><rect x="330" y="260" width="300" height="130" fill="#d6a3cd" /><ellipse cx="470" cy="350" rx="60" ry="40" fill="#c9a7d8" /><ellipse cx="470" cy="200" rx="70" ry="80" fill="#c4c4c6" /><ellipse cx="500" cy="330" rx="40" ry="30" fill="#9a8fa5" opacity=".5"/><rect x="330" y="382" width="300" height="62" fill="#d9564f" /><rect x="330" y="440" width="300" height="40" fill="#c98a5a" /><ellipse cx="470" cy="500" rx="110" ry="62" fill="#3a80c2" /><polyline points="405,312 345,313" stroke-width="70" fill="none" stroke="#b6b948"/><polyline points="300,315 225,319" stroke-width="55" fill="none" stroke="#3db6c6"/><polyline points="185,321 130,322" stroke-width="45" fill="none" stroke="#bab6d2"/><polyline points="540,308 605,312" stroke-width="70" fill="none" stroke="#b6b948"/><polyline points="655,315 720,318" stroke-width="55" fill="none" stroke="#93cdd2"/><polyline points="755,320 772,321" stroke-width="40" fill="none" stroke="#e2d9a0"/><polyline points="798,322 815,323" stroke-width="36" fill="none" stroke="#e98c7a"/><polyline points="425,570 390,620" stroke-width="95" fill="none" stroke="#a9bfd9"/><polyline points="362,660 292,775" stroke-width="90" fill="none" stroke="#3d9c3f"/><polyline points="270,805 235,815" stroke-width="45" fill="none" stroke="#e2958a"/><polyline points="540,565 575,620" stroke-width="95" fill="none" stroke="#e8832b"/><polyline points="595,665 658,768" stroke-width="90" fill="none" stroke="#a3d088"/><polyline points="675,800 710,815" stroke-width="45" fill="none" stroke="#9568bd"/></g><rect x="80" y="120" width="800" height="740" fill="url(#eb1)"/></g>
</g></g><g transform="translate(1400.4,424.5) scale(0.612)"><g transform="translate(940,0) scale(-1,1)"><mask id="dc3" maskUnits="userSpaceOnUse" x="40" y="80" width="880" height="820"><g filter="url(#rg3)" fill="#fff" stroke="#fff" stroke-linecap="round" stroke-linejoin="round"><ellipse cx="470" cy="212" rx="33" ry="51" /><rect x="454" y="250" width="34" height="50" /><polygon points="405,290 540,288 560,325 548,400 540,440 552,490 565,525 540,560 478,548 420,560 392,525 402,490 414,440 405,400 392,325" /><polyline points="405,312 300,314" stroke-width="40" fill="none"/><polyline points="300,314 200,320" stroke-width="30" fill="none"/><polyline points="200,320 140,322" stroke-width="20" fill="none"/><polyline points="540,308 650,314" stroke-width="40" fill="none"/><polyline points="650,314 750,320" stroke-width="30" fill="none"/><polyline points="750,320 805,322" stroke-width="20" fill="none"/><line x1="748" y1="330" x2="752" y2="345" stroke-width="7"/><polyline points="435,540 350,680" stroke-width="86" fill="none"/><polyline points="350,680 285,780" stroke-width="56" fill="none"/><polyline points="285,790 245,812" stroke-width="30" fill="none"/><polyline points="525,540 600,680" stroke-width="86" fill="none"/><polyline points="600,680 665,780" stroke-width="56" fill="none"/><polyline points="665,790 700,812" stroke-width="30" fill="none"/></g></mask>
<g mask="url(#dc3)"><g filter="url(#b5)" stroke-linecap="round"><rect x="80" y="120" width="800" height="740" fill="#b9b4c4" /><rect x="330" y="260" width="300" height="130" fill="#d6a3cd" /><ellipse cx="470" cy="350" rx="60" ry="40" fill="#c9a7d8" /><ellipse cx="470" cy="200" rx="70" ry="80" fill="#c4c4c6" /><ellipse cx="500" cy="330" rx="40" ry="30" fill="#9a8fa5" opacity=".5"/><rect x="330" y="382" width="300" height="62" fill="#d9564f" /><rect x="330" y="440" width="300" height="40" fill="#c98a5a" /><ellipse cx="470" cy="500" rx="110" ry="62" fill="#3a80c2" /><polyline points="405,312 345,313" stroke-width="70" fill="none" stroke="#b6b948"/><polyline points="300,315 225,319" stroke-width="55" fill="none" stroke="#3db6c6"/><polyline points="185,321 130,322" stroke-width="45" fill="none" stroke="#bab6d2"/><polyline points="540,308 605,312" stroke-width="70" fill="none" stroke="#b6b948"/><polyline points="655,315 720,318" stroke-width="55" fill="none" stroke="#93cdd2"/><polyline points="755,320 772,321" stroke-width="40" fill="none" stroke="#e2d9a0"/><polyline points="798,322 815,323" stroke-width="36" fill="none" stroke="#e98c7a"/><polyline points="425,570 390,620" stroke-width="95" fill="none" stroke="#a9bfd9"/><polyline points="362,660 292,775" stroke-width="90" fill="none" stroke="#3d9c3f"/><polyline points="270,805 235,815" stroke-width="45" fill="none" stroke="#e2958a"/><polyline points="540,565 575,620" stroke-width="95" fill="none" stroke="#e8832b"/><polyline points="595,665 658,768" stroke-width="90" fill="none" stroke="#a3d088"/><polyline points="675,800 710,815" stroke-width="45" fill="none" stroke="#9568bd"/><ellipse cx="470" cy="285" rx="40" ry="22" fill="#222" /><ellipse cx="385" cy="590" rx="28" ry="22" fill="#222" /><ellipse cx="560" cy="585" rx="28" ry="22" fill="#222" /><ellipse cx="255" cy="318" rx="8" ry="6" fill="#222" /></g><rect x="80" y="120" width="800" height="740" fill="url(#eb1)"/></g>
</g></g><g transform="translate(1840.4,424.5) scale(0.612)"><g transform="translate(940,0) scale(-1,1)"><mask id="dc4" maskUnits="userSpaceOnUse" x="40" y="80" width="880" height="820"><g filter="url(#rg3)" fill="#fff" stroke="#fff" stroke-linecap="round" stroke-linejoin="round"><ellipse cx="470" cy="212" rx="33" ry="51" /><rect x="454" y="250" width="34" height="50" /><polygon points="405,290 540,288 560,325 548,400 540,440 552,490 565,525 540,560 478,548 420,560 392,525 402,490 414,440 405,400 392,325" /><polyline points="405,312 300,314" stroke-width="40" fill="none"/><polyline points="300,314 200,320" stroke-width="30" fill="none"/><polyline points="200,320 140,322" stroke-width="20" fill="none"/><polyline points="540,308 650,314" stroke-width="40" fill="none"/><polyline points="650,314 750,320" stroke-width="30" fill="none"/><polyline points="750,320 805,322" stroke-width="20" fill="none"/><line x1="748" y1="330" x2="752" y2="345" stroke-width="7"/><polyline points="435,540 350,680" stroke-width="86" fill="none"/><polyline points="350,680 285,780" stroke-width="56" fill="none"/><polyline points="285,790 245,812" stroke-width="30" fill="none"/><polyline points="525,540 600,680" stroke-width="86" fill="none"/><polyline points="600,680 665,780" stroke-width="56" fill="none"/><polyline points="665,790 700,812" stroke-width="30" fill="none"/></g></mask>
<g mask="url(#dc4)"><g filter="url(#b5)" stroke-linecap="round"><rect x="80" y="120" width="800" height="740" fill="#b9b4c4" /><rect x="330" y="260" width="300" height="130" fill="#d6a3cd" /><ellipse cx="470" cy="350" rx="60" ry="40" fill="#c9a7d8" /><ellipse cx="470" cy="200" rx="70" ry="80" fill="#c4c4c6" /><ellipse cx="500" cy="330" rx="40" ry="30" fill="#9a8fa5" opacity=".5"/><rect x="330" y="382" width="300" height="62" fill="#d9564f" /><rect x="330" y="440" width="300" height="40" fill="#c98a5a" /><ellipse cx="470" cy="500" rx="110" ry="62" fill="#3a80c2" /><polyline points="405,312 345,313" stroke-width="70" fill="none" stroke="#b6b948"/><polyline points="300,315 225,319" stroke-width="55" fill="none" stroke="#3db6c6"/><polyline points="185,321 130,322" stroke-width="45" fill="none" stroke="#bab6d2"/><polyline points="540,308 605,312" stroke-width="70" fill="none" stroke="#b6b948"/><polyline points="655,315 720,318" stroke-width="55" fill="none" stroke="#93cdd2"/><polyline points="755,320 772,321" stroke-width="40" fill="none" stroke="#e2d9a0"/><polyline points="798,322 815,323" stroke-width="36" fill="none" stroke="#e98c7a"/><polyline points="425,570 390,620" stroke-width="95" fill="none" stroke="#a9bfd9"/><polyline points="362,660 292,775" stroke-width="90" fill="none" stroke="#3d9c3f"/><polyline points="270,805 235,815" stroke-width="45" fill="none" stroke="#e2958a"/><polyline points="540,565 575,620" stroke-width="95" fill="none" stroke="#e8832b"/><polyline points="595,665 658,768" stroke-width="90" fill="none" stroke="#a3d088"/><polyline points="675,800 710,815" stroke-width="45" fill="none" stroke="#9568bd"/><ellipse cx="470" cy="285" rx="40" ry="22" fill="#222" /></g><rect x="80" y="120" width="800" height="740" fill="url(#eb1)"/></g>
</g></g><rect x="132" y="778" width="140" height="138" fill="#fff"/><clipPath id="dcc0"><rect x="132" y="778" width="140" height="138"/></clipPath><g clip-path="url(#dcc0)"><mask id="dci0" maskUnits="userSpaceOnUse" x="82" y="728" width="240" height="240"><g filter="url(#rg3)" fill="#fff" stroke="#fff" stroke-linecap="round" stroke-linejoin="round"><polygon points="132,778 272,778 272,916 227,916 222,848 192,818 132,803" /></g></mask>
<g mask="url(#dci0)"><g filter="url(#b8)" stroke-linecap="round"><rect x="132" y="778" width="140" height="140" fill="#cdb6a8" /><rect x="132" y="778" width="60" height="40" fill="#a8cfd4" /><polygon points="192,778 272,778 272,818 212,818" fill="#8a8078" /><polygon points="217,833 272,828 272,916 217,916" fill="#d9564f" /></g><rect x="122" y="768" width="160" height="160" fill="url(#eb1)"/></g>
</g><rect x="132" y="778" width="140" height="138" fill="none" stroke="#c0504d" stroke-width="3.2"/><rect x="257" y="614" width="90" height="89" fill="none" stroke="#c0504d" stroke-width="3.2"/><rect x="573" y="778" width="140" height="138" fill="#fff"/><clipPath id="dcc1"><rect x="573" y="778" width="140" height="138"/></clipPath><g clip-path="url(#dcc1)"><mask id="dci1" maskUnits="userSpaceOnUse" x="523" y="728" width="240" height="240"><g filter="url(#rg3)" fill="#fff" stroke="#fff" stroke-linecap="round" stroke-linejoin="round"><polygon points="573,778 713,778 713,916 668,916 663,848 633,818 573,803" /><polyline points="603,888 663,838" stroke-width="50" fill="none"/></g></mask>
<g mask="url(#dci1)"><g filter="url(#b8)" stroke-linecap="round"><rect x="573" y="778" width="140" height="140" fill="#cdb6a8" /><rect x="573" y="778" width="60" height="40" fill="#a8cfd4" /><polygon points="633,778 713,778 713,818 653,818" fill="#8a8078" /><polygon points="658,833 713,828 713,916 658,916" fill="#d9564f" /><polyline points="603,888 663,838" stroke-width="60" fill="none" stroke="#d0cc88"/></g><rect x="563" y="768" width="160" height="160" fill="url(#eb1)"/></g>
</g><rect x="573" y="778" width="140" height="138" fill="none" stroke="#c0504d" stroke-width="3.2"/><rect x="693" y="618" width="90" height="90" fill="none" stroke="#c0504d" stroke-width="3.2"/><rect x="1025" y="778" width="140" height="138" fill="#fff"/><clipPath id="dcc2"><rect x="1025" y="778" width="140" height="138"/></clipPath><g clip-path="url(#dcc2)"><mask id="dci2" maskUnits="userSpaceOnUse" x="975" y="728" width="240" height="240"><g filter="url(#rg3)" fill="#fff" stroke="#fff" stroke-linecap="round" stroke-linejoin="round"><polygon points="1025,778 1165,778 1165,916 1120,916 1115,848 1085,818 1025,803" /></g></mask>
<g mask="url(#dci2)"><g filter="url(#b8)" stroke-linecap="round"><rect x="1025" y="778" width="140" height="140" fill="#cdb6a8" /><rect x="1025" y="778" width="60" height="40" fill="#a8cfd4" /><polygon points="1085,778 1165,778 1165,818 1105,818" fill="#8a8078" /><polygon points="1110,833 1165,828 1165,916 1110,916" fill="#d9564f" /></g><rect x="1015" y="768" width="160" height="160" fill="url(#eb1)"/></g>
</g><rect x="1025" y="778" width="140" height="138" fill="none" stroke="#c0504d" stroke-width="3.2"/><rect x="1147" y="618" width="90" height="90" fill="none" stroke="#c0504d" stroke-width="3.2"/><rect x="1458" y="783" width="139" height="139" fill="#fff"/><clipPath id="dcc3"><rect x="1458" y="783" width="139" height="139"/></clipPath><g clip-path="url(#dcc3)"><mask id="dci3" maskUnits="userSpaceOnUse" x="1408" y="733" width="239" height="239"><g filter="url(#rg3)" fill="#fff" stroke="#fff" stroke-linecap="round" stroke-linejoin="round"><polygon points="1458,783 1493,783 1553,853 1597,922 1553,922 1498,863 1458,813" /></g></mask>
<g mask="url(#dci3)"><g filter="url(#b8)" stroke-linecap="round"><rect x="1458" y="783" width="139" height="139" fill="#3d9c3f" /><polygon points="1458,783 1528,783 1518,833 1458,823" fill="#a9bfd9" /><ellipse cx="1523" cy="838" rx="32" ry="26" fill="#2a2a2a" /></g><rect x="1448" y="773" width="159" height="159" fill="url(#eb1)"/></g>
</g><rect x="1458" y="783" width="139" height="139" fill="none" stroke="#c0504d" stroke-width="3.2"/><rect x="1690" y="778" width="92" height="90" fill="none" stroke="#c0504d" stroke-width="3.2"/><rect x="1903" y="783" width="140" height="139" fill="#fff"/><clipPath id="dcc4"><rect x="1903" y="783" width="140" height="139"/></clipPath><g clip-path="url(#dcc4)"><mask id="dci4" maskUnits="userSpaceOnUse" x="1853" y="733" width="240" height="240"><g filter="url(#rg3)" fill="#fff" stroke="#fff" stroke-linecap="round" stroke-linejoin="round"><polygon points="1903,783 1938,783 1998,853 2043,922 1998,922 1943,863 1903,813" /></g></mask>
<g mask="url(#dci4)"><g filter="url(#b8)" stroke-linecap="round"><rect x="1903" y="783" width="140" height="140" fill="#3d9c3f" /><polygon points="1903,783 1973,783 1963,833 1903,823" fill="#a9bfd9" /></g><rect x="1893" y="773" width="160" height="160" fill="url(#eb1)"/></g>
</g><rect x="1903" y="783" width="140" height="139" fill="none" stroke="#c0504d" stroke-width="3.2"/><rect x="2135" y="778" width="91" height="90" fill="none" stroke="#c0504d" stroke-width="3.2"/><text class="sr" x="118" y="568" font-size="42.5" text-anchor="start" >(c)</text>
<text class="sr" x="1460" y="568" font-size="42.5" text-anchor="start" >(d)</text>
</g>
<text class="sr" x="3474.2" y="1731.3" font-size="16.2" text-anchor="middle" >Full Model</text>
<text class="sr" x="3700.1" y="1731.3" font-size="16.2" text-anchor="middle" ><tspan font-style="italic">w/o</tspan> <tspan font-style="italic" font-size="17">L</tspan><tspan font-style="italic" font-size="11" dy="3" letter-spacing=".8">geo</tspan><tspan dy="-3"> </tspan>&amp; <tspan font-style="italic" font-size="17">L</tspan><tspan font-style="italic" font-size="11" dy="3" letter-spacing=".8">skin</tspan><tspan dy="-3"> </tspan></text>
<text class="sr" x="3933.7" y="1731.3" font-size="16.2" text-anchor="middle" ><tspan font-style="italic">w/o</tspan> soft constraints</text>
<text class="sr" x="4156.6" y="1731.3" font-size="16.2" text-anchor="middle" ><tspan font-style="italic">w/o</tspan> <tspan font-style="italic" font-size="17">L</tspan><tspan font-style="italic" font-size="11" dy="3" letter-spacing=".8">skin</tspan><tspan dy="-3"> </tspan></text>
<text class="sr" x="4379" y="1731.3" font-size="16.2" text-anchor="middle" >pseudo-ground truth</text>
<text class="sr" x="3474.2" y="1972.5" font-size="16.2" text-anchor="middle" >Full Model</text>
<text class="sr" x="3700.1" y="1972.5" font-size="16.2" text-anchor="middle" ><tspan font-style="italic">w/o</tspan> <tspan font-style="italic" font-size="17">L</tspan><tspan font-style="italic" font-size="11" dy="3" letter-spacing=".8">geo</tspan><tspan dy="-3"> </tspan>&amp; <tspan font-style="italic" font-size="17">L</tspan><tspan font-style="italic" font-size="11" dy="3" letter-spacing=".8">skin</tspan><tspan dy="-3"> </tspan></text>
<text class="sr" x="3933.7" y="1972.5" font-size="16.2" text-anchor="middle" ><tspan font-style="italic">w/o</tspan> soft constraints</text>
<text class="sr" x="4156.6" y="1972.5" font-size="16.2" text-anchor="middle" ><tspan font-style="italic">w/o</tspan> <tspan font-style="italic" font-size="17">L</tspan><tspan font-style="italic" font-size="11" dy="3" letter-spacing=".8">skin</tspan><tspan dy="-3"> </tspan></text>
<text class="sr" x="4379" y="1972.5" font-size="16.2" text-anchor="middle" ><tspan font-style="italic">w/</tspan> <tspan font-style="italic" font-size="17">L</tspan><tspan font-style="italic" font-size="11" dy="3" letter-spacing=".8">skin</tspan><tspan dy="-3"> </tspan></text>
<g transform="translate(3350,2030) scale(0.23292)"><g filter="url(#rg3)"><g filter="url(#b5)" stroke-linecap="round" stroke-linejoin="round"><ellipse cx="545" cy="160" rx="78" ry="92" fill="#d9cab8" /><polyline points="455,520 455,670" stroke-width="75" fill="none" stroke="#d9cab8"/><polyline points="560,500 540,680" stroke-width="75" fill="none" stroke="#d9cab8"/><ellipse cx="460" cy="380" rx="160" ry="155" fill="#4a3a35" /><ellipse cx="560" cy="450" rx="50" ry="90" fill="#b8a898" /><ellipse cx="260" cy="410" rx="120" ry="150" fill="#b8a898" /><polyline points="240,520 175,760" stroke-width="85" fill="none" stroke="#d9cab8"/><polyline points="300,520 230,720" stroke-width="60" fill="none" stroke="#d9cab8"/><ellipse cx="195" cy="250" rx="100" ry="98" fill="#6a574e" /><ellipse cx="165" cy="280" rx="70" ry="60" fill="#ebe4de" /><ellipse cx="150" cy="315" rx="35" ry="14" fill="#5a3a3a" /><ellipse cx="110" cy="250" rx="16" ry="14" fill="#222" /><g transform="rotate(15 1465 250)"><ellipse cx="1465" cy="250" rx="68" ry="118" fill="#d9cab8" /></g><polyline points="1400,480 1340,600 1330,720" stroke-width="70" fill="none" stroke="#d9cab8"/><polyline points="1470,450 1540,580 1555,690" stroke-width="60" fill="none" stroke="#d9cab8"/><polyline points="960,540 860,660 795,720" stroke-width="65" fill="none" stroke="#d9cab8"/><polyline points="1130,560 1170,660 1180,750" stroke-width="70" fill="none" stroke="#d9cab8"/><ellipse cx="1220" cy="400" rx="235" ry="115" fill="#4a3a35" /><ellipse cx="1130" cy="530" rx="200" ry="45" fill="#d9cab8" /><ellipse cx="1000" cy="430" rx="90" ry="110" fill="#b8a898" /><ellipse cx="885" cy="340" rx="105" ry="88" fill="#6a574e" /><ellipse cx="830" cy="390" rx="60" ry="42" fill="#ebe4de" /><ellipse cx="850" cy="425" rx="40" ry="12" fill="#5a3a3a" /><ellipse cx="785" cy="382" rx="14" ry="12" fill="#222" /><ellipse cx="1985" cy="165" rx="68" ry="100" fill="#d9cab8" /><ellipse cx="2000" cy="390" rx="90" ry="150" fill="#4a3a35" /><polyline points="1960,560 1950,650" stroke-width="60" fill="none" stroke="#d9cab8"/><ellipse cx="1850" cy="500" rx="125" ry="170" fill="#d9cab8" /><polyline points="1790,600 1770,760" stroke-width="85" fill="none" stroke="#d9cab8"/><polyline points="1870,600 1800,740" stroke-width="60" fill="none" stroke="#cbbba8"/><ellipse cx="1830" cy="290" rx="100" ry="88" fill="#6a574e" /><ellipse cx="1825" cy="320" rx="55" ry="50" fill="#ebe4de" /><ellipse cx="1790" cy="245" rx="20" ry="30" fill="#ebe4de" /><ellipse cx="1865" cy="245" rx="20" ry="30" fill="#ebe4de" /><ellipse cx="1815" cy="365" rx="35" ry="14" fill="#a05a5a" /><ellipse cx="1795" cy="318" rx="14" ry="11" fill="#222" /></g></g></g><g transform="translate(3850,2030) scale(0.26009)"><g filter="url(#rg3)"><g filter="url(#b5)" stroke-linecap="round" stroke-linejoin="round"><g transform="rotate(-25 640 185)"><ellipse cx="640" cy="185" rx="95" ry="55" fill="#d9cab8" /></g><polyline points="520,470 480,560 465,610" stroke-width="60" fill="none" stroke="#d9cab8"/><polyline points="640,400 700,480 730,560" stroke-width="60" fill="none" stroke="#d9cab8"/><ellipse cx="640" cy="380" rx="45" ry="90" fill="#b8a898" /><polyline points="250,470 190,580 160,650" stroke-width="60" fill="none" stroke="#d9cab8"/><polyline points="300,480 250,600 240,650" stroke-width="45" fill="none" stroke="#d9cab8"/><ellipse cx="400" cy="340" rx="225" ry="118" fill="#4a3a35" /><ellipse cx="240" cy="380" rx="85" ry="110" fill="#b8a898" /><ellipse cx="400" cy="450" rx="130" ry="35" fill="#b8a898" /><ellipse cx="175" cy="230" rx="100" ry="78" fill="#6a574e" /><ellipse cx="120" cy="245" rx="55" ry="40" fill="#ebe4de" /><ellipse cx="120" cy="275" rx="40" ry="10" fill="#5a3a3a" /><ellipse cx="72" cy="215" rx="14" ry="12" fill="#222" /><polyline points="1290,540 1290,640" stroke-width="65" fill="none" stroke="#d8bf92"/><ellipse cx="1210" cy="400" rx="135" ry="170" fill="#e6cfa2" /><polyline points="1030,560 1025,670" stroke-width="75" fill="none" stroke="#f0e2c4"/><polyline points="1190,580 1190,680" stroke-width="75" fill="none" stroke="#f0e2c4"/><ellipse cx="1110" cy="520" rx="110" ry="70" fill="#f0e2c4" /><polygon points="955,105 1000,210 950,240" fill="#c79a78" /><polygon points="1195,140 1200,250 1120,210" fill="#a86a60" /><ellipse cx="1080" cy="300" rx="128" ry="108" fill="#e6cfa2" /><ellipse cx="1025" cy="355" rx="45" ry="32" fill="#5a4640" /><ellipse cx="1010" cy="300" rx="16" ry="8" fill="#8a5a4a" /><ellipse cx="1085" cy="312" rx="16" ry="8" fill="#8a5a4a" /><polyline points="1830,190 1825,135" stroke-width="30" fill="none" stroke="#5c3b2f"/><polyline points="1900,400 1960,480 1980,525" stroke-width="50" fill="none" stroke="#5c3b2f"/><polyline points="1720,480 1740,580" stroke-width="45" fill="none" stroke="#4a2e24"/><ellipse cx="1800" cy="330" rx="180" ry="128" fill="#5c3b2f" /><ellipse cx="1615" cy="400" rx="92" ry="130" fill="#d9d0d3" /><polyline points="1640,520 1580,640 1540,700" stroke-width="50" fill="none" stroke="#d9d0d3"/><ellipse cx="1610" cy="210" rx="95" ry="98" fill="#5c3b2f" /><ellipse cx="1590" cy="225" rx="28" ry="70" fill="#d9d0d3" /><ellipse cx="1580" cy="262" rx="45" ry="32" fill="#6a4a42" /><ellipse cx="1568" cy="250" rx="14" ry="10" fill="#222" /><ellipse cx="2205" cy="165" rx="38" ry="38" fill="#ecc08a" /><ellipse cx="2280" cy="380" rx="130" ry="200" fill="#e3a562" /><ellipse cx="2340" cy="450" rx="90" ry="125" fill="#f1ece7" /><polyline points="2200,560 2200,690" stroke-width="50" fill="none" stroke="#f1ece7"/><polyline points="2290,600 2280,705" stroke-width="50" fill="none" stroke="#f1ece7"/><polyline points="2420,560 2420,695" stroke-width="50" fill="none" stroke="#f1ece7"/><polygon points="2290,135 2330,170 2280,200" fill="#e3a562" /><polygon points="2440,100 2455,180 2400,160" fill="#e3a562" /><ellipse cx="2380" cy="230" rx="88" ry="85" fill="#e3a562" /><ellipse cx="2390" cy="270" rx="55" ry="50" fill="#f1ece7" /><ellipse cx="2395" cy="318" rx="12" ry="10" fill="#222" /></g></g></g></svg>

</body></html>
